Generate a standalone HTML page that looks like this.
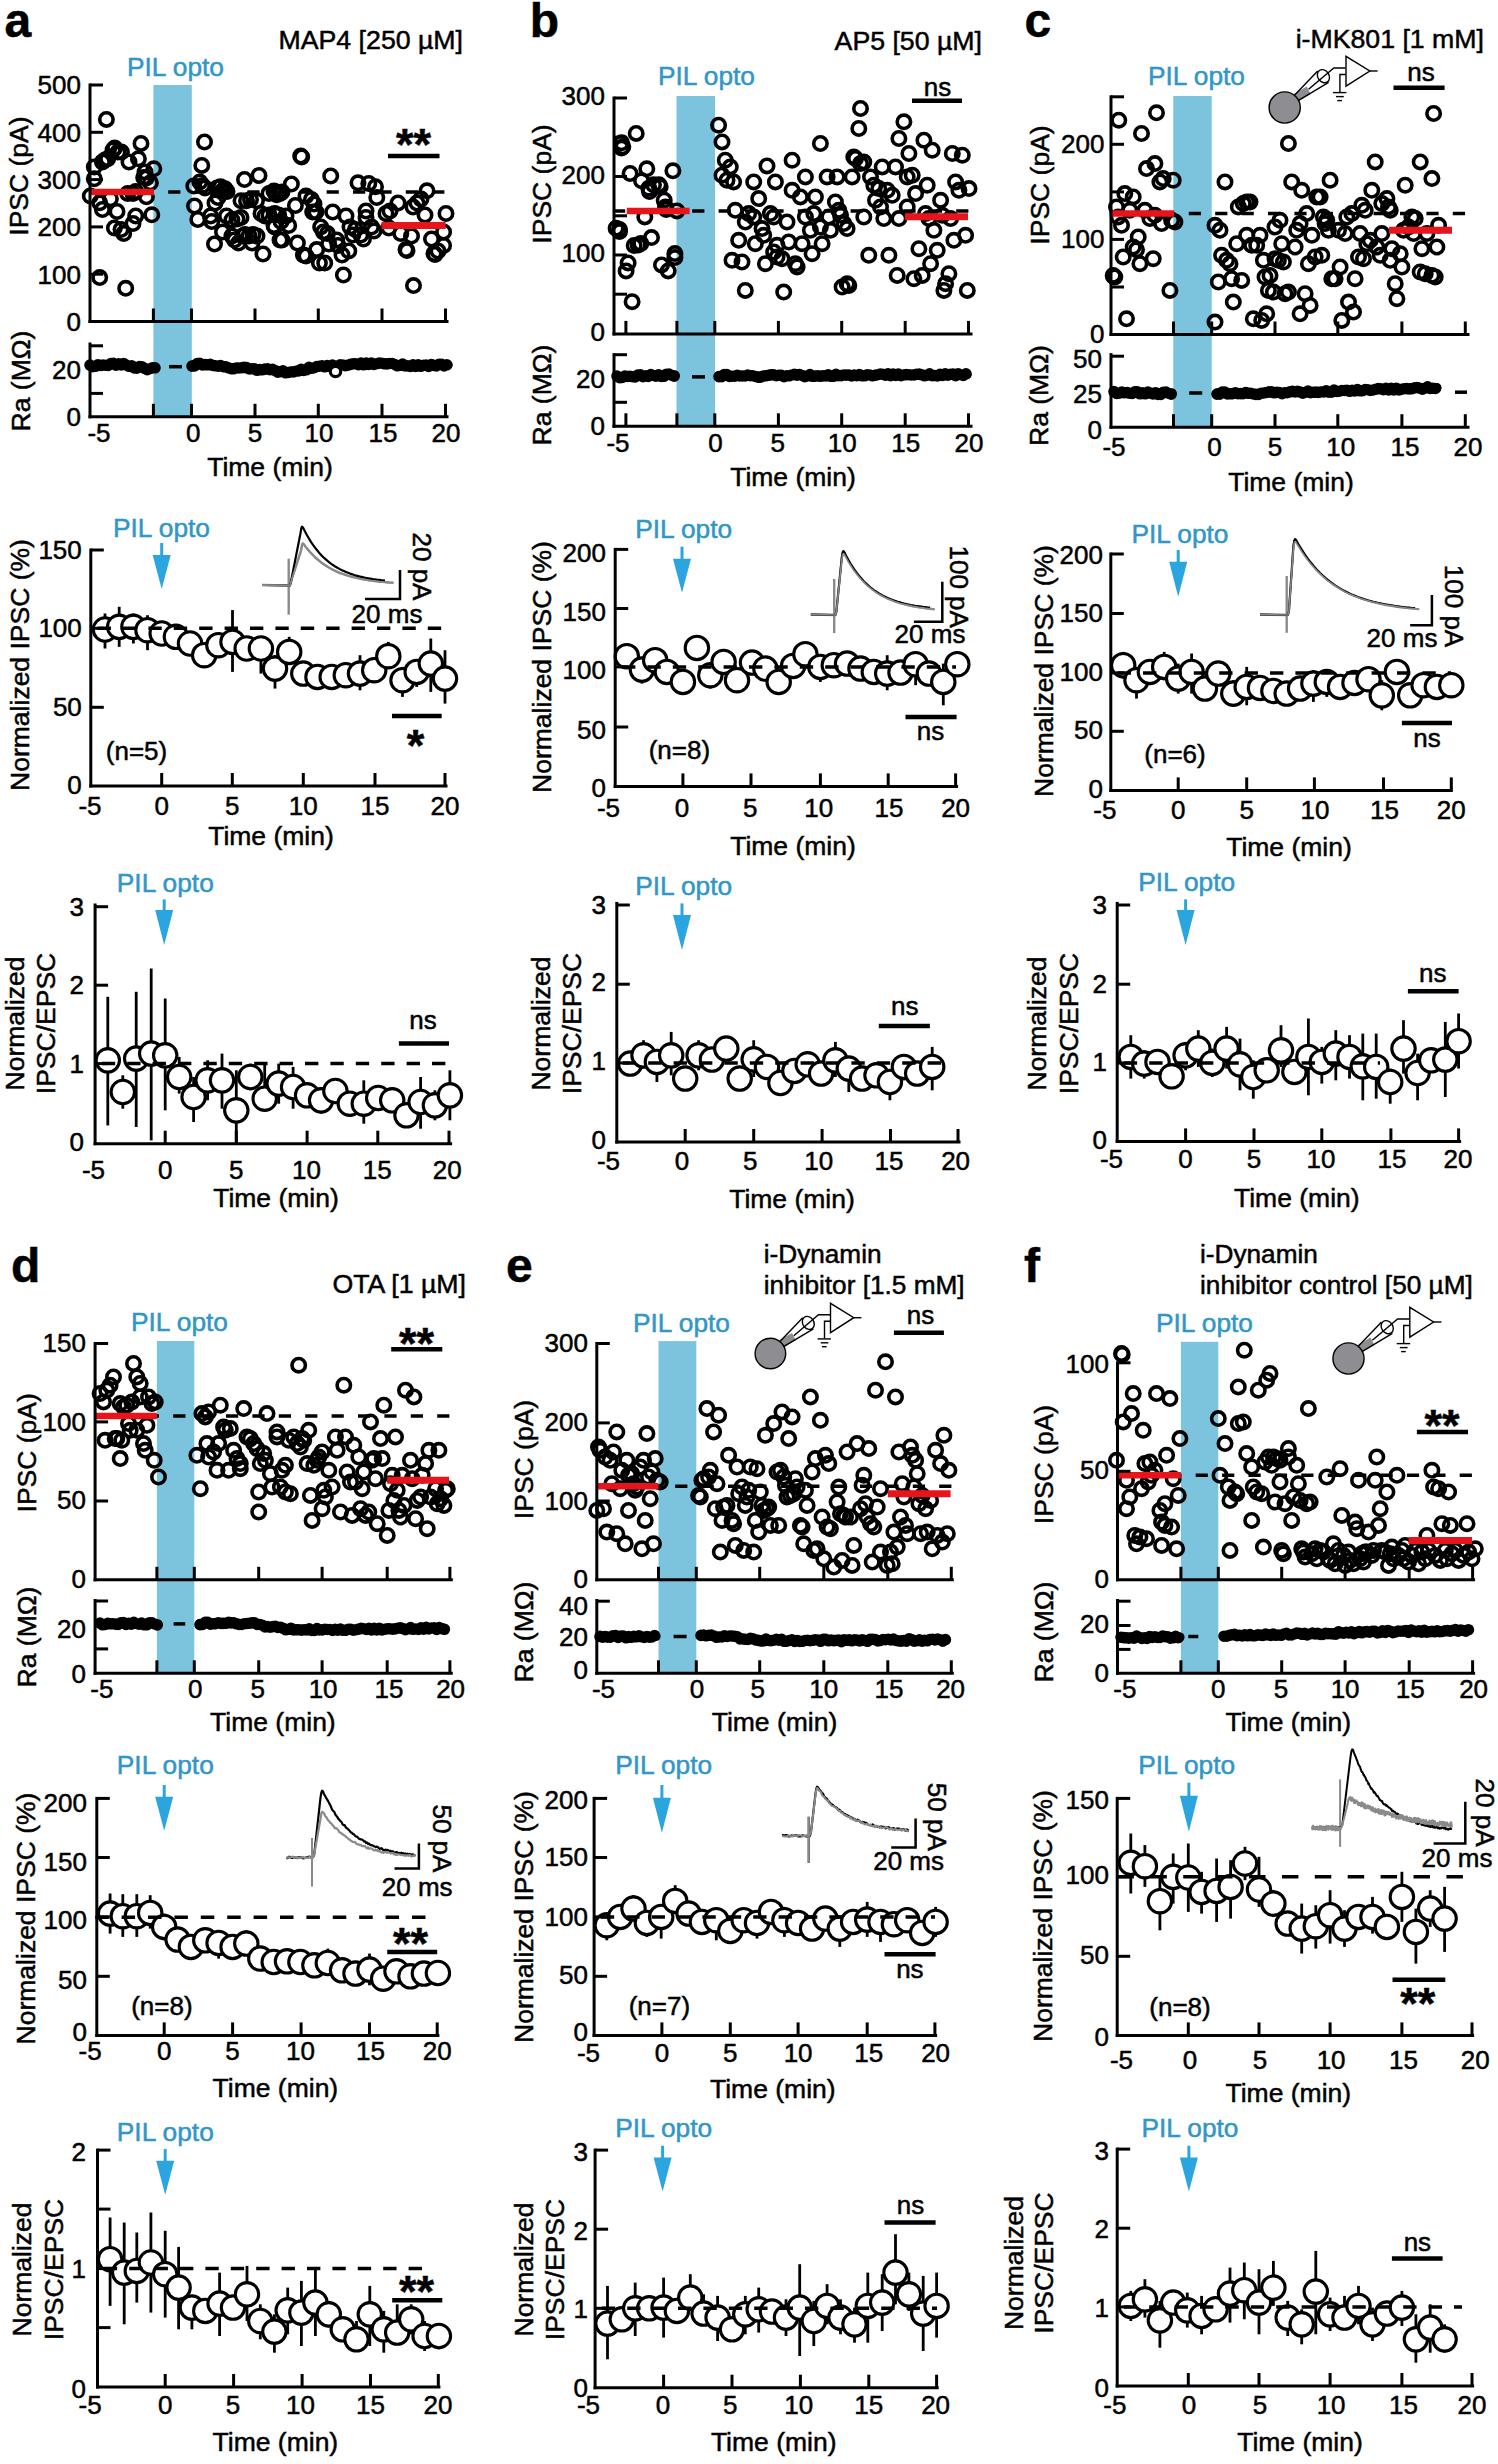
<!DOCTYPE html>
<html><head><meta charset="utf-8"><style>
html,body{margin:0;padding:0;background:#fff;}
svg{display:block;}
text{font-family:"Liberation Sans", sans-serif;stroke-width:0.5px;paint-order:stroke;}
</style></head><body>
<svg width="1498" height="2464" viewBox="0 0 1498 2464">
<rect x="0" y="0" width="1498" height="2464" fill="#fff"/>
<text x="4.5" y="36.6" font-size="48" text-anchor="start" stroke="#000" font-weight="bold">a</text>
<text x="463.0" y="49.3" font-size="26.7" text-anchor="end" stroke="#000">MAP4 [250 µM]</text>
<rect x="153.4" y="85.0" width="38.4" height="331.8" fill="#7cc3de"/>
<text x="127.0" y="75.5" font-size="26.3" text-anchor="start" fill="#3196c8" stroke="#3196c8">PIL opto</text>
<line x1="89.0" y1="192.0" x2="447.0" y2="192.0" stroke="#000" stroke-width="3.5" stroke-dasharray="12.2 14.2"/>
<circle cx="106.4" cy="119.4" r="6.7" fill="none" stroke="#000" stroke-width="3.6"/>
<circle cx="141.0" cy="143.4" r="6.7" fill="none" stroke="#000" stroke-width="3.6"/>
<circle cx="113.0" cy="150.0" r="6.7" fill="none" stroke="#000" stroke-width="3.6"/>
<circle cx="118.0" cy="152.0" r="6.7" fill="none" stroke="#000" stroke-width="3.6"/>
<circle cx="121.4" cy="152.0" r="6.7" fill="none" stroke="#000" stroke-width="3.6"/>
<circle cx="114.7" cy="148.0" r="6.7" fill="none" stroke="#000" stroke-width="3.6"/>
<circle cx="105.0" cy="160.0" r="6.7" fill="none" stroke="#000" stroke-width="3.6"/>
<circle cx="102.4" cy="162.0" r="6.7" fill="none" stroke="#000" stroke-width="3.6"/>
<circle cx="107.7" cy="158.8" r="6.7" fill="none" stroke="#000" stroke-width="3.6"/>
<circle cx="94.3" cy="167.0" r="6.7" fill="none" stroke="#000" stroke-width="3.6"/>
<circle cx="129.0" cy="162.0" r="6.7" fill="none" stroke="#000" stroke-width="3.6"/>
<circle cx="138.4" cy="158.8" r="6.7" fill="none" stroke="#000" stroke-width="3.6"/>
<circle cx="153.8" cy="168.8" r="6.7" fill="none" stroke="#000" stroke-width="3.6"/>
<circle cx="145.0" cy="172.0" r="6.7" fill="none" stroke="#000" stroke-width="3.6"/>
<circle cx="143.7" cy="177.5" r="6.7" fill="none" stroke="#000" stroke-width="3.6"/>
<circle cx="146.4" cy="178.0" r="6.7" fill="none" stroke="#000" stroke-width="3.6"/>
<circle cx="94.3" cy="178.8" r="6.7" fill="none" stroke="#000" stroke-width="3.6"/>
<circle cx="150.4" cy="182.8" r="6.7" fill="none" stroke="#000" stroke-width="3.6"/>
<circle cx="127.7" cy="193.5" r="6.7" fill="none" stroke="#000" stroke-width="3.6"/>
<circle cx="133.0" cy="193.5" r="6.7" fill="none" stroke="#000" stroke-width="3.6"/>
<circle cx="135.7" cy="191.5" r="6.7" fill="none" stroke="#000" stroke-width="3.6"/>
<circle cx="146.4" cy="196.8" r="6.7" fill="none" stroke="#000" stroke-width="3.6"/>
<circle cx="90.3" cy="196.0" r="6.7" fill="none" stroke="#000" stroke-width="3.6"/>
<circle cx="99.7" cy="202.8" r="6.7" fill="none" stroke="#000" stroke-width="3.6"/>
<circle cx="102.4" cy="209.5" r="6.7" fill="none" stroke="#000" stroke-width="3.6"/>
<circle cx="110.4" cy="198.8" r="6.7" fill="none" stroke="#000" stroke-width="3.6"/>
<circle cx="117.0" cy="211.5" r="6.7" fill="none" stroke="#000" stroke-width="3.6"/>
<circle cx="151.8" cy="214.8" r="6.7" fill="none" stroke="#000" stroke-width="3.6"/>
<circle cx="135.7" cy="216.0" r="6.7" fill="none" stroke="#000" stroke-width="3.6"/>
<circle cx="133.0" cy="223.5" r="6.7" fill="none" stroke="#000" stroke-width="3.6"/>
<circle cx="114.4" cy="228.0" r="6.7" fill="none" stroke="#000" stroke-width="3.6"/>
<circle cx="121.0" cy="229.5" r="6.7" fill="none" stroke="#000" stroke-width="3.6"/>
<circle cx="123.7" cy="233.5" r="6.7" fill="none" stroke="#000" stroke-width="3.6"/>
<circle cx="99.7" cy="277.6" r="6.7" fill="none" stroke="#000" stroke-width="3.6"/>
<circle cx="125.7" cy="288.3" r="6.7" fill="none" stroke="#000" stroke-width="3.6"/>
<circle cx="204.5" cy="142.0" r="6.7" fill="none" stroke="#000" stroke-width="3.6"/>
<circle cx="201.8" cy="165.4" r="6.7" fill="none" stroke="#000" stroke-width="3.6"/>
<circle cx="193.8" cy="186.0" r="6.7" fill="none" stroke="#000" stroke-width="3.6"/>
<circle cx="199.8" cy="182.0" r="6.7" fill="none" stroke="#000" stroke-width="3.6"/>
<circle cx="202.5" cy="185.5" r="6.7" fill="none" stroke="#000" stroke-width="3.6"/>
<circle cx="205.0" cy="188.0" r="6.7" fill="none" stroke="#000" stroke-width="3.6"/>
<circle cx="194.5" cy="206.0" r="6.7" fill="none" stroke="#000" stroke-width="3.6"/>
<circle cx="197.8" cy="219.5" r="6.7" fill="none" stroke="#000" stroke-width="3.6"/>
<circle cx="210.5" cy="216.0" r="6.7" fill="none" stroke="#000" stroke-width="3.6"/>
<circle cx="211.8" cy="221.5" r="6.7" fill="none" stroke="#000" stroke-width="3.6"/>
<circle cx="215.0" cy="203.0" r="6.7" fill="none" stroke="#000" stroke-width="3.6"/>
<circle cx="218.0" cy="197.5" r="6.7" fill="none" stroke="#000" stroke-width="3.6"/>
<circle cx="217.0" cy="188.0" r="6.7" fill="none" stroke="#000" stroke-width="3.6"/>
<circle cx="220.5" cy="186.8" r="6.7" fill="none" stroke="#000" stroke-width="3.6"/>
<circle cx="222.5" cy="190.8" r="6.7" fill="none" stroke="#000" stroke-width="3.6"/>
<circle cx="225.0" cy="188.8" r="6.7" fill="none" stroke="#000" stroke-width="3.6"/>
<circle cx="227.0" cy="191.5" r="6.7" fill="none" stroke="#000" stroke-width="3.6"/>
<circle cx="244.5" cy="179.5" r="6.7" fill="none" stroke="#000" stroke-width="3.6"/>
<circle cx="259.0" cy="175.5" r="6.7" fill="none" stroke="#000" stroke-width="3.6"/>
<circle cx="241.0" cy="200.8" r="6.7" fill="none" stroke="#000" stroke-width="3.6"/>
<circle cx="246.5" cy="200.8" r="6.7" fill="none" stroke="#000" stroke-width="3.6"/>
<circle cx="250.5" cy="199.5" r="6.7" fill="none" stroke="#000" stroke-width="3.6"/>
<circle cx="256.5" cy="200.8" r="6.7" fill="none" stroke="#000" stroke-width="3.6"/>
<circle cx="226.5" cy="216.0" r="6.7" fill="none" stroke="#000" stroke-width="3.6"/>
<circle cx="231.9" cy="220.0" r="6.7" fill="none" stroke="#000" stroke-width="3.6"/>
<circle cx="237.0" cy="218.9" r="6.7" fill="none" stroke="#000" stroke-width="3.6"/>
<circle cx="241.0" cy="217.5" r="6.7" fill="none" stroke="#000" stroke-width="3.6"/>
<circle cx="222.5" cy="232.0" r="6.7" fill="none" stroke="#000" stroke-width="3.6"/>
<circle cx="231.9" cy="236.0" r="6.7" fill="none" stroke="#000" stroke-width="3.6"/>
<circle cx="234.5" cy="240.0" r="6.7" fill="none" stroke="#000" stroke-width="3.6"/>
<circle cx="238.5" cy="243.0" r="6.7" fill="none" stroke="#000" stroke-width="3.6"/>
<circle cx="242.5" cy="236.0" r="6.7" fill="none" stroke="#000" stroke-width="3.6"/>
<circle cx="245.0" cy="234.5" r="6.7" fill="none" stroke="#000" stroke-width="3.6"/>
<circle cx="249.0" cy="236.0" r="6.7" fill="none" stroke="#000" stroke-width="3.6"/>
<circle cx="253.0" cy="234.5" r="6.7" fill="none" stroke="#000" stroke-width="3.6"/>
<circle cx="257.0" cy="236.0" r="6.7" fill="none" stroke="#000" stroke-width="3.6"/>
<circle cx="252.0" cy="243.0" r="6.7" fill="none" stroke="#000" stroke-width="3.6"/>
<circle cx="214.5" cy="244.0" r="6.7" fill="none" stroke="#000" stroke-width="3.6"/>
<circle cx="263.0" cy="254.0" r="6.7" fill="none" stroke="#000" stroke-width="3.6"/>
<circle cx="261.0" cy="213.5" r="6.7" fill="none" stroke="#000" stroke-width="3.6"/>
<circle cx="265.0" cy="216.0" r="6.7" fill="none" stroke="#000" stroke-width="3.6"/>
<circle cx="269.0" cy="215.0" r="6.7" fill="none" stroke="#000" stroke-width="3.6"/>
<circle cx="274.6" cy="213.5" r="6.7" fill="none" stroke="#000" stroke-width="3.6"/>
<circle cx="278.6" cy="215.0" r="6.7" fill="none" stroke="#000" stroke-width="3.6"/>
<circle cx="269.0" cy="193.5" r="6.7" fill="none" stroke="#000" stroke-width="3.6"/>
<circle cx="274.6" cy="192.0" r="6.7" fill="none" stroke="#000" stroke-width="3.6"/>
<circle cx="280.0" cy="193.5" r="6.7" fill="none" stroke="#000" stroke-width="3.6"/>
<circle cx="274.6" cy="227.0" r="6.7" fill="none" stroke="#000" stroke-width="3.6"/>
<circle cx="281.0" cy="221.5" r="6.7" fill="none" stroke="#000" stroke-width="3.6"/>
<circle cx="280.0" cy="240.0" r="6.7" fill="none" stroke="#000" stroke-width="3.6"/>
<circle cx="300.7" cy="156.0" r="6.7" fill="none" stroke="#000" stroke-width="3.6"/>
<circle cx="301.7" cy="157.0" r="6.7" fill="none" stroke="#000" stroke-width="3.6"/>
<circle cx="330.7" cy="176.0" r="6.7" fill="none" stroke="#000" stroke-width="3.6"/>
<circle cx="291.4" cy="184.0" r="6.7" fill="none" stroke="#000" stroke-width="3.6"/>
<circle cx="282.0" cy="192.0" r="6.7" fill="none" stroke="#000" stroke-width="3.6"/>
<circle cx="274.0" cy="191.0" r="6.7" fill="none" stroke="#000" stroke-width="3.6"/>
<circle cx="276.7" cy="194.8" r="6.7" fill="none" stroke="#000" stroke-width="3.6"/>
<circle cx="306.0" cy="196.0" r="6.7" fill="none" stroke="#000" stroke-width="3.6"/>
<circle cx="311.4" cy="199.5" r="6.7" fill="none" stroke="#000" stroke-width="3.6"/>
<circle cx="314.0" cy="204.0" r="6.7" fill="none" stroke="#000" stroke-width="3.6"/>
<circle cx="312.7" cy="212.0" r="6.7" fill="none" stroke="#000" stroke-width="3.6"/>
<circle cx="316.0" cy="212.0" r="6.7" fill="none" stroke="#000" stroke-width="3.6"/>
<circle cx="295.4" cy="205.5" r="6.7" fill="none" stroke="#000" stroke-width="3.6"/>
<circle cx="286.0" cy="216.0" r="6.7" fill="none" stroke="#000" stroke-width="3.6"/>
<circle cx="288.7" cy="225.5" r="6.7" fill="none" stroke="#000" stroke-width="3.6"/>
<circle cx="275.3" cy="214.8" r="6.7" fill="none" stroke="#000" stroke-width="3.6"/>
<circle cx="274.0" cy="225.5" r="6.7" fill="none" stroke="#000" stroke-width="3.6"/>
<circle cx="282.0" cy="240.0" r="6.7" fill="none" stroke="#000" stroke-width="3.6"/>
<circle cx="297.4" cy="243.0" r="6.7" fill="none" stroke="#000" stroke-width="3.6"/>
<circle cx="303.4" cy="255.0" r="6.7" fill="none" stroke="#000" stroke-width="3.6"/>
<circle cx="306.0" cy="256.0" r="6.7" fill="none" stroke="#000" stroke-width="3.6"/>
<circle cx="316.7" cy="249.6" r="6.7" fill="none" stroke="#000" stroke-width="3.6"/>
<circle cx="319.4" cy="263.0" r="6.7" fill="none" stroke="#000" stroke-width="3.6"/>
<circle cx="324.7" cy="263.0" r="6.7" fill="none" stroke="#000" stroke-width="3.6"/>
<circle cx="320.7" cy="227.0" r="6.7" fill="none" stroke="#000" stroke-width="3.6"/>
<circle cx="323.4" cy="232.0" r="6.7" fill="none" stroke="#000" stroke-width="3.6"/>
<circle cx="327.4" cy="233.5" r="6.7" fill="none" stroke="#000" stroke-width="3.6"/>
<circle cx="332.7" cy="212.0" r="6.7" fill="none" stroke="#000" stroke-width="3.6"/>
<circle cx="346.0" cy="216.0" r="6.7" fill="none" stroke="#000" stroke-width="3.6"/>
<circle cx="328.7" cy="244.0" r="6.7" fill="none" stroke="#000" stroke-width="3.6"/>
<circle cx="336.7" cy="240.0" r="6.7" fill="none" stroke="#000" stroke-width="3.6"/>
<circle cx="338.0" cy="245.5" r="6.7" fill="none" stroke="#000" stroke-width="3.6"/>
<circle cx="342.0" cy="255.0" r="6.7" fill="none" stroke="#000" stroke-width="3.6"/>
<circle cx="348.8" cy="251.0" r="6.7" fill="none" stroke="#000" stroke-width="3.6"/>
<circle cx="343.4" cy="275.0" r="6.7" fill="none" stroke="#000" stroke-width="3.6"/>
<circle cx="358.0" cy="182.8" r="6.7" fill="none" stroke="#000" stroke-width="3.6"/>
<circle cx="368.8" cy="183.5" r="6.7" fill="none" stroke="#000" stroke-width="3.6"/>
<circle cx="375.5" cy="186.8" r="6.7" fill="none" stroke="#000" stroke-width="3.6"/>
<circle cx="376.8" cy="197.5" r="6.7" fill="none" stroke="#000" stroke-width="3.6"/>
<circle cx="366.0" cy="211.0" r="6.7" fill="none" stroke="#000" stroke-width="3.6"/>
<circle cx="366.0" cy="217.5" r="6.7" fill="none" stroke="#000" stroke-width="3.6"/>
<circle cx="350.0" cy="227.0" r="6.7" fill="none" stroke="#000" stroke-width="3.6"/>
<circle cx="355.4" cy="229.5" r="6.7" fill="none" stroke="#000" stroke-width="3.6"/>
<circle cx="360.8" cy="235.0" r="6.7" fill="none" stroke="#000" stroke-width="3.6"/>
<circle cx="363.5" cy="239.0" r="6.7" fill="none" stroke="#000" stroke-width="3.6"/>
<circle cx="352.8" cy="235.0" r="6.7" fill="none" stroke="#000" stroke-width="3.6"/>
<circle cx="371.5" cy="227.0" r="6.7" fill="none" stroke="#000" stroke-width="3.6"/>
<circle cx="374.0" cy="231.0" r="6.7" fill="none" stroke="#000" stroke-width="3.6"/>
<circle cx="386.0" cy="213.5" r="6.7" fill="none" stroke="#000" stroke-width="3.6"/>
<circle cx="390.0" cy="211.0" r="6.7" fill="none" stroke="#000" stroke-width="3.6"/>
<circle cx="398.0" cy="203.0" r="6.7" fill="none" stroke="#000" stroke-width="3.6"/>
<circle cx="388.8" cy="228.0" r="6.7" fill="none" stroke="#000" stroke-width="3.6"/>
<circle cx="400.8" cy="233.5" r="6.7" fill="none" stroke="#000" stroke-width="3.6"/>
<circle cx="406.0" cy="249.6" r="6.7" fill="none" stroke="#000" stroke-width="3.6"/>
<circle cx="407.0" cy="250.6" r="6.7" fill="none" stroke="#000" stroke-width="3.6"/>
<circle cx="413.5" cy="285.6" r="6.7" fill="none" stroke="#000" stroke-width="3.6"/>
<circle cx="411.5" cy="236.0" r="6.7" fill="none" stroke="#000" stroke-width="3.6"/>
<circle cx="413.0" cy="207.0" r="6.7" fill="none" stroke="#000" stroke-width="3.6"/>
<circle cx="417.0" cy="203.0" r="6.7" fill="none" stroke="#000" stroke-width="3.6"/>
<circle cx="421.0" cy="199.0" r="6.7" fill="none" stroke="#000" stroke-width="3.6"/>
<circle cx="427.0" cy="190.8" r="6.7" fill="none" stroke="#000" stroke-width="3.6"/>
<circle cx="425.0" cy="215.0" r="6.7" fill="none" stroke="#000" stroke-width="3.6"/>
<circle cx="431.5" cy="239.0" r="6.7" fill="none" stroke="#000" stroke-width="3.6"/>
<circle cx="434.0" cy="253.5" r="6.7" fill="none" stroke="#000" stroke-width="3.6"/>
<circle cx="435.0" cy="254.5" r="6.7" fill="none" stroke="#000" stroke-width="3.6"/>
<circle cx="438.0" cy="251.0" r="6.7" fill="none" stroke="#000" stroke-width="3.6"/>
<circle cx="443.6" cy="245.5" r="6.7" fill="none" stroke="#000" stroke-width="3.6"/>
<circle cx="446.0" cy="213.5" r="6.7" fill="none" stroke="#000" stroke-width="3.6"/>
<circle cx="443.6" cy="232.0" r="6.7" fill="none" stroke="#000" stroke-width="3.6"/>
<line x1="90.0" y1="192.0" x2="154.0" y2="192.0" stroke="#e8141b" stroke-width="6.5"/>
<line x1="381.5" y1="225.5" x2="445.6" y2="225.5" stroke="#e8141b" stroke-width="7"/>
<text x="413.5" y="159.5" font-size="45" text-anchor="middle" stroke="#000" font-weight="bold">**</text>
<line x1="388.0" y1="156.0" x2="439.5" y2="156.0" stroke="#000" stroke-width="4.5"/>
<line x1="90.0" y1="83.5" x2="90.0" y2="323.0" stroke="#000" stroke-width="3"/>
<line x1="90.0" y1="85.0" x2="103.0" y2="85.0" stroke="#000" stroke-width="3"/>
<line x1="90.0" y1="132.3" x2="103.0" y2="132.3" stroke="#000" stroke-width="3"/>
<line x1="90.0" y1="179.6" x2="103.0" y2="179.6" stroke="#000" stroke-width="3"/>
<line x1="90.0" y1="226.9" x2="103.0" y2="226.9" stroke="#000" stroke-width="3"/>
<line x1="90.0" y1="274.2" x2="103.0" y2="274.2" stroke="#000" stroke-width="3"/>
<text x="81.0" y="94.3" font-size="26" text-anchor="end" stroke="#000">500</text>
<text x="81.0" y="141.6" font-size="26" text-anchor="end" stroke="#000">400</text>
<text x="81.0" y="188.9" font-size="26" text-anchor="end" stroke="#000">300</text>
<text x="81.0" y="236.2" font-size="26" text-anchor="end" stroke="#000">200</text>
<text x="81.0" y="283.5" font-size="26" text-anchor="end" stroke="#000">100</text>
<text x="81.0" y="330.8" font-size="26" text-anchor="end" stroke="#000">0</text>
<line x1="88.5" y1="321.5" x2="448.5" y2="321.5" stroke="#000" stroke-width="3"/>
<line x1="153.4" y1="321.5" x2="153.4" y2="308.5" stroke="#000" stroke-width="3"/>
<line x1="191.5" y1="321.5" x2="191.5" y2="308.5" stroke="#000" stroke-width="3"/>
<line x1="255.0" y1="321.5" x2="255.0" y2="308.5" stroke="#000" stroke-width="3"/>
<line x1="318.3" y1="321.5" x2="318.3" y2="308.5" stroke="#000" stroke-width="3"/>
<line x1="382.0" y1="321.5" x2="382.0" y2="308.5" stroke="#000" stroke-width="3"/>
<line x1="445.5" y1="321.5" x2="445.5" y2="308.5" stroke="#000" stroke-width="3"/>
<text x="27.8" y="176.1" font-size="26.5" text-anchor="middle" stroke="#000" transform="rotate(-90 27.8 176.1)">IPSC (pA)</text>
<line x1="169.0" y1="366.7" x2="182.0" y2="366.7" stroke="#000" stroke-width="3.5" stroke-dasharray="13 14"/>
<polyline points="90.0,366.0 105.0,365.0 120.0,364.0 135.0,367.0 150.0,369.0 155.0,368.0" fill="none" stroke="#000" stroke-width="9.2" stroke-linecap="round" stroke-linejoin="round"/>
<path d="M84.2,365.1a5.8,5.8 0 1,0 11.6,0a5.8,5.8 0 1,0 -11.6,0M86.8,366.7a5.8,5.8 0 1,0 11.6,0a5.8,5.8 0 1,0 -11.6,0M89.4,366.3a5.8,5.8 0 1,0 11.6,0a5.8,5.8 0 1,0 -11.6,0M92.0,364.9a5.8,5.8 0 1,0 11.6,0a5.8,5.8 0 1,0 -11.6,0M94.6,365.3a5.8,5.8 0 1,0 11.6,0a5.8,5.8 0 1,0 -11.6,0M97.2,365.0a5.8,5.8 0 1,0 11.6,0a5.8,5.8 0 1,0 -11.6,0M99.8,365.3a5.8,5.8 0 1,0 11.6,0a5.8,5.8 0 1,0 -11.6,0M102.4,365.5a5.8,5.8 0 1,0 11.6,0a5.8,5.8 0 1,0 -11.6,0M105.0,363.6a5.8,5.8 0 1,0 11.6,0a5.8,5.8 0 1,0 -11.6,0M107.6,363.3a5.8,5.8 0 1,0 11.6,0a5.8,5.8 0 1,0 -11.6,0M110.2,365.1a5.8,5.8 0 1,0 11.6,0a5.8,5.8 0 1,0 -11.6,0M112.8,363.9a5.8,5.8 0 1,0 11.6,0a5.8,5.8 0 1,0 -11.6,0M115.4,364.9a5.8,5.8 0 1,0 11.6,0a5.8,5.8 0 1,0 -11.6,0M118.0,363.6a5.8,5.8 0 1,0 11.6,0a5.8,5.8 0 1,0 -11.6,0M120.6,365.1a5.8,5.8 0 1,0 11.6,0a5.8,5.8 0 1,0 -11.6,0M123.2,366.3a5.8,5.8 0 1,0 11.6,0a5.8,5.8 0 1,0 -11.6,0M125.8,365.7a5.8,5.8 0 1,0 11.6,0a5.8,5.8 0 1,0 -11.6,0M128.4,367.9a5.8,5.8 0 1,0 11.6,0a5.8,5.8 0 1,0 -11.6,0M131.0,368.2a5.8,5.8 0 1,0 11.6,0a5.8,5.8 0 1,0 -11.6,0M133.6,366.5a5.8,5.8 0 1,0 11.6,0a5.8,5.8 0 1,0 -11.6,0M136.2,366.8a5.8,5.8 0 1,0 11.6,0a5.8,5.8 0 1,0 -11.6,0M138.8,368.4a5.8,5.8 0 1,0 11.6,0a5.8,5.8 0 1,0 -11.6,0M141.4,369.7a5.8,5.8 0 1,0 11.6,0a5.8,5.8 0 1,0 -11.6,0M144.0,368.7a5.8,5.8 0 1,0 11.6,0a5.8,5.8 0 1,0 -11.6,0M146.6,367.8a5.8,5.8 0 1,0 11.6,0a5.8,5.8 0 1,0 -11.6,0M149.2,367.8a5.8,5.8 0 1,0 11.6,0a5.8,5.8 0 1,0 -11.6,0" fill="#000"/>
<polyline points="192.0,365.0 205.0,364.0 225.0,367.0 250.0,369.0 270.0,370.0 287.0,372.0 300.0,370.0 320.0,366.0 340.0,365.0 360.0,364.0 380.0,363.0 400.0,365.0 420.0,366.0 440.0,365.0 448.0,365.0" fill="none" stroke="#000" stroke-width="9.2" stroke-linecap="round" stroke-linejoin="round"/>
<path d="M186.2,366.1a5.8,5.8 0 1,0 11.6,0a5.8,5.8 0 1,0 -11.6,0M188.8,365.9a5.8,5.8 0 1,0 11.6,0a5.8,5.8 0 1,0 -11.6,0M191.4,363.5a5.8,5.8 0 1,0 11.6,0a5.8,5.8 0 1,0 -11.6,0M194.0,363.4a5.8,5.8 0 1,0 11.6,0a5.8,5.8 0 1,0 -11.6,0M196.6,365.0a5.8,5.8 0 1,0 11.6,0a5.8,5.8 0 1,0 -11.6,0M199.2,364.6a5.8,5.8 0 1,0 11.6,0a5.8,5.8 0 1,0 -11.6,0M201.8,364.8a5.8,5.8 0 1,0 11.6,0a5.8,5.8 0 1,0 -11.6,0M204.4,364.3a5.8,5.8 0 1,0 11.6,0a5.8,5.8 0 1,0 -11.6,0M207.0,365.4a5.8,5.8 0 1,0 11.6,0a5.8,5.8 0 1,0 -11.6,0M209.6,365.8a5.8,5.8 0 1,0 11.6,0a5.8,5.8 0 1,0 -11.6,0M212.2,366.1a5.8,5.8 0 1,0 11.6,0a5.8,5.8 0 1,0 -11.6,0M214.8,365.5a5.8,5.8 0 1,0 11.6,0a5.8,5.8 0 1,0 -11.6,0M217.4,366.6a5.8,5.8 0 1,0 11.6,0a5.8,5.8 0 1,0 -11.6,0M220.0,366.8a5.8,5.8 0 1,0 11.6,0a5.8,5.8 0 1,0 -11.6,0M222.6,367.8a5.8,5.8 0 1,0 11.6,0a5.8,5.8 0 1,0 -11.6,0M225.2,368.7a5.8,5.8 0 1,0 11.6,0a5.8,5.8 0 1,0 -11.6,0M227.8,368.8a5.8,5.8 0 1,0 11.6,0a5.8,5.8 0 1,0 -11.6,0M230.4,368.0a5.8,5.8 0 1,0 11.6,0a5.8,5.8 0 1,0 -11.6,0M233.0,368.0a5.8,5.8 0 1,0 11.6,0a5.8,5.8 0 1,0 -11.6,0M235.6,367.8a5.8,5.8 0 1,0 11.6,0a5.8,5.8 0 1,0 -11.6,0M238.2,367.4a5.8,5.8 0 1,0 11.6,0a5.8,5.8 0 1,0 -11.6,0M240.8,367.6a5.8,5.8 0 1,0 11.6,0a5.8,5.8 0 1,0 -11.6,0M243.4,368.9a5.8,5.8 0 1,0 11.6,0a5.8,5.8 0 1,0 -11.6,0M246.0,368.7a5.8,5.8 0 1,0 11.6,0a5.8,5.8 0 1,0 -11.6,0M248.6,368.9a5.8,5.8 0 1,0 11.6,0a5.8,5.8 0 1,0 -11.6,0M251.2,370.3a5.8,5.8 0 1,0 11.6,0a5.8,5.8 0 1,0 -11.6,0M253.8,369.5a5.8,5.8 0 1,0 11.6,0a5.8,5.8 0 1,0 -11.6,0M256.4,369.8a5.8,5.8 0 1,0 11.6,0a5.8,5.8 0 1,0 -11.6,0M259.0,369.1a5.8,5.8 0 1,0 11.6,0a5.8,5.8 0 1,0 -11.6,0M261.6,368.7a5.8,5.8 0 1,0 11.6,0a5.8,5.8 0 1,0 -11.6,0M264.2,369.6a5.8,5.8 0 1,0 11.6,0a5.8,5.8 0 1,0 -11.6,0M266.8,369.4a5.8,5.8 0 1,0 11.6,0a5.8,5.8 0 1,0 -11.6,0M269.4,370.6a5.8,5.8 0 1,0 11.6,0a5.8,5.8 0 1,0 -11.6,0M272.0,372.1a5.8,5.8 0 1,0 11.6,0a5.8,5.8 0 1,0 -11.6,0M274.6,371.6a5.8,5.8 0 1,0 11.6,0a5.8,5.8 0 1,0 -11.6,0M277.2,370.8a5.8,5.8 0 1,0 11.6,0a5.8,5.8 0 1,0 -11.6,0M279.8,372.8a5.8,5.8 0 1,0 11.6,0a5.8,5.8 0 1,0 -11.6,0M282.4,372.5a5.8,5.8 0 1,0 11.6,0a5.8,5.8 0 1,0 -11.6,0M285.0,372.0a5.8,5.8 0 1,0 11.6,0a5.8,5.8 0 1,0 -11.6,0M287.6,372.0a5.8,5.8 0 1,0 11.6,0a5.8,5.8 0 1,0 -11.6,0M290.2,371.2a5.8,5.8 0 1,0 11.6,0a5.8,5.8 0 1,0 -11.6,0M292.8,370.9a5.8,5.8 0 1,0 11.6,0a5.8,5.8 0 1,0 -11.6,0M295.4,369.4a5.8,5.8 0 1,0 11.6,0a5.8,5.8 0 1,0 -11.6,0M298.0,370.4a5.8,5.8 0 1,0 11.6,0a5.8,5.8 0 1,0 -11.6,0M300.6,369.8a5.8,5.8 0 1,0 11.6,0a5.8,5.8 0 1,0 -11.6,0M303.2,367.4a5.8,5.8 0 1,0 11.6,0a5.8,5.8 0 1,0 -11.6,0M305.8,368.3a5.8,5.8 0 1,0 11.6,0a5.8,5.8 0 1,0 -11.6,0M308.4,367.7a5.8,5.8 0 1,0 11.6,0a5.8,5.8 0 1,0 -11.6,0M311.0,366.5a5.8,5.8 0 1,0 11.6,0a5.8,5.8 0 1,0 -11.6,0M313.6,366.2a5.8,5.8 0 1,0 11.6,0a5.8,5.8 0 1,0 -11.6,0M316.2,365.9a5.8,5.8 0 1,0 11.6,0a5.8,5.8 0 1,0 -11.6,0M318.8,366.8a5.8,5.8 0 1,0 11.6,0a5.8,5.8 0 1,0 -11.6,0M321.4,365.6a5.8,5.8 0 1,0 11.6,0a5.8,5.8 0 1,0 -11.6,0M324.0,366.3a5.8,5.8 0 1,0 11.6,0a5.8,5.8 0 1,0 -11.6,0M326.6,365.0a5.8,5.8 0 1,0 11.6,0a5.8,5.8 0 1,0 -11.6,0M329.2,366.2a5.8,5.8 0 1,0 11.6,0a5.8,5.8 0 1,0 -11.6,0M331.8,366.1a5.8,5.8 0 1,0 11.6,0a5.8,5.8 0 1,0 -11.6,0M334.4,364.9a5.8,5.8 0 1,0 11.6,0a5.8,5.8 0 1,0 -11.6,0M337.0,365.0a5.8,5.8 0 1,0 11.6,0a5.8,5.8 0 1,0 -11.6,0M339.6,365.7a5.8,5.8 0 1,0 11.6,0a5.8,5.8 0 1,0 -11.6,0M342.2,365.1a5.8,5.8 0 1,0 11.6,0a5.8,5.8 0 1,0 -11.6,0M344.8,364.4a5.8,5.8 0 1,0 11.6,0a5.8,5.8 0 1,0 -11.6,0M347.4,363.7a5.8,5.8 0 1,0 11.6,0a5.8,5.8 0 1,0 -11.6,0M350.0,363.8a5.8,5.8 0 1,0 11.6,0a5.8,5.8 0 1,0 -11.6,0M352.6,364.6a5.8,5.8 0 1,0 11.6,0a5.8,5.8 0 1,0 -11.6,0M355.2,363.1a5.8,5.8 0 1,0 11.6,0a5.8,5.8 0 1,0 -11.6,0M357.8,364.8a5.8,5.8 0 1,0 11.6,0a5.8,5.8 0 1,0 -11.6,0M360.4,363.1a5.8,5.8 0 1,0 11.6,0a5.8,5.8 0 1,0 -11.6,0M363.0,364.5a5.8,5.8 0 1,0 11.6,0a5.8,5.8 0 1,0 -11.6,0M365.6,363.0a5.8,5.8 0 1,0 11.6,0a5.8,5.8 0 1,0 -11.6,0M368.2,364.4a5.8,5.8 0 1,0 11.6,0a5.8,5.8 0 1,0 -11.6,0M370.8,363.7a5.8,5.8 0 1,0 11.6,0a5.8,5.8 0 1,0 -11.6,0M373.4,363.1a5.8,5.8 0 1,0 11.6,0a5.8,5.8 0 1,0 -11.6,0M376.0,363.2a5.8,5.8 0 1,0 11.6,0a5.8,5.8 0 1,0 -11.6,0M378.6,363.8a5.8,5.8 0 1,0 11.6,0a5.8,5.8 0 1,0 -11.6,0M381.2,363.9a5.8,5.8 0 1,0 11.6,0a5.8,5.8 0 1,0 -11.6,0M383.8,363.5a5.8,5.8 0 1,0 11.6,0a5.8,5.8 0 1,0 -11.6,0M386.4,363.5a5.8,5.8 0 1,0 11.6,0a5.8,5.8 0 1,0 -11.6,0M389.0,364.5a5.8,5.8 0 1,0 11.6,0a5.8,5.8 0 1,0 -11.6,0M391.6,365.8a5.8,5.8 0 1,0 11.6,0a5.8,5.8 0 1,0 -11.6,0M394.2,365.3a5.8,5.8 0 1,0 11.6,0a5.8,5.8 0 1,0 -11.6,0M396.8,364.1a5.8,5.8 0 1,0 11.6,0a5.8,5.8 0 1,0 -11.6,0M399.4,366.0a5.8,5.8 0 1,0 11.6,0a5.8,5.8 0 1,0 -11.6,0M402.0,365.9a5.8,5.8 0 1,0 11.6,0a5.8,5.8 0 1,0 -11.6,0M404.6,366.5a5.8,5.8 0 1,0 11.6,0a5.8,5.8 0 1,0 -11.6,0M407.2,364.9a5.8,5.8 0 1,0 11.6,0a5.8,5.8 0 1,0 -11.6,0M409.8,366.4a5.8,5.8 0 1,0 11.6,0a5.8,5.8 0 1,0 -11.6,0M412.4,364.9a5.8,5.8 0 1,0 11.6,0a5.8,5.8 0 1,0 -11.6,0M415.0,366.3a5.8,5.8 0 1,0 11.6,0a5.8,5.8 0 1,0 -11.6,0M417.6,365.3a5.8,5.8 0 1,0 11.6,0a5.8,5.8 0 1,0 -11.6,0M420.2,365.0a5.8,5.8 0 1,0 11.6,0a5.8,5.8 0 1,0 -11.6,0M422.8,366.5a5.8,5.8 0 1,0 11.6,0a5.8,5.8 0 1,0 -11.6,0M425.4,364.5a5.8,5.8 0 1,0 11.6,0a5.8,5.8 0 1,0 -11.6,0M428.0,365.4a5.8,5.8 0 1,0 11.6,0a5.8,5.8 0 1,0 -11.6,0M430.6,366.0a5.8,5.8 0 1,0 11.6,0a5.8,5.8 0 1,0 -11.6,0M433.2,364.4a5.8,5.8 0 1,0 11.6,0a5.8,5.8 0 1,0 -11.6,0M435.8,364.3a5.8,5.8 0 1,0 11.6,0a5.8,5.8 0 1,0 -11.6,0M438.4,365.9a5.8,5.8 0 1,0 11.6,0a5.8,5.8 0 1,0 -11.6,0M441.0,364.8a5.8,5.8 0 1,0 11.6,0a5.8,5.8 0 1,0 -11.6,0" fill="#000"/>
<circle cx="335.5" cy="371.5" r="5.2" fill="#fff" stroke="#000" stroke-width="3.2"/>
<line x1="90.0" y1="342.5" x2="90.0" y2="418.3" stroke="#000" stroke-width="3"/>
<line x1="90.0" y1="345.8" x2="103.0" y2="345.8" stroke="#000" stroke-width="3"/>
<line x1="90.0" y1="369.6" x2="103.0" y2="369.6" stroke="#000" stroke-width="3"/>
<line x1="90.0" y1="393.4" x2="103.0" y2="393.4" stroke="#000" stroke-width="3"/>
<text x="81.0" y="378.9" font-size="26" text-anchor="end" stroke="#000">20</text>
<text x="81.0" y="426.1" font-size="26" text-anchor="end" stroke="#000">0</text>
<line x1="88.5" y1="416.8" x2="448.5" y2="416.8" stroke="#000" stroke-width="3"/>
<line x1="153.4" y1="416.8" x2="153.4" y2="403.8" stroke="#000" stroke-width="3"/>
<line x1="191.5" y1="416.8" x2="191.5" y2="403.8" stroke="#000" stroke-width="3"/>
<line x1="255.0" y1="416.8" x2="255.0" y2="403.8" stroke="#000" stroke-width="3"/>
<line x1="318.3" y1="416.8" x2="318.3" y2="403.8" stroke="#000" stroke-width="3"/>
<line x1="382.0" y1="416.8" x2="382.0" y2="403.8" stroke="#000" stroke-width="3"/>
<line x1="445.5" y1="416.8" x2="445.5" y2="403.8" stroke="#000" stroke-width="3"/>
<text x="99.0" y="441.9" font-size="26" text-anchor="middle" stroke="#000">-5</text>
<text x="193.3" y="441.9" font-size="26" text-anchor="middle" stroke="#000">0</text>
<text x="255.0" y="441.9" font-size="26" text-anchor="middle" stroke="#000">5</text>
<text x="319.0" y="441.9" font-size="26" text-anchor="middle" stroke="#000">10</text>
<text x="383.0" y="441.9" font-size="26" text-anchor="middle" stroke="#000">15</text>
<text x="446.0" y="441.9" font-size="26" text-anchor="middle" stroke="#000">20</text>
<text x="29.5" y="381.0" font-size="26.5" text-anchor="middle" stroke="#000" transform="rotate(-90 29.5 381.0)">Ra (MΩ)</text>
<text x="270.0" y="475.8" font-size="26.5" text-anchor="middle" stroke="#000">Time (min)</text>
<text x="529.8" y="36.6" font-size="48" text-anchor="start" stroke="#000" font-weight="bold">b</text>
<text x="982.0" y="50.0" font-size="26.7" text-anchor="end" stroke="#000">AP5 [50 µM]</text>
<rect x="676.5" y="96.0" width="38.5" height="330.3" fill="#7cc3de"/>
<text x="658.0" y="85.4" font-size="26.3" text-anchor="start" fill="#3196c8" stroke="#3196c8">PIL opto</text>
<line x1="613.0" y1="210.9" x2="970.0" y2="210.9" stroke="#000" stroke-width="3.5" stroke-dasharray="12.2 14.2"/>
<circle cx="636.2" cy="133.4" r="6.7" fill="none" stroke="#000" stroke-width="3.6"/>
<circle cx="621.5" cy="142.8" r="6.7" fill="none" stroke="#000" stroke-width="3.6"/>
<circle cx="622.8" cy="146.8" r="6.7" fill="none" stroke="#000" stroke-width="3.6"/>
<circle cx="621.5" cy="148.1" r="6.7" fill="none" stroke="#000" stroke-width="3.6"/>
<circle cx="630.1" cy="173.5" r="6.7" fill="none" stroke="#000" stroke-width="3.6"/>
<circle cx="646.8" cy="168.8" r="6.7" fill="none" stroke="#000" stroke-width="3.6"/>
<circle cx="641.5" cy="180.8" r="6.7" fill="none" stroke="#000" stroke-width="3.6"/>
<circle cx="648.8" cy="188.2" r="6.7" fill="none" stroke="#000" stroke-width="3.6"/>
<circle cx="653.5" cy="184.8" r="6.7" fill="none" stroke="#000" stroke-width="3.6"/>
<circle cx="658.9" cy="184.8" r="6.7" fill="none" stroke="#000" stroke-width="3.6"/>
<circle cx="660.2" cy="186.8" r="6.7" fill="none" stroke="#000" stroke-width="3.6"/>
<circle cx="649.5" cy="191.5" r="6.7" fill="none" stroke="#000" stroke-width="3.6"/>
<circle cx="664.2" cy="200.2" r="6.7" fill="none" stroke="#000" stroke-width="3.6"/>
<circle cx="672.9" cy="170.8" r="6.7" fill="none" stroke="#000" stroke-width="3.6"/>
<circle cx="665.5" cy="206.9" r="6.7" fill="none" stroke="#000" stroke-width="3.6"/>
<circle cx="666.2" cy="209.5" r="6.7" fill="none" stroke="#000" stroke-width="3.6"/>
<circle cx="676.9" cy="210.9" r="6.7" fill="none" stroke="#000" stroke-width="3.6"/>
<circle cx="644.8" cy="216.9" r="6.7" fill="none" stroke="#000" stroke-width="3.6"/>
<circle cx="616.1" cy="228.2" r="6.7" fill="none" stroke="#000" stroke-width="3.6"/>
<circle cx="619.5" cy="231.6" r="6.7" fill="none" stroke="#000" stroke-width="3.6"/>
<circle cx="619.5" cy="229.6" r="6.7" fill="none" stroke="#000" stroke-width="3.6"/>
<circle cx="651.5" cy="237.6" r="6.7" fill="none" stroke="#000" stroke-width="3.6"/>
<circle cx="634.2" cy="245.6" r="6.7" fill="none" stroke="#000" stroke-width="3.6"/>
<circle cx="638.2" cy="244.9" r="6.7" fill="none" stroke="#000" stroke-width="3.6"/>
<circle cx="640.8" cy="243.6" r="6.7" fill="none" stroke="#000" stroke-width="3.6"/>
<circle cx="628.1" cy="262.9" r="6.7" fill="none" stroke="#000" stroke-width="3.6"/>
<circle cx="626.1" cy="270.9" r="6.7" fill="none" stroke="#000" stroke-width="3.6"/>
<circle cx="661.5" cy="264.9" r="6.7" fill="none" stroke="#000" stroke-width="3.6"/>
<circle cx="668.2" cy="270.9" r="6.7" fill="none" stroke="#000" stroke-width="3.6"/>
<circle cx="674.9" cy="257.6" r="6.7" fill="none" stroke="#000" stroke-width="3.6"/>
<circle cx="674.9" cy="253.6" r="6.7" fill="none" stroke="#000" stroke-width="3.6"/>
<circle cx="632.1" cy="301.7" r="6.7" fill="none" stroke="#000" stroke-width="3.6"/>
<circle cx="718.6" cy="125.2" r="6.7" fill="none" stroke="#000" stroke-width="3.6"/>
<circle cx="722.0" cy="141.9" r="6.7" fill="none" stroke="#000" stroke-width="3.6"/>
<circle cx="725.3" cy="160.2" r="6.7" fill="none" stroke="#000" stroke-width="3.6"/>
<circle cx="730.3" cy="166.9" r="6.7" fill="none" stroke="#000" stroke-width="3.6"/>
<circle cx="722.0" cy="175.2" r="6.7" fill="none" stroke="#000" stroke-width="3.6"/>
<circle cx="727.0" cy="180.2" r="6.7" fill="none" stroke="#000" stroke-width="3.6"/>
<circle cx="733.6" cy="181.9" r="6.7" fill="none" stroke="#000" stroke-width="3.6"/>
<circle cx="735.3" cy="210.3" r="6.7" fill="none" stroke="#000" stroke-width="3.6"/>
<circle cx="738.7" cy="240.3" r="6.7" fill="none" stroke="#000" stroke-width="3.6"/>
<circle cx="732.0" cy="260.3" r="6.7" fill="none" stroke="#000" stroke-width="3.6"/>
<circle cx="742.0" cy="262.0" r="6.7" fill="none" stroke="#000" stroke-width="3.6"/>
<circle cx="745.3" cy="290.4" r="6.7" fill="none" stroke="#000" stroke-width="3.6"/>
<circle cx="753.7" cy="181.9" r="6.7" fill="none" stroke="#000" stroke-width="3.6"/>
<circle cx="748.7" cy="213.6" r="6.7" fill="none" stroke="#000" stroke-width="3.6"/>
<circle cx="753.7" cy="217.0" r="6.7" fill="none" stroke="#000" stroke-width="3.6"/>
<circle cx="745.3" cy="222.0" r="6.7" fill="none" stroke="#000" stroke-width="3.6"/>
<circle cx="758.7" cy="198.6" r="6.7" fill="none" stroke="#000" stroke-width="3.6"/>
<circle cx="762.0" cy="228.6" r="6.7" fill="none" stroke="#000" stroke-width="3.6"/>
<circle cx="763.7" cy="235.3" r="6.7" fill="none" stroke="#000" stroke-width="3.6"/>
<circle cx="755.3" cy="243.7" r="6.7" fill="none" stroke="#000" stroke-width="3.6"/>
<circle cx="765.4" cy="263.7" r="6.7" fill="none" stroke="#000" stroke-width="3.6"/>
<circle cx="767.0" cy="165.9" r="6.7" fill="none" stroke="#000" stroke-width="3.6"/>
<circle cx="770.4" cy="213.6" r="6.7" fill="none" stroke="#000" stroke-width="3.6"/>
<circle cx="773.7" cy="217.0" r="6.7" fill="none" stroke="#000" stroke-width="3.6"/>
<circle cx="775.4" cy="181.9" r="6.7" fill="none" stroke="#000" stroke-width="3.6"/>
<circle cx="777.0" cy="245.3" r="6.7" fill="none" stroke="#000" stroke-width="3.6"/>
<circle cx="773.7" cy="252.0" r="6.7" fill="none" stroke="#000" stroke-width="3.6"/>
<circle cx="777.0" cy="257.0" r="6.7" fill="none" stroke="#000" stroke-width="3.6"/>
<circle cx="782.0" cy="258.7" r="6.7" fill="none" stroke="#000" stroke-width="3.6"/>
<circle cx="783.7" cy="292.1" r="6.7" fill="none" stroke="#000" stroke-width="3.6"/>
<circle cx="787.0" cy="222.0" r="6.7" fill="none" stroke="#000" stroke-width="3.6"/>
<circle cx="792.1" cy="190.3" r="6.7" fill="none" stroke="#000" stroke-width="3.6"/>
<circle cx="792.1" cy="160.2" r="6.7" fill="none" stroke="#000" stroke-width="3.6"/>
<circle cx="788.7" cy="242.0" r="6.7" fill="none" stroke="#000" stroke-width="3.6"/>
<circle cx="795.4" cy="263.7" r="6.7" fill="none" stroke="#000" stroke-width="3.6"/>
<circle cx="797.1" cy="267.0" r="6.7" fill="none" stroke="#000" stroke-width="3.6"/>
<circle cx="800.4" cy="196.9" r="6.7" fill="none" stroke="#000" stroke-width="3.6"/>
<circle cx="802.1" cy="243.7" r="6.7" fill="none" stroke="#000" stroke-width="3.6"/>
<circle cx="805.4" cy="176.9" r="6.7" fill="none" stroke="#000" stroke-width="3.6"/>
<circle cx="805.4" cy="217.0" r="6.7" fill="none" stroke="#000" stroke-width="3.6"/>
<circle cx="810.4" cy="230.3" r="6.7" fill="none" stroke="#000" stroke-width="3.6"/>
<circle cx="812.1" cy="253.7" r="6.7" fill="none" stroke="#000" stroke-width="3.6"/>
<circle cx="815.4" cy="196.9" r="6.7" fill="none" stroke="#000" stroke-width="3.6"/>
<circle cx="813.8" cy="213.6" r="6.7" fill="none" stroke="#000" stroke-width="3.6"/>
<circle cx="820.4" cy="143.5" r="6.7" fill="none" stroke="#000" stroke-width="3.6"/>
<circle cx="820.4" cy="227.0" r="6.7" fill="none" stroke="#000" stroke-width="3.6"/>
<circle cx="822.1" cy="243.7" r="6.7" fill="none" stroke="#000" stroke-width="3.6"/>
<circle cx="827.1" cy="176.9" r="6.7" fill="none" stroke="#000" stroke-width="3.6"/>
<circle cx="828.8" cy="217.0" r="6.7" fill="none" stroke="#000" stroke-width="3.6"/>
<circle cx="830.4" cy="230.3" r="6.7" fill="none" stroke="#000" stroke-width="3.6"/>
<circle cx="835.4" cy="201.9" r="6.7" fill="none" stroke="#000" stroke-width="3.6"/>
<circle cx="837.1" cy="176.9" r="6.7" fill="none" stroke="#000" stroke-width="3.6"/>
<circle cx="838.8" cy="210.3" r="6.7" fill="none" stroke="#000" stroke-width="3.6"/>
<circle cx="840.5" cy="215.3" r="6.7" fill="none" stroke="#000" stroke-width="3.6"/>
<circle cx="843.8" cy="223.6" r="6.7" fill="none" stroke="#000" stroke-width="3.6"/>
<circle cx="847.1" cy="228.6" r="6.7" fill="none" stroke="#000" stroke-width="3.6"/>
<circle cx="842.1" cy="287.0" r="6.7" fill="none" stroke="#000" stroke-width="3.6"/>
<circle cx="847.1" cy="283.7" r="6.7" fill="none" stroke="#000" stroke-width="3.6"/>
<circle cx="848.8" cy="285.4" r="6.7" fill="none" stroke="#000" stroke-width="3.6"/>
<circle cx="852.1" cy="176.9" r="6.7" fill="none" stroke="#000" stroke-width="3.6"/>
<circle cx="853.8" cy="156.9" r="6.7" fill="none" stroke="#000" stroke-width="3.6"/>
<circle cx="855.5" cy="158.5" r="6.7" fill="none" stroke="#000" stroke-width="3.6"/>
<circle cx="860.5" cy="163.6" r="6.7" fill="none" stroke="#000" stroke-width="3.6"/>
<circle cx="863.8" cy="161.9" r="6.7" fill="none" stroke="#000" stroke-width="3.6"/>
<circle cx="858.8" cy="128.5" r="6.7" fill="none" stroke="#000" stroke-width="3.6"/>
<circle cx="860.5" cy="108.5" r="6.7" fill="none" stroke="#000" stroke-width="3.6"/>
<circle cx="863.8" cy="217.0" r="6.7" fill="none" stroke="#000" stroke-width="3.6"/>
<circle cx="868.8" cy="255.3" r="6.7" fill="none" stroke="#000" stroke-width="3.6"/>
<circle cx="870.5" cy="176.9" r="6.7" fill="none" stroke="#000" stroke-width="3.6"/>
<circle cx="873.8" cy="185.2" r="6.7" fill="none" stroke="#000" stroke-width="3.6"/>
<circle cx="875.5" cy="200.3" r="6.7" fill="none" stroke="#000" stroke-width="3.6"/>
<circle cx="878.8" cy="188.6" r="6.7" fill="none" stroke="#000" stroke-width="3.6"/>
<circle cx="880.5" cy="206.9" r="6.7" fill="none" stroke="#000" stroke-width="3.6"/>
<circle cx="882.2" cy="166.9" r="6.7" fill="none" stroke="#000" stroke-width="3.6"/>
<circle cx="883.8" cy="218.6" r="6.7" fill="none" stroke="#000" stroke-width="3.6"/>
<circle cx="887.2" cy="190.3" r="6.7" fill="none" stroke="#000" stroke-width="3.6"/>
<circle cx="892.2" cy="195.3" r="6.7" fill="none" stroke="#000" stroke-width="3.6"/>
<circle cx="888.9" cy="255.3" r="6.7" fill="none" stroke="#000" stroke-width="3.6"/>
<circle cx="895.5" cy="166.9" r="6.7" fill="none" stroke="#000" stroke-width="3.6"/>
<circle cx="897.2" cy="275.4" r="6.7" fill="none" stroke="#000" stroke-width="3.6"/>
<circle cx="898.9" cy="138.5" r="6.7" fill="none" stroke="#000" stroke-width="3.6"/>
<circle cx="903.9" cy="121.8" r="6.7" fill="none" stroke="#000" stroke-width="3.6"/>
<circle cx="898.9" cy="218.6" r="6.7" fill="none" stroke="#000" stroke-width="3.6"/>
<circle cx="907.2" cy="176.9" r="6.7" fill="none" stroke="#000" stroke-width="3.6"/>
<circle cx="912.2" cy="175.2" r="6.7" fill="none" stroke="#000" stroke-width="3.6"/>
<circle cx="908.9" cy="153.5" r="6.7" fill="none" stroke="#000" stroke-width="3.6"/>
<circle cx="907.2" cy="206.9" r="6.7" fill="none" stroke="#000" stroke-width="3.6"/>
<circle cx="913.9" cy="278.7" r="6.7" fill="none" stroke="#000" stroke-width="3.6"/>
<circle cx="915.6" cy="193.6" r="6.7" fill="none" stroke="#000" stroke-width="3.6"/>
<circle cx="918.9" cy="248.7" r="6.7" fill="none" stroke="#000" stroke-width="3.6"/>
<circle cx="923.9" cy="140.2" r="6.7" fill="none" stroke="#000" stroke-width="3.6"/>
<circle cx="922.2" cy="275.4" r="6.7" fill="none" stroke="#000" stroke-width="3.6"/>
<circle cx="925.6" cy="213.6" r="6.7" fill="none" stroke="#000" stroke-width="3.6"/>
<circle cx="927.2" cy="185.2" r="6.7" fill="none" stroke="#000" stroke-width="3.6"/>
<circle cx="928.9" cy="218.6" r="6.7" fill="none" stroke="#000" stroke-width="3.6"/>
<circle cx="932.2" cy="150.2" r="6.7" fill="none" stroke="#000" stroke-width="3.6"/>
<circle cx="933.9" cy="230.3" r="6.7" fill="none" stroke="#000" stroke-width="3.6"/>
<circle cx="930.6" cy="263.7" r="6.7" fill="none" stroke="#000" stroke-width="3.6"/>
<circle cx="937.2" cy="250.3" r="6.7" fill="none" stroke="#000" stroke-width="3.6"/>
<circle cx="940.6" cy="200.3" r="6.7" fill="none" stroke="#000" stroke-width="3.6"/>
<circle cx="942.3" cy="215.3" r="6.7" fill="none" stroke="#000" stroke-width="3.6"/>
<circle cx="945.6" cy="283.7" r="6.7" fill="none" stroke="#000" stroke-width="3.6"/>
<circle cx="943.9" cy="290.4" r="6.7" fill="none" stroke="#000" stroke-width="3.6"/>
<circle cx="948.9" cy="273.7" r="6.7" fill="none" stroke="#000" stroke-width="3.6"/>
<circle cx="950.6" cy="218.6" r="6.7" fill="none" stroke="#000" stroke-width="3.6"/>
<circle cx="952.3" cy="153.5" r="6.7" fill="none" stroke="#000" stroke-width="3.6"/>
<circle cx="953.9" cy="240.3" r="6.7" fill="none" stroke="#000" stroke-width="3.6"/>
<circle cx="955.6" cy="181.9" r="6.7" fill="none" stroke="#000" stroke-width="3.6"/>
<circle cx="958.9" cy="190.3" r="6.7" fill="none" stroke="#000" stroke-width="3.6"/>
<circle cx="962.3" cy="155.2" r="6.7" fill="none" stroke="#000" stroke-width="3.6"/>
<circle cx="965.6" cy="235.3" r="6.7" fill="none" stroke="#000" stroke-width="3.6"/>
<circle cx="969.0" cy="188.6" r="6.7" fill="none" stroke="#000" stroke-width="3.6"/>
<circle cx="967.3" cy="290.4" r="6.7" fill="none" stroke="#000" stroke-width="3.6"/>
<line x1="626.8" y1="210.9" x2="689.6" y2="210.9" stroke="#e8141b" stroke-width="6.5"/>
<line x1="905.0" y1="216.7" x2="968.0" y2="216.7" stroke="#e8141b" stroke-width="7"/>
<text x="937.5" y="95.8" font-size="26" text-anchor="middle" stroke="#000">ns</text>
<line x1="912.0" y1="100.7" x2="962.0" y2="100.7" stroke="#000" stroke-width="4.5"/>
<line x1="614.0" y1="96.5" x2="614.0" y2="335.4" stroke="#000" stroke-width="3"/>
<line x1="614.0" y1="98.0" x2="627.0" y2="98.0" stroke="#000" stroke-width="3"/>
<line x1="614.0" y1="137.2" x2="627.0" y2="137.2" stroke="#000" stroke-width="3"/>
<line x1="614.0" y1="176.5" x2="627.0" y2="176.5" stroke="#000" stroke-width="3"/>
<line x1="614.0" y1="215.8" x2="627.0" y2="215.8" stroke="#000" stroke-width="3"/>
<line x1="614.0" y1="255.0" x2="627.0" y2="255.0" stroke="#000" stroke-width="3"/>
<line x1="614.0" y1="294.2" x2="627.0" y2="294.2" stroke="#000" stroke-width="3"/>
<text x="605.0" y="105.3" font-size="26" text-anchor="end" stroke="#000">300</text>
<text x="605.0" y="183.8" font-size="26" text-anchor="end" stroke="#000">200</text>
<text x="605.0" y="262.3" font-size="26" text-anchor="end" stroke="#000">100</text>
<text x="605.0" y="341.2" font-size="26" text-anchor="end" stroke="#000">0</text>
<line x1="612.5" y1="333.9" x2="972.5" y2="333.9" stroke="#000" stroke-width="3"/>
<line x1="625.9" y1="333.9" x2="625.9" y2="320.9" stroke="#000" stroke-width="3"/>
<line x1="676.9" y1="333.9" x2="676.9" y2="320.9" stroke="#000" stroke-width="3"/>
<line x1="714.8" y1="333.9" x2="714.8" y2="320.9" stroke="#000" stroke-width="3"/>
<line x1="778.4" y1="333.9" x2="778.4" y2="320.9" stroke="#000" stroke-width="3"/>
<line x1="841.7" y1="333.9" x2="841.7" y2="320.9" stroke="#000" stroke-width="3"/>
<line x1="905.2" y1="333.9" x2="905.2" y2="320.9" stroke="#000" stroke-width="3"/>
<line x1="968.5" y1="333.9" x2="968.5" y2="320.9" stroke="#000" stroke-width="3"/>
<text x="551.0" y="184.0" font-size="26.5" text-anchor="middle" stroke="#000" transform="rotate(-90 551.0 184.0)">IPSC (pA)</text>
<line x1="692.0" y1="376.9" x2="705.5" y2="376.9" stroke="#000" stroke-width="3.5" stroke-dasharray="13 14"/>
<polyline points="617.0,377.0 640.0,376.0 660.0,375.5 675.0,375.0" fill="none" stroke="#000" stroke-width="9.2" stroke-linecap="round" stroke-linejoin="round"/>
<path d="M611.2,376.1a5.8,5.8 0 1,0 11.6,0a5.8,5.8 0 1,0 -11.6,0M613.8,377.7a5.8,5.8 0 1,0 11.6,0a5.8,5.8 0 1,0 -11.6,0M616.4,377.4a5.8,5.8 0 1,0 11.6,0a5.8,5.8 0 1,0 -11.6,0M619.0,376.1a5.8,5.8 0 1,0 11.6,0a5.8,5.8 0 1,0 -11.6,0M621.6,376.5a5.8,5.8 0 1,0 11.6,0a5.8,5.8 0 1,0 -11.6,0M624.2,376.3a5.8,5.8 0 1,0 11.6,0a5.8,5.8 0 1,0 -11.6,0M626.8,376.7a5.8,5.8 0 1,0 11.6,0a5.8,5.8 0 1,0 -11.6,0M629.4,376.9a5.8,5.8 0 1,0 11.6,0a5.8,5.8 0 1,0 -11.6,0M632.0,375.1a5.8,5.8 0 1,0 11.6,0a5.8,5.8 0 1,0 -11.6,0M634.6,374.9a5.8,5.8 0 1,0 11.6,0a5.8,5.8 0 1,0 -11.6,0M637.2,376.7a5.8,5.8 0 1,0 11.6,0a5.8,5.8 0 1,0 -11.6,0M639.8,375.7a5.8,5.8 0 1,0 11.6,0a5.8,5.8 0 1,0 -11.6,0M642.4,376.4a5.8,5.8 0 1,0 11.6,0a5.8,5.8 0 1,0 -11.6,0M645.0,374.5a5.8,5.8 0 1,0 11.6,0a5.8,5.8 0 1,0 -11.6,0M647.6,375.5a5.8,5.8 0 1,0 11.6,0a5.8,5.8 0 1,0 -11.6,0M650.2,376.1a5.8,5.8 0 1,0 11.6,0a5.8,5.8 0 1,0 -11.6,0M652.8,374.9a5.8,5.8 0 1,0 11.6,0a5.8,5.8 0 1,0 -11.6,0M655.4,376.5a5.8,5.8 0 1,0 11.6,0a5.8,5.8 0 1,0 -11.6,0M658.0,376.3a5.8,5.8 0 1,0 11.6,0a5.8,5.8 0 1,0 -11.6,0M660.6,374.2a5.8,5.8 0 1,0 11.6,0a5.8,5.8 0 1,0 -11.6,0M663.2,374.1a5.8,5.8 0 1,0 11.6,0a5.8,5.8 0 1,0 -11.6,0M665.8,375.2a5.8,5.8 0 1,0 11.6,0a5.8,5.8 0 1,0 -11.6,0M668.4,376.1a5.8,5.8 0 1,0 11.6,0a5.8,5.8 0 1,0 -11.6,0" fill="#000"/>
<polyline points="719.0,375.5 760.0,376.0 800.0,375.5 850.0,375.0 900.0,374.5 940.0,375.0 967.0,374.5" fill="none" stroke="#000" stroke-width="9.2" stroke-linecap="round" stroke-linejoin="round"/>
<path d="M713.2,376.6a5.8,5.8 0 1,0 11.6,0a5.8,5.8 0 1,0 -11.6,0M715.8,376.6a5.8,5.8 0 1,0 11.6,0a5.8,5.8 0 1,0 -11.6,0M718.4,374.5a5.8,5.8 0 1,0 11.6,0a5.8,5.8 0 1,0 -11.6,0M721.0,374.6a5.8,5.8 0 1,0 11.6,0a5.8,5.8 0 1,0 -11.6,0M723.6,376.4a5.8,5.8 0 1,0 11.6,0a5.8,5.8 0 1,0 -11.6,0M726.2,376.2a5.8,5.8 0 1,0 11.6,0a5.8,5.8 0 1,0 -11.6,0M728.8,376.1a5.8,5.8 0 1,0 11.6,0a5.8,5.8 0 1,0 -11.6,0M731.4,375.3a5.8,5.8 0 1,0 11.6,0a5.8,5.8 0 1,0 -11.6,0M734.0,376.0a5.8,5.8 0 1,0 11.6,0a5.8,5.8 0 1,0 -11.6,0M736.6,376.0a5.8,5.8 0 1,0 11.6,0a5.8,5.8 0 1,0 -11.6,0M739.2,376.0a5.8,5.8 0 1,0 11.6,0a5.8,5.8 0 1,0 -11.6,0M741.8,375.0a5.8,5.8 0 1,0 11.6,0a5.8,5.8 0 1,0 -11.6,0M744.4,375.7a5.8,5.8 0 1,0 11.6,0a5.8,5.8 0 1,0 -11.6,0M747.0,375.7a5.8,5.8 0 1,0 11.6,0a5.8,5.8 0 1,0 -11.6,0M749.6,376.5a5.8,5.8 0 1,0 11.6,0a5.8,5.8 0 1,0 -11.6,0M752.2,377.2a5.8,5.8 0 1,0 11.6,0a5.8,5.8 0 1,0 -11.6,0M754.8,377.1a5.8,5.8 0 1,0 11.6,0a5.8,5.8 0 1,0 -11.6,0M757.4,376.1a5.8,5.8 0 1,0 11.6,0a5.8,5.8 0 1,0 -11.6,0M760.0,375.8a5.8,5.8 0 1,0 11.6,0a5.8,5.8 0 1,0 -11.6,0M762.6,375.3a5.8,5.8 0 1,0 11.6,0a5.8,5.8 0 1,0 -11.6,0M765.2,374.7a5.8,5.8 0 1,0 11.6,0a5.8,5.8 0 1,0 -11.6,0M767.8,374.7a5.8,5.8 0 1,0 11.6,0a5.8,5.8 0 1,0 -11.6,0M770.4,375.7a5.8,5.8 0 1,0 11.6,0a5.8,5.8 0 1,0 -11.6,0M773.0,375.3a5.8,5.8 0 1,0 11.6,0a5.8,5.8 0 1,0 -11.6,0M775.6,375.4a5.8,5.8 0 1,0 11.6,0a5.8,5.8 0 1,0 -11.6,0M778.2,376.6a5.8,5.8 0 1,0 11.6,0a5.8,5.8 0 1,0 -11.6,0M780.8,375.7a5.8,5.8 0 1,0 11.6,0a5.8,5.8 0 1,0 -11.6,0M783.4,375.8a5.8,5.8 0 1,0 11.6,0a5.8,5.8 0 1,0 -11.6,0M786.0,375.0a5.8,5.8 0 1,0 11.6,0a5.8,5.8 0 1,0 -11.6,0M788.6,374.4a5.8,5.8 0 1,0 11.6,0a5.8,5.8 0 1,0 -11.6,0M791.2,375.1a5.8,5.8 0 1,0 11.6,0a5.8,5.8 0 1,0 -11.6,0M793.8,374.6a5.8,5.8 0 1,0 11.6,0a5.8,5.8 0 1,0 -11.6,0M796.4,375.5a5.8,5.8 0 1,0 11.6,0a5.8,5.8 0 1,0 -11.6,0M799.0,376.6a5.8,5.8 0 1,0 11.6,0a5.8,5.8 0 1,0 -11.6,0M801.6,375.8a5.8,5.8 0 1,0 11.6,0a5.8,5.8 0 1,0 -11.6,0M804.2,374.6a5.8,5.8 0 1,0 11.6,0a5.8,5.8 0 1,0 -11.6,0M806.8,376.3a5.8,5.8 0 1,0 11.6,0a5.8,5.8 0 1,0 -11.6,0M809.4,376.1a5.8,5.8 0 1,0 11.6,0a5.8,5.8 0 1,0 -11.6,0M812.0,375.9a5.8,5.8 0 1,0 11.6,0a5.8,5.8 0 1,0 -11.6,0M814.6,376.3a5.8,5.8 0 1,0 11.6,0a5.8,5.8 0 1,0 -11.6,0M817.2,375.9a5.8,5.8 0 1,0 11.6,0a5.8,5.8 0 1,0 -11.6,0M819.8,375.9a5.8,5.8 0 1,0 11.6,0a5.8,5.8 0 1,0 -11.6,0M822.4,374.9a5.8,5.8 0 1,0 11.6,0a5.8,5.8 0 1,0 -11.6,0M825.0,376.3a5.8,5.8 0 1,0 11.6,0a5.8,5.8 0 1,0 -11.6,0M827.6,376.3a5.8,5.8 0 1,0 11.6,0a5.8,5.8 0 1,0 -11.6,0M830.2,374.3a5.8,5.8 0 1,0 11.6,0a5.8,5.8 0 1,0 -11.6,0M832.8,375.7a5.8,5.8 0 1,0 11.6,0a5.8,5.8 0 1,0 -11.6,0M835.4,375.6a5.8,5.8 0 1,0 11.6,0a5.8,5.8 0 1,0 -11.6,0M838.0,375.0a5.8,5.8 0 1,0 11.6,0a5.8,5.8 0 1,0 -11.6,0M840.6,375.1a5.8,5.8 0 1,0 11.6,0a5.8,5.8 0 1,0 -11.6,0M843.2,375.0a5.8,5.8 0 1,0 11.6,0a5.8,5.8 0 1,0 -11.6,0M845.8,376.0a5.8,5.8 0 1,0 11.6,0a5.8,5.8 0 1,0 -11.6,0M848.4,375.0a5.8,5.8 0 1,0 11.6,0a5.8,5.8 0 1,0 -11.6,0M851.0,375.7a5.8,5.8 0 1,0 11.6,0a5.8,5.8 0 1,0 -11.6,0M853.6,374.6a5.8,5.8 0 1,0 11.6,0a5.8,5.8 0 1,0 -11.6,0M856.2,375.8a5.8,5.8 0 1,0 11.6,0a5.8,5.8 0 1,0 -11.6,0M858.8,375.8a5.8,5.8 0 1,0 11.6,0a5.8,5.8 0 1,0 -11.6,0M861.4,374.7a5.8,5.8 0 1,0 11.6,0a5.8,5.8 0 1,0 -11.6,0M864.0,375.0a5.8,5.8 0 1,0 11.6,0a5.8,5.8 0 1,0 -11.6,0M866.6,375.8a5.8,5.8 0 1,0 11.6,0a5.8,5.8 0 1,0 -11.6,0M869.2,375.3a5.8,5.8 0 1,0 11.6,0a5.8,5.8 0 1,0 -11.6,0M871.8,374.7a5.8,5.8 0 1,0 11.6,0a5.8,5.8 0 1,0 -11.6,0M874.4,374.0a5.8,5.8 0 1,0 11.6,0a5.8,5.8 0 1,0 -11.6,0M877.0,374.3a5.8,5.8 0 1,0 11.6,0a5.8,5.8 0 1,0 -11.6,0M879.6,375.1a5.8,5.8 0 1,0 11.6,0a5.8,5.8 0 1,0 -11.6,0M882.2,373.8a5.8,5.8 0 1,0 11.6,0a5.8,5.8 0 1,0 -11.6,0M884.8,375.6a5.8,5.8 0 1,0 11.6,0a5.8,5.8 0 1,0 -11.6,0M887.4,374.0a5.8,5.8 0 1,0 11.6,0a5.8,5.8 0 1,0 -11.6,0M890.0,375.5a5.8,5.8 0 1,0 11.6,0a5.8,5.8 0 1,0 -11.6,0M892.6,374.1a5.8,5.8 0 1,0 11.6,0a5.8,5.8 0 1,0 -11.6,0M895.2,375.6a5.8,5.8 0 1,0 11.6,0a5.8,5.8 0 1,0 -11.6,0M897.8,375.0a5.8,5.8 0 1,0 11.6,0a5.8,5.8 0 1,0 -11.6,0M900.4,374.6a5.8,5.8 0 1,0 11.6,0a5.8,5.8 0 1,0 -11.6,0M903.0,374.7a5.8,5.8 0 1,0 11.6,0a5.8,5.8 0 1,0 -11.6,0M905.6,375.0a5.8,5.8 0 1,0 11.6,0a5.8,5.8 0 1,0 -11.6,0M908.2,374.9a5.8,5.8 0 1,0 11.6,0a5.8,5.8 0 1,0 -11.6,0M910.8,374.3a5.8,5.8 0 1,0 11.6,0a5.8,5.8 0 1,0 -11.6,0M913.4,374.0a5.8,5.8 0 1,0 11.6,0a5.8,5.8 0 1,0 -11.6,0M916.0,374.8a5.8,5.8 0 1,0 11.6,0a5.8,5.8 0 1,0 -11.6,0M918.6,375.8a5.8,5.8 0 1,0 11.6,0a5.8,5.8 0 1,0 -11.6,0M921.2,375.1a5.8,5.8 0 1,0 11.6,0a5.8,5.8 0 1,0 -11.6,0M923.8,373.9a5.8,5.8 0 1,0 11.6,0a5.8,5.8 0 1,0 -11.6,0M926.4,375.7a5.8,5.8 0 1,0 11.6,0a5.8,5.8 0 1,0 -11.6,0M929.0,375.5a5.8,5.8 0 1,0 11.6,0a5.8,5.8 0 1,0 -11.6,0M931.6,375.9a5.8,5.8 0 1,0 11.6,0a5.8,5.8 0 1,0 -11.6,0M934.2,374.3a5.8,5.8 0 1,0 11.6,0a5.8,5.8 0 1,0 -11.6,0M936.8,375.5a5.8,5.8 0 1,0 11.6,0a5.8,5.8 0 1,0 -11.6,0M939.4,373.8a5.8,5.8 0 1,0 11.6,0a5.8,5.8 0 1,0 -11.6,0M942.0,375.2a5.8,5.8 0 1,0 11.6,0a5.8,5.8 0 1,0 -11.6,0M944.6,374.3a5.8,5.8 0 1,0 11.6,0a5.8,5.8 0 1,0 -11.6,0M947.2,374.1a5.8,5.8 0 1,0 11.6,0a5.8,5.8 0 1,0 -11.6,0M949.8,375.6a5.8,5.8 0 1,0 11.6,0a5.8,5.8 0 1,0 -11.6,0M952.4,373.7a5.8,5.8 0 1,0 11.6,0a5.8,5.8 0 1,0 -11.6,0M955.0,374.7a5.8,5.8 0 1,0 11.6,0a5.8,5.8 0 1,0 -11.6,0M957.6,375.4a5.8,5.8 0 1,0 11.6,0a5.8,5.8 0 1,0 -11.6,0M960.2,373.9a5.8,5.8 0 1,0 11.6,0a5.8,5.8 0 1,0 -11.6,0" fill="#000"/>
<line x1="614.0" y1="353.2" x2="614.0" y2="427.8" stroke="#000" stroke-width="3"/>
<line x1="614.0" y1="354.7" x2="627.0" y2="354.7" stroke="#000" stroke-width="3"/>
<line x1="614.0" y1="378.3" x2="627.0" y2="378.3" stroke="#000" stroke-width="3"/>
<line x1="614.0" y1="402.3" x2="627.0" y2="402.3" stroke="#000" stroke-width="3"/>
<text x="605.0" y="388.3" font-size="26" text-anchor="end" stroke="#000">20</text>
<text x="605.0" y="435.3" font-size="26" text-anchor="end" stroke="#000">0</text>
<line x1="612.5" y1="426.3" x2="972.5" y2="426.3" stroke="#000" stroke-width="3"/>
<line x1="625.9" y1="426.3" x2="625.9" y2="413.3" stroke="#000" stroke-width="3"/>
<line x1="676.9" y1="426.3" x2="676.9" y2="413.3" stroke="#000" stroke-width="3"/>
<line x1="714.8" y1="426.3" x2="714.8" y2="413.3" stroke="#000" stroke-width="3"/>
<line x1="778.4" y1="426.3" x2="778.4" y2="413.3" stroke="#000" stroke-width="3"/>
<line x1="841.7" y1="426.3" x2="841.7" y2="413.3" stroke="#000" stroke-width="3"/>
<line x1="905.2" y1="426.3" x2="905.2" y2="413.3" stroke="#000" stroke-width="3"/>
<line x1="968.5" y1="426.3" x2="968.5" y2="413.3" stroke="#000" stroke-width="3"/>
<text x="618.0" y="451.6" font-size="26" text-anchor="middle" stroke="#000">-5</text>
<text x="715.5" y="451.6" font-size="26" text-anchor="middle" stroke="#000">0</text>
<text x="777.8" y="451.6" font-size="26" text-anchor="middle" stroke="#000">5</text>
<text x="842.3" y="451.6" font-size="26" text-anchor="middle" stroke="#000">10</text>
<text x="905.7" y="451.6" font-size="26" text-anchor="middle" stroke="#000">15</text>
<text x="969.0" y="451.6" font-size="26" text-anchor="middle" stroke="#000">20</text>
<text x="551.0" y="395.0" font-size="26.5" text-anchor="middle" stroke="#000" transform="rotate(-90 551.0 395.0)">Ra (MΩ)</text>
<text x="793.0" y="485.5" font-size="26.5" text-anchor="middle" stroke="#000">Time (min)</text>
<text x="1024.5" y="36.6" font-size="48" text-anchor="start" stroke="#000" font-weight="bold">c</text>
<text x="1484.0" y="48.4" font-size="26.7" text-anchor="end" stroke="#000">i-MK801 [1 mM]</text>
<rect x="1173.3" y="96.0" width="38.4" height="331.0" fill="#7cc3de"/>
<text x="1148.0" y="85.1" font-size="26.3" text-anchor="start" fill="#3196c8" stroke="#3196c8">PIL opto</text>
<line x1="1109.6" y1="213.6" x2="1468.0" y2="213.6" stroke="#000" stroke-width="3.5" stroke-dasharray="12.2 14.2"/>
<circle cx="1118.8" cy="120.2" r="6.7" fill="none" stroke="#000" stroke-width="3.6"/>
<circle cx="1156.5" cy="112.8" r="6.7" fill="none" stroke="#000" stroke-width="3.6"/>
<circle cx="1141.5" cy="133.5" r="6.7" fill="none" stroke="#000" stroke-width="3.6"/>
<circle cx="1146.5" cy="168.6" r="6.7" fill="none" stroke="#000" stroke-width="3.6"/>
<circle cx="1154.9" cy="163.6" r="6.7" fill="none" stroke="#000" stroke-width="3.6"/>
<circle cx="1159.9" cy="181.9" r="6.7" fill="none" stroke="#000" stroke-width="3.6"/>
<circle cx="1163.2" cy="178.6" r="6.7" fill="none" stroke="#000" stroke-width="3.6"/>
<circle cx="1173.2" cy="180.2" r="6.7" fill="none" stroke="#000" stroke-width="3.6"/>
<circle cx="1124.8" cy="193.6" r="6.7" fill="none" stroke="#000" stroke-width="3.6"/>
<circle cx="1133.2" cy="196.9" r="6.7" fill="none" stroke="#000" stroke-width="3.6"/>
<circle cx="1116.5" cy="206.9" r="6.7" fill="none" stroke="#000" stroke-width="3.6"/>
<circle cx="1118.2" cy="217.0" r="6.7" fill="none" stroke="#000" stroke-width="3.6"/>
<circle cx="1129.8" cy="210.3" r="6.7" fill="none" stroke="#000" stroke-width="3.6"/>
<circle cx="1144.9" cy="210.3" r="6.7" fill="none" stroke="#000" stroke-width="3.6"/>
<circle cx="1149.9" cy="218.6" r="6.7" fill="none" stroke="#000" stroke-width="3.6"/>
<circle cx="1154.9" cy="215.3" r="6.7" fill="none" stroke="#000" stroke-width="3.6"/>
<circle cx="1161.6" cy="223.6" r="6.7" fill="none" stroke="#000" stroke-width="3.6"/>
<circle cx="1171.6" cy="220.3" r="6.7" fill="none" stroke="#000" stroke-width="3.6"/>
<circle cx="1174.9" cy="222.0" r="6.7" fill="none" stroke="#000" stroke-width="3.6"/>
<circle cx="1121.5" cy="225.3" r="6.7" fill="none" stroke="#000" stroke-width="3.6"/>
<circle cx="1138.2" cy="237.0" r="6.7" fill="none" stroke="#000" stroke-width="3.6"/>
<circle cx="1133.2" cy="247.0" r="6.7" fill="none" stroke="#000" stroke-width="3.6"/>
<circle cx="1136.5" cy="249.7" r="6.7" fill="none" stroke="#000" stroke-width="3.6"/>
<circle cx="1123.2" cy="257.0" r="6.7" fill="none" stroke="#000" stroke-width="3.6"/>
<circle cx="1139.9" cy="263.7" r="6.7" fill="none" stroke="#000" stroke-width="3.6"/>
<circle cx="1153.2" cy="258.7" r="6.7" fill="none" stroke="#000" stroke-width="3.6"/>
<circle cx="1113.2" cy="275.4" r="6.7" fill="none" stroke="#000" stroke-width="3.6"/>
<circle cx="1113.8" cy="276.4" r="6.7" fill="none" stroke="#000" stroke-width="3.6"/>
<circle cx="1114.8" cy="277.0" r="6.7" fill="none" stroke="#000" stroke-width="3.6"/>
<circle cx="1169.9" cy="290.4" r="6.7" fill="none" stroke="#000" stroke-width="3.6"/>
<circle cx="1126.5" cy="318.8" r="6.7" fill="none" stroke="#000" stroke-width="3.6"/>
<circle cx="1225.0" cy="181.9" r="6.7" fill="none" stroke="#000" stroke-width="3.6"/>
<circle cx="1215.0" cy="225.3" r="6.7" fill="none" stroke="#000" stroke-width="3.6"/>
<circle cx="1220.0" cy="230.3" r="6.7" fill="none" stroke="#000" stroke-width="3.6"/>
<circle cx="1215.0" cy="322.1" r="6.7" fill="none" stroke="#000" stroke-width="3.6"/>
<circle cx="1221.6" cy="255.3" r="6.7" fill="none" stroke="#000" stroke-width="3.6"/>
<circle cx="1226.6" cy="260.3" r="6.7" fill="none" stroke="#000" stroke-width="3.6"/>
<circle cx="1230.0" cy="263.7" r="6.7" fill="none" stroke="#000" stroke-width="3.6"/>
<circle cx="1218.3" cy="282.0" r="6.7" fill="none" stroke="#000" stroke-width="3.6"/>
<circle cx="1231.6" cy="278.7" r="6.7" fill="none" stroke="#000" stroke-width="3.6"/>
<circle cx="1241.7" cy="280.4" r="6.7" fill="none" stroke="#000" stroke-width="3.6"/>
<circle cx="1233.3" cy="302.1" r="6.7" fill="none" stroke="#000" stroke-width="3.6"/>
<circle cx="1236.7" cy="243.7" r="6.7" fill="none" stroke="#000" stroke-width="3.6"/>
<circle cx="1238.3" cy="206.9" r="6.7" fill="none" stroke="#000" stroke-width="3.6"/>
<circle cx="1243.3" cy="203.6" r="6.7" fill="none" stroke="#000" stroke-width="3.6"/>
<circle cx="1246.7" cy="201.9" r="6.7" fill="none" stroke="#000" stroke-width="3.6"/>
<circle cx="1250.0" cy="201.9" r="6.7" fill="none" stroke="#000" stroke-width="3.6"/>
<circle cx="1246.7" cy="235.3" r="6.7" fill="none" stroke="#000" stroke-width="3.6"/>
<circle cx="1251.7" cy="245.3" r="6.7" fill="none" stroke="#000" stroke-width="3.6"/>
<circle cx="1256.7" cy="245.3" r="6.7" fill="none" stroke="#000" stroke-width="3.6"/>
<circle cx="1260.0" cy="235.3" r="6.7" fill="none" stroke="#000" stroke-width="3.6"/>
<circle cx="1263.4" cy="260.3" r="6.7" fill="none" stroke="#000" stroke-width="3.6"/>
<circle cx="1265.0" cy="277.0" r="6.7" fill="none" stroke="#000" stroke-width="3.6"/>
<circle cx="1270.0" cy="275.4" r="6.7" fill="none" stroke="#000" stroke-width="3.6"/>
<circle cx="1253.3" cy="318.8" r="6.7" fill="none" stroke="#000" stroke-width="3.6"/>
<circle cx="1261.7" cy="320.4" r="6.7" fill="none" stroke="#000" stroke-width="3.6"/>
<circle cx="1266.7" cy="313.8" r="6.7" fill="none" stroke="#000" stroke-width="3.6"/>
<circle cx="1268.4" cy="290.4" r="6.7" fill="none" stroke="#000" stroke-width="3.6"/>
<circle cx="1273.4" cy="292.1" r="6.7" fill="none" stroke="#000" stroke-width="3.6"/>
<circle cx="1275.0" cy="258.7" r="6.7" fill="none" stroke="#000" stroke-width="3.6"/>
<circle cx="1278.4" cy="260.3" r="6.7" fill="none" stroke="#000" stroke-width="3.6"/>
<circle cx="1281.7" cy="243.7" r="6.7" fill="none" stroke="#000" stroke-width="3.6"/>
<circle cx="1283.4" cy="262.0" r="6.7" fill="none" stroke="#000" stroke-width="3.6"/>
<circle cx="1275.0" cy="227.0" r="6.7" fill="none" stroke="#000" stroke-width="3.6"/>
<circle cx="1280.0" cy="220.3" r="6.7" fill="none" stroke="#000" stroke-width="3.6"/>
<circle cx="1288.4" cy="143.5" r="6.7" fill="none" stroke="#000" stroke-width="3.6"/>
<circle cx="1291.7" cy="181.9" r="6.7" fill="none" stroke="#000" stroke-width="3.6"/>
<circle cx="1285.0" cy="293.7" r="6.7" fill="none" stroke="#000" stroke-width="3.6"/>
<circle cx="1288.4" cy="292.1" r="6.7" fill="none" stroke="#000" stroke-width="3.6"/>
<circle cx="1296.7" cy="230.3" r="6.7" fill="none" stroke="#000" stroke-width="3.6"/>
<circle cx="1300.1" cy="223.6" r="6.7" fill="none" stroke="#000" stroke-width="3.6"/>
<circle cx="1295.1" cy="247.0" r="6.7" fill="none" stroke="#000" stroke-width="3.6"/>
<circle cx="1301.7" cy="190.3" r="6.7" fill="none" stroke="#000" stroke-width="3.6"/>
<circle cx="1306.7" cy="213.6" r="6.7" fill="none" stroke="#000" stroke-width="3.6"/>
<circle cx="1305.1" cy="293.7" r="6.7" fill="none" stroke="#000" stroke-width="3.6"/>
<circle cx="1300.1" cy="313.8" r="6.7" fill="none" stroke="#000" stroke-width="3.6"/>
<circle cx="1310.1" cy="305.4" r="6.7" fill="none" stroke="#000" stroke-width="3.6"/>
<circle cx="1311.8" cy="235.3" r="6.7" fill="none" stroke="#000" stroke-width="3.6"/>
<circle cx="1308.4" cy="263.7" r="6.7" fill="none" stroke="#000" stroke-width="3.6"/>
<circle cx="1315.1" cy="257.0" r="6.7" fill="none" stroke="#000" stroke-width="3.6"/>
<circle cx="1316.8" cy="196.9" r="6.7" fill="none" stroke="#000" stroke-width="3.6"/>
<circle cx="1320.1" cy="196.9" r="6.7" fill="none" stroke="#000" stroke-width="3.6"/>
<circle cx="1321.8" cy="255.3" r="6.7" fill="none" stroke="#000" stroke-width="3.6"/>
<circle cx="1323.4" cy="217.0" r="6.7" fill="none" stroke="#000" stroke-width="3.6"/>
<circle cx="1326.8" cy="220.3" r="6.7" fill="none" stroke="#000" stroke-width="3.6"/>
<circle cx="1325.1" cy="223.6" r="6.7" fill="none" stroke="#000" stroke-width="3.6"/>
<circle cx="1328.4" cy="230.3" r="6.7" fill="none" stroke="#000" stroke-width="3.6"/>
<circle cx="1330.1" cy="180.2" r="6.7" fill="none" stroke="#000" stroke-width="3.6"/>
<circle cx="1331.8" cy="278.7" r="6.7" fill="none" stroke="#000" stroke-width="3.6"/>
<circle cx="1335.1" cy="278.7" r="6.7" fill="none" stroke="#000" stroke-width="3.6"/>
<circle cx="1338.5" cy="230.3" r="6.7" fill="none" stroke="#000" stroke-width="3.6"/>
<circle cx="1340.1" cy="267.0" r="6.7" fill="none" stroke="#000" stroke-width="3.6"/>
<circle cx="1341.8" cy="320.4" r="6.7" fill="none" stroke="#000" stroke-width="3.6"/>
<circle cx="1345.1" cy="233.6" r="6.7" fill="none" stroke="#000" stroke-width="3.6"/>
<circle cx="1346.8" cy="217.0" r="6.7" fill="none" stroke="#000" stroke-width="3.6"/>
<circle cx="1348.5" cy="302.1" r="6.7" fill="none" stroke="#000" stroke-width="3.6"/>
<circle cx="1353.5" cy="312.1" r="6.7" fill="none" stroke="#000" stroke-width="3.6"/>
<circle cx="1351.8" cy="213.6" r="6.7" fill="none" stroke="#000" stroke-width="3.6"/>
<circle cx="1355.1" cy="278.7" r="6.7" fill="none" stroke="#000" stroke-width="3.6"/>
<circle cx="1358.5" cy="257.0" r="6.7" fill="none" stroke="#000" stroke-width="3.6"/>
<circle cx="1360.1" cy="233.6" r="6.7" fill="none" stroke="#000" stroke-width="3.6"/>
<circle cx="1363.5" cy="258.7" r="6.7" fill="none" stroke="#000" stroke-width="3.6"/>
<circle cx="1361.8" cy="205.3" r="6.7" fill="none" stroke="#000" stroke-width="3.6"/>
<circle cx="1365.2" cy="210.3" r="6.7" fill="none" stroke="#000" stroke-width="3.6"/>
<circle cx="1366.8" cy="243.7" r="6.7" fill="none" stroke="#000" stroke-width="3.6"/>
<circle cx="1370.2" cy="240.3" r="6.7" fill="none" stroke="#000" stroke-width="3.6"/>
<circle cx="1371.8" cy="190.3" r="6.7" fill="none" stroke="#000" stroke-width="3.6"/>
<circle cx="1375.2" cy="161.9" r="6.7" fill="none" stroke="#000" stroke-width="3.6"/>
<circle cx="1376.8" cy="247.0" r="6.7" fill="none" stroke="#000" stroke-width="3.6"/>
<circle cx="1380.2" cy="255.3" r="6.7" fill="none" stroke="#000" stroke-width="3.6"/>
<circle cx="1381.8" cy="233.6" r="6.7" fill="none" stroke="#000" stroke-width="3.6"/>
<circle cx="1381.8" cy="203.6" r="6.7" fill="none" stroke="#000" stroke-width="3.6"/>
<circle cx="1386.9" cy="198.6" r="6.7" fill="none" stroke="#000" stroke-width="3.6"/>
<circle cx="1388.5" cy="206.9" r="6.7" fill="none" stroke="#000" stroke-width="3.6"/>
<circle cx="1390.2" cy="210.3" r="6.7" fill="none" stroke="#000" stroke-width="3.6"/>
<circle cx="1390.2" cy="260.3" r="6.7" fill="none" stroke="#000" stroke-width="3.6"/>
<circle cx="1391.9" cy="248.7" r="6.7" fill="none" stroke="#000" stroke-width="3.6"/>
<circle cx="1395.2" cy="283.7" r="6.7" fill="none" stroke="#000" stroke-width="3.6"/>
<circle cx="1396.9" cy="298.7" r="6.7" fill="none" stroke="#000" stroke-width="3.6"/>
<circle cx="1400.2" cy="253.7" r="6.7" fill="none" stroke="#000" stroke-width="3.6"/>
<circle cx="1401.9" cy="267.0" r="6.7" fill="none" stroke="#000" stroke-width="3.6"/>
<circle cx="1403.5" cy="230.3" r="6.7" fill="none" stroke="#000" stroke-width="3.6"/>
<circle cx="1405.2" cy="185.2" r="6.7" fill="none" stroke="#000" stroke-width="3.6"/>
<circle cx="1408.5" cy="227.0" r="6.7" fill="none" stroke="#000" stroke-width="3.6"/>
<circle cx="1411.9" cy="217.0" r="6.7" fill="none" stroke="#000" stroke-width="3.6"/>
<circle cx="1413.6" cy="233.6" r="6.7" fill="none" stroke="#000" stroke-width="3.6"/>
<circle cx="1415.2" cy="218.6" r="6.7" fill="none" stroke="#000" stroke-width="3.6"/>
<circle cx="1420.2" cy="161.9" r="6.7" fill="none" stroke="#000" stroke-width="3.6"/>
<circle cx="1421.9" cy="248.7" r="6.7" fill="none" stroke="#000" stroke-width="3.6"/>
<circle cx="1420.2" cy="272.0" r="6.7" fill="none" stroke="#000" stroke-width="3.6"/>
<circle cx="1425.2" cy="273.7" r="6.7" fill="none" stroke="#000" stroke-width="3.6"/>
<circle cx="1426.9" cy="233.6" r="6.7" fill="none" stroke="#000" stroke-width="3.6"/>
<circle cx="1431.9" cy="178.6" r="6.7" fill="none" stroke="#000" stroke-width="3.6"/>
<circle cx="1433.6" cy="113.5" r="6.7" fill="none" stroke="#000" stroke-width="3.6"/>
<circle cx="1431.9" cy="275.4" r="6.7" fill="none" stroke="#000" stroke-width="3.6"/>
<circle cx="1435.2" cy="277.0" r="6.7" fill="none" stroke="#000" stroke-width="3.6"/>
<circle cx="1436.9" cy="247.0" r="6.7" fill="none" stroke="#000" stroke-width="3.6"/>
<circle cx="1438.6" cy="225.3" r="6.7" fill="none" stroke="#000" stroke-width="3.6"/>
<line x1="1111.5" y1="213.6" x2="1174.0" y2="213.6" stroke="#e8141b" stroke-width="6.5"/>
<line x1="1389.0" y1="230.3" x2="1452.0" y2="230.3" stroke="#e8141b" stroke-width="7"/>
<text x="1421.0" y="81.3" font-size="26" text-anchor="middle" stroke="#000">ns</text>
<line x1="1393.5" y1="87.8" x2="1444.6" y2="87.8" stroke="#000" stroke-width="4.5"/>
<polygon points="1293.7,94.0 1298.7,101.0 1310.7,94.0 1306.7,86.5" fill="#8e8e92"/>
<circle cx="1284.7" cy="107.5" r="15.6" fill="#8e8e92" stroke="#000" stroke-width="1.4"/>
<polyline points="1294.7,94.9 1317.7,71.0" fill="none" stroke="#000" stroke-width="1.4" stroke-linecap="butt" stroke-linejoin="round"/>
<polyline points="1298.2,100.6 1328.6,82.3" fill="none" stroke="#000" stroke-width="1.4" stroke-linecap="butt" stroke-linejoin="round"/>
<ellipse cx="1323.4" cy="76.2" rx="5.6" ry="7.0" transform="rotate(-35 1323.4 76.2)" fill="none" stroke="#000" stroke-width="1.4"/>
<polyline points="1308.6,89.3 1333.8,68.0 1345.5,68.0" fill="none" stroke="#000" stroke-width="1.4" stroke-linecap="butt" stroke-linejoin="miter"/>
<polygon points="1346.0,56.3 1346.0,86.2 1369.8,71.0" fill="#fff" stroke="#000" stroke-width="1.4"/>
<polyline points="1369.8,71.0 1377.6,71.0" fill="none" stroke="#000" stroke-width="1.4" stroke-linecap="butt" stroke-linejoin="round"/>
<polyline points="1345.5,74.5 1339.9,74.5 1339.9,92.3" fill="none" stroke="#000" stroke-width="1.4" stroke-linecap="butt" stroke-linejoin="miter"/>
<polyline points="1332.9,92.6 1346.4,92.6" fill="none" stroke="#000" stroke-width="1.4" stroke-linecap="butt" stroke-linejoin="round"/>
<polyline points="1336.0,96.6 1343.8,96.6" fill="none" stroke="#000" stroke-width="1.4" stroke-linecap="butt" stroke-linejoin="round"/>
<polyline points="1337.3,100.6 1342.0,100.6" fill="none" stroke="#000" stroke-width="1.4" stroke-linecap="butt" stroke-linejoin="round"/>
<line x1="1111.0" y1="95.3" x2="1111.0" y2="336.0" stroke="#000" stroke-width="3"/>
<line x1="1111.0" y1="96.8" x2="1124.0" y2="96.8" stroke="#000" stroke-width="3"/>
<line x1="1111.0" y1="144.3" x2="1124.0" y2="144.3" stroke="#000" stroke-width="3"/>
<line x1="1111.0" y1="191.9" x2="1124.0" y2="191.9" stroke="#000" stroke-width="3"/>
<line x1="1111.0" y1="239.4" x2="1124.0" y2="239.4" stroke="#000" stroke-width="3"/>
<line x1="1111.0" y1="287.0" x2="1124.0" y2="287.0" stroke="#000" stroke-width="3"/>
<text x="1104.5" y="152.9" font-size="26" text-anchor="end" stroke="#000">200</text>
<text x="1104.5" y="247.7" font-size="26" text-anchor="end" stroke="#000">100</text>
<text x="1104.5" y="342.8" font-size="26" text-anchor="end" stroke="#000">0</text>
<line x1="1109.5" y1="334.5" x2="1469.5" y2="334.5" stroke="#000" stroke-width="3"/>
<line x1="1173.5" y1="334.5" x2="1173.5" y2="321.5" stroke="#000" stroke-width="3"/>
<line x1="1211.7" y1="334.5" x2="1211.7" y2="321.5" stroke="#000" stroke-width="3"/>
<line x1="1275.0" y1="334.5" x2="1275.0" y2="321.5" stroke="#000" stroke-width="3"/>
<line x1="1337.8" y1="334.5" x2="1337.8" y2="321.5" stroke="#000" stroke-width="3"/>
<line x1="1401.9" y1="334.5" x2="1401.9" y2="321.5" stroke="#000" stroke-width="3"/>
<line x1="1465.3" y1="334.5" x2="1465.3" y2="321.5" stroke="#000" stroke-width="3"/>
<text x="1048.5" y="185.0" font-size="26.5" text-anchor="middle" stroke="#000" transform="rotate(-90 1048.5 185.0)">IPSC (pA)</text>
<line x1="1189.2" y1="393.0" x2="1202.6" y2="393.0" stroke="#000" stroke-width="3.5" stroke-dasharray="13 14"/>
<line x1="1455.0" y1="392.2" x2="1467.0" y2="392.2" stroke="#000" stroke-width="3.5" stroke-dasharray="13 14"/>
<polyline points="1114.0,392.5 1140.0,393.0 1160.0,393.5 1172.0,393.0" fill="none" stroke="#000" stroke-width="9.2" stroke-linecap="round" stroke-linejoin="round"/>
<path d="M1108.2,391.6a5.8,5.8 0 1,0 11.6,0a5.8,5.8 0 1,0 -11.6,0M1110.8,393.4a5.8,5.8 0 1,0 11.6,0a5.8,5.8 0 1,0 -11.6,0M1113.4,393.2a5.8,5.8 0 1,0 11.6,0a5.8,5.8 0 1,0 -11.6,0M1116.0,392.1a5.8,5.8 0 1,0 11.6,0a5.8,5.8 0 1,0 -11.6,0M1118.6,392.7a5.8,5.8 0 1,0 11.6,0a5.8,5.8 0 1,0 -11.6,0M1121.2,392.6a5.8,5.8 0 1,0 11.6,0a5.8,5.8 0 1,0 -11.6,0M1123.8,393.2a5.8,5.8 0 1,0 11.6,0a5.8,5.8 0 1,0 -11.6,0M1126.4,393.5a5.8,5.8 0 1,0 11.6,0a5.8,5.8 0 1,0 -11.6,0M1129.0,391.9a5.8,5.8 0 1,0 11.6,0a5.8,5.8 0 1,0 -11.6,0M1131.6,391.8a5.8,5.8 0 1,0 11.6,0a5.8,5.8 0 1,0 -11.6,0M1134.2,393.8a5.8,5.8 0 1,0 11.6,0a5.8,5.8 0 1,0 -11.6,0M1136.8,392.9a5.8,5.8 0 1,0 11.6,0a5.8,5.8 0 1,0 -11.6,0M1139.4,393.8a5.8,5.8 0 1,0 11.6,0a5.8,5.8 0 1,0 -11.6,0M1142.0,392.0a5.8,5.8 0 1,0 11.6,0a5.8,5.8 0 1,0 -11.6,0M1144.6,393.1a5.8,5.8 0 1,0 11.6,0a5.8,5.8 0 1,0 -11.6,0M1147.2,393.9a5.8,5.8 0 1,0 11.6,0a5.8,5.8 0 1,0 -11.6,0M1149.8,392.7a5.8,5.8 0 1,0 11.6,0a5.8,5.8 0 1,0 -11.6,0M1152.4,394.5a5.8,5.8 0 1,0 11.6,0a5.8,5.8 0 1,0 -11.6,0M1155.0,394.4a5.8,5.8 0 1,0 11.6,0a5.8,5.8 0 1,0 -11.6,0M1157.6,392.2a5.8,5.8 0 1,0 11.6,0a5.8,5.8 0 1,0 -11.6,0M1160.2,392.1a5.8,5.8 0 1,0 11.6,0a5.8,5.8 0 1,0 -11.6,0M1162.8,393.2a5.8,5.8 0 1,0 11.6,0a5.8,5.8 0 1,0 -11.6,0M1165.4,394.1a5.8,5.8 0 1,0 11.6,0a5.8,5.8 0 1,0 -11.6,0" fill="#000"/>
<polyline points="1217.0,393.0 1250.0,393.5 1290.0,392.5 1330.0,391.0 1370.0,389.5 1410.0,388.5 1437.0,387.5" fill="none" stroke="#000" stroke-width="9.2" stroke-linecap="round" stroke-linejoin="round"/>
<path d="M1211.2,394.1a5.8,5.8 0 1,0 11.6,0a5.8,5.8 0 1,0 -11.6,0M1213.8,394.1a5.8,5.8 0 1,0 11.6,0a5.8,5.8 0 1,0 -11.6,0M1216.4,392.0a5.8,5.8 0 1,0 11.6,0a5.8,5.8 0 1,0 -11.6,0M1219.0,392.1a5.8,5.8 0 1,0 11.6,0a5.8,5.8 0 1,0 -11.6,0M1221.6,394.0a5.8,5.8 0 1,0 11.6,0a5.8,5.8 0 1,0 -11.6,0M1224.2,393.8a5.8,5.8 0 1,0 11.6,0a5.8,5.8 0 1,0 -11.6,0M1226.8,393.6a5.8,5.8 0 1,0 11.6,0a5.8,5.8 0 1,0 -11.6,0M1229.4,392.8a5.8,5.8 0 1,0 11.6,0a5.8,5.8 0 1,0 -11.6,0M1232.0,393.6a5.8,5.8 0 1,0 11.6,0a5.8,5.8 0 1,0 -11.6,0M1234.6,393.6a5.8,5.8 0 1,0 11.6,0a5.8,5.8 0 1,0 -11.6,0M1237.2,393.6a5.8,5.8 0 1,0 11.6,0a5.8,5.8 0 1,0 -11.6,0M1239.8,392.6a5.8,5.8 0 1,0 11.6,0a5.8,5.8 0 1,0 -11.6,0M1242.4,393.3a5.8,5.8 0 1,0 11.6,0a5.8,5.8 0 1,0 -11.6,0M1245.0,393.2a5.8,5.8 0 1,0 11.6,0a5.8,5.8 0 1,0 -11.6,0M1247.6,394.0a5.8,5.8 0 1,0 11.6,0a5.8,5.8 0 1,0 -11.6,0M1250.2,394.5a5.8,5.8 0 1,0 11.6,0a5.8,5.8 0 1,0 -11.6,0M1252.8,394.4a5.8,5.8 0 1,0 11.6,0a5.8,5.8 0 1,0 -11.6,0M1255.4,393.3a5.8,5.8 0 1,0 11.6,0a5.8,5.8 0 1,0 -11.6,0M1258.0,393.0a5.8,5.8 0 1,0 11.6,0a5.8,5.8 0 1,0 -11.6,0M1260.6,392.5a5.8,5.8 0 1,0 11.6,0a5.8,5.8 0 1,0 -11.6,0M1263.2,391.9a5.8,5.8 0 1,0 11.6,0a5.8,5.8 0 1,0 -11.6,0M1265.8,391.8a5.8,5.8 0 1,0 11.6,0a5.8,5.8 0 1,0 -11.6,0M1268.4,392.8a5.8,5.8 0 1,0 11.6,0a5.8,5.8 0 1,0 -11.6,0M1271.0,392.4a5.8,5.8 0 1,0 11.6,0a5.8,5.8 0 1,0 -11.6,0M1273.6,392.5a5.8,5.8 0 1,0 11.6,0a5.8,5.8 0 1,0 -11.6,0M1276.2,393.6a5.8,5.8 0 1,0 11.6,0a5.8,5.8 0 1,0 -11.6,0M1278.8,392.7a5.8,5.8 0 1,0 11.6,0a5.8,5.8 0 1,0 -11.6,0M1281.4,392.7a5.8,5.8 0 1,0 11.6,0a5.8,5.8 0 1,0 -11.6,0M1284.0,391.9a5.8,5.8 0 1,0 11.6,0a5.8,5.8 0 1,0 -11.6,0M1286.6,391.3a5.8,5.8 0 1,0 11.6,0a5.8,5.8 0 1,0 -11.6,0M1289.2,391.9a5.8,5.8 0 1,0 11.6,0a5.8,5.8 0 1,0 -11.6,0M1291.8,391.3a5.8,5.8 0 1,0 11.6,0a5.8,5.8 0 1,0 -11.6,0M1294.4,392.1a5.8,5.8 0 1,0 11.6,0a5.8,5.8 0 1,0 -11.6,0M1297.0,393.2a5.8,5.8 0 1,0 11.6,0a5.8,5.8 0 1,0 -11.6,0M1299.6,392.3a5.8,5.8 0 1,0 11.6,0a5.8,5.8 0 1,0 -11.6,0M1302.2,391.1a5.8,5.8 0 1,0 11.6,0a5.8,5.8 0 1,0 -11.6,0M1304.8,392.7a5.8,5.8 0 1,0 11.6,0a5.8,5.8 0 1,0 -11.6,0M1307.4,392.3a5.8,5.8 0 1,0 11.6,0a5.8,5.8 0 1,0 -11.6,0M1310.0,392.1a5.8,5.8 0 1,0 11.6,0a5.8,5.8 0 1,0 -11.6,0M1312.6,392.4a5.8,5.8 0 1,0 11.6,0a5.8,5.8 0 1,0 -11.6,0M1315.2,392.0a5.8,5.8 0 1,0 11.6,0a5.8,5.8 0 1,0 -11.6,0M1317.8,391.9a5.8,5.8 0 1,0 11.6,0a5.8,5.8 0 1,0 -11.6,0M1320.4,390.8a5.8,5.8 0 1,0 11.6,0a5.8,5.8 0 1,0 -11.6,0M1323.0,392.2a5.8,5.8 0 1,0 11.6,0a5.8,5.8 0 1,0 -11.6,0M1325.6,392.1a5.8,5.8 0 1,0 11.6,0a5.8,5.8 0 1,0 -11.6,0M1328.2,390.0a5.8,5.8 0 1,0 11.6,0a5.8,5.8 0 1,0 -11.6,0M1330.8,391.4a5.8,5.8 0 1,0 11.6,0a5.8,5.8 0 1,0 -11.6,0M1333.4,391.2a5.8,5.8 0 1,0 11.6,0a5.8,5.8 0 1,0 -11.6,0M1336.0,390.5a5.8,5.8 0 1,0 11.6,0a5.8,5.8 0 1,0 -11.6,0M1338.6,390.5a5.8,5.8 0 1,0 11.6,0a5.8,5.8 0 1,0 -11.6,0M1341.2,390.3a5.8,5.8 0 1,0 11.6,0a5.8,5.8 0 1,0 -11.6,0M1343.8,391.3a5.8,5.8 0 1,0 11.6,0a5.8,5.8 0 1,0 -11.6,0M1346.4,390.2a5.8,5.8 0 1,0 11.6,0a5.8,5.8 0 1,0 -11.6,0M1349.0,390.9a5.8,5.8 0 1,0 11.6,0a5.8,5.8 0 1,0 -11.6,0M1351.6,389.6a5.8,5.8 0 1,0 11.6,0a5.8,5.8 0 1,0 -11.6,0M1354.2,390.8a5.8,5.8 0 1,0 11.6,0a5.8,5.8 0 1,0 -11.6,0M1356.8,390.7a5.8,5.8 0 1,0 11.6,0a5.8,5.8 0 1,0 -11.6,0M1359.4,389.6a5.8,5.8 0 1,0 11.6,0a5.8,5.8 0 1,0 -11.6,0M1362.0,389.7a5.8,5.8 0 1,0 11.6,0a5.8,5.8 0 1,0 -11.6,0M1364.6,390.5a5.8,5.8 0 1,0 11.6,0a5.8,5.8 0 1,0 -11.6,0M1367.2,390.0a5.8,5.8 0 1,0 11.6,0a5.8,5.8 0 1,0 -11.6,0M1369.8,389.3a5.8,5.8 0 1,0 11.6,0a5.8,5.8 0 1,0 -11.6,0M1372.4,388.6a5.8,5.8 0 1,0 11.6,0a5.8,5.8 0 1,0 -11.6,0M1375.0,388.8a5.8,5.8 0 1,0 11.6,0a5.8,5.8 0 1,0 -11.6,0M1377.6,389.6a5.8,5.8 0 1,0 11.6,0a5.8,5.8 0 1,0 -11.6,0M1380.2,388.3a5.8,5.8 0 1,0 11.6,0a5.8,5.8 0 1,0 -11.6,0M1382.8,390.0a5.8,5.8 0 1,0 11.6,0a5.8,5.8 0 1,0 -11.6,0M1385.4,388.4a5.8,5.8 0 1,0 11.6,0a5.8,5.8 0 1,0 -11.6,0M1388.0,389.9a5.8,5.8 0 1,0 11.6,0a5.8,5.8 0 1,0 -11.6,0M1390.6,388.4a5.8,5.8 0 1,0 11.6,0a5.8,5.8 0 1,0 -11.6,0M1393.2,389.9a5.8,5.8 0 1,0 11.6,0a5.8,5.8 0 1,0 -11.6,0M1395.8,389.2a5.8,5.8 0 1,0 11.6,0a5.8,5.8 0 1,0 -11.6,0M1398.4,388.7a5.8,5.8 0 1,0 11.6,0a5.8,5.8 0 1,0 -11.6,0M1401.0,388.6a5.8,5.8 0 1,0 11.6,0a5.8,5.8 0 1,0 -11.6,0M1403.6,388.9a5.8,5.8 0 1,0 11.6,0a5.8,5.8 0 1,0 -11.6,0M1406.2,388.6a5.8,5.8 0 1,0 11.6,0a5.8,5.8 0 1,0 -11.6,0M1408.8,387.9a5.8,5.8 0 1,0 11.6,0a5.8,5.8 0 1,0 -11.6,0M1411.4,387.5a5.8,5.8 0 1,0 11.6,0a5.8,5.8 0 1,0 -11.6,0M1414.0,388.2a5.8,5.8 0 1,0 11.6,0a5.8,5.8 0 1,0 -11.6,0M1416.6,389.1a5.8,5.8 0 1,0 11.6,0a5.8,5.8 0 1,0 -11.6,0M1419.2,388.2a5.8,5.8 0 1,0 11.6,0a5.8,5.8 0 1,0 -11.6,0M1421.8,386.8a5.8,5.8 0 1,0 11.6,0a5.8,5.8 0 1,0 -11.6,0M1424.4,388.5a5.8,5.8 0 1,0 11.6,0a5.8,5.8 0 1,0 -11.6,0M1427.0,388.2a5.8,5.8 0 1,0 11.6,0a5.8,5.8 0 1,0 -11.6,0M1429.6,388.5a5.8,5.8 0 1,0 11.6,0a5.8,5.8 0 1,0 -11.6,0" fill="#000"/>
<line x1="1111.0" y1="353.1" x2="1111.0" y2="428.7" stroke="#000" stroke-width="3"/>
<line x1="1111.0" y1="356.2" x2="1124.0" y2="356.2" stroke="#000" stroke-width="3"/>
<line x1="1111.0" y1="391.7" x2="1124.0" y2="391.7" stroke="#000" stroke-width="3"/>
<text x="1102.0" y="367.8" font-size="26" text-anchor="end" stroke="#000">50</text>
<text x="1102.0" y="403.0" font-size="26" text-anchor="end" stroke="#000">25</text>
<text x="1102.0" y="438.5" font-size="26" text-anchor="end" stroke="#000">0</text>
<line x1="1109.5" y1="427.2" x2="1469.5" y2="427.2" stroke="#000" stroke-width="3"/>
<line x1="1173.5" y1="427.2" x2="1173.5" y2="414.2" stroke="#000" stroke-width="3"/>
<line x1="1211.7" y1="427.2" x2="1211.7" y2="414.2" stroke="#000" stroke-width="3"/>
<line x1="1275.0" y1="427.2" x2="1275.0" y2="414.2" stroke="#000" stroke-width="3"/>
<line x1="1337.8" y1="427.2" x2="1337.8" y2="414.2" stroke="#000" stroke-width="3"/>
<line x1="1401.9" y1="427.2" x2="1401.9" y2="414.2" stroke="#000" stroke-width="3"/>
<line x1="1465.3" y1="427.2" x2="1465.3" y2="414.2" stroke="#000" stroke-width="3"/>
<text x="1114.0" y="455.9" font-size="26" text-anchor="middle" stroke="#000">-5</text>
<text x="1214.5" y="455.9" font-size="26" text-anchor="middle" stroke="#000">0</text>
<text x="1275.0" y="455.9" font-size="26" text-anchor="middle" stroke="#000">5</text>
<text x="1340.7" y="455.9" font-size="26" text-anchor="middle" stroke="#000">10</text>
<text x="1405.0" y="455.9" font-size="26" text-anchor="middle" stroke="#000">15</text>
<text x="1468.0" y="455.9" font-size="26" text-anchor="middle" stroke="#000">20</text>
<text x="1048.5" y="395.6" font-size="26.5" text-anchor="middle" stroke="#000" transform="rotate(-90 1048.5 395.6)">Ra (MΩ)</text>
<text x="1291.0" y="490.6" font-size="26.5" text-anchor="middle" stroke="#000">Time (min)</text>
<text x="113.0" y="537.0" font-size="26.3" text-anchor="start" fill="#3196c8" stroke="#3196c8">PIL opto</text>
<line x1="161.7" y1="543.0" x2="161.7" y2="556.0" stroke="#2aa5df" stroke-width="3"/>
<polygon points="152.7,555.0 170.7,555.0 161.7,589.0" fill="#2aa5df"/>
<line x1="288.7" y1="558.7" x2="288.7" y2="614.7" stroke="#8a8a8a" stroke-width="2.4"/>
<polyline points="262.0,585.0 289.9,585.5 290.9,582.0 301.1,550.4 302.0,544.9 302.7,543.4 303.6,544.0 305.8,547.0 308.1,549.8 310.3,552.4 312.6,554.7 314.8,557.0 317.1,559.0 319.3,560.9 321.6,562.7 323.8,564.3 326.1,565.8 328.3,567.2 330.6,568.5 332.8,569.7 335.1,570.8 337.3,571.8 339.6,572.8 341.8,573.6 344.1,574.4 346.3,575.2 348.5,575.9 350.8,576.5 353.0,577.1 355.3,577.7 357.5,578.2 359.8,578.7 362.0,579.1 364.3,579.5 366.5,579.9 368.8,580.3 371.0,580.6 373.3,580.9 375.5,581.2 377.8,581.4 380.0,581.7 382.3,581.9 384.5,582.1 386.8,582.3 389.0,582.5 391.3,582.6 393.5,582.8" fill="none" stroke="#8a8a8a" stroke-width="2.4" stroke-linecap="butt" stroke-linejoin="round"/>
<polyline points="262.0,585.0 289.9,585.5 290.9,582.0 300.4,533.7 301.3,528.2 302.0,526.7 302.9,527.3 305.0,531.4 307.0,535.2 309.1,538.8 311.1,542.1 313.2,545.1 315.2,547.9 317.3,550.5 319.3,552.9 321.4,555.2 323.4,557.2 325.5,559.1 327.5,560.9 329.6,562.6 331.6,564.1 333.7,565.5 335.7,566.8 337.8,568.0 339.8,569.1 341.9,570.2 343.9,571.1 346.0,572.0 348.1,572.8 350.1,573.6 352.2,574.3 354.2,575.0 356.3,575.6 358.3,576.1 360.4,576.7 362.4,577.1 364.5,577.6 366.5,578.0 368.6,578.4 370.6,578.7 372.7,579.1 374.7,579.4 376.8,579.7 378.8,579.9 380.9,580.2 382.9,580.4 385.0,580.6" fill="none" stroke="#000" stroke-width="2.2" stroke-linecap="butt" stroke-linejoin="round"/>
<polyline points="262.0,585.0 289.9,585.5 290.9,582.0 301.1,550.4 302.0,544.9 302.7,543.4 303.6,544.0 305.8,547.0 308.1,549.8 310.3,552.4 312.6,554.7 314.8,557.0 317.1,559.0 319.3,560.9 321.6,562.7 323.8,564.3 326.1,565.8 328.3,567.2 330.6,568.5 332.8,569.7 335.1,570.8 337.3,571.8 339.6,572.8 341.8,573.6 344.1,574.4 346.3,575.2 348.5,575.9 350.8,576.5 353.0,577.1 355.3,577.7 357.5,578.2 359.8,578.7 362.0,579.1 364.3,579.5 366.5,579.9 368.8,580.3 371.0,580.6 373.3,580.9 375.5,581.2 377.8,581.4 380.0,581.7 382.3,581.9 384.5,582.1 386.8,582.3 389.0,582.5 391.3,582.6 393.5,582.8" fill="none" stroke="#8a8a8a" stroke-width="1.8" stroke-linecap="butt" stroke-linejoin="round"/>
<polyline points="365.0,599.0 400.0,599.0 400.0,570.0" fill="none" stroke="#000" stroke-width="2.5" stroke-linecap="butt" stroke-linejoin="miter"/>
<text x="412.7" y="566.5" font-size="26" text-anchor="middle" stroke="#000" transform="rotate(90 412.7 566.5)">20 pA</text>
<text x="387.0" y="623.0" font-size="26" text-anchor="middle" stroke="#000">20 ms</text>
<line x1="105.0" y1="613.5" x2="105.0" y2="648.5" stroke="#000" stroke-width="2.8"/>
<line x1="119.2" y1="606.8" x2="119.2" y2="646.9" stroke="#000" stroke-width="2.8"/>
<line x1="133.4" y1="613.5" x2="133.4" y2="643.5" stroke="#000" stroke-width="2.8"/>
<line x1="147.5" y1="615.2" x2="147.5" y2="650.2" stroke="#000" stroke-width="2.8"/>
<line x1="161.7" y1="626.8" x2="161.7" y2="640.2" stroke="#000" stroke-width="2.8"/>
<line x1="175.9" y1="628.5" x2="175.9" y2="645.2" stroke="#000" stroke-width="2.8"/>
<line x1="190.0" y1="636.8" x2="190.0" y2="650.2" stroke="#000" stroke-width="2.8"/>
<line x1="204.2" y1="646.9" x2="204.2" y2="663.6" stroke="#000" stroke-width="2.8"/>
<line x1="218.4" y1="633.5" x2="218.4" y2="656.9" stroke="#000" stroke-width="2.8"/>
<line x1="232.5" y1="610.1" x2="232.5" y2="671.9" stroke="#000" stroke-width="2.8"/>
<line x1="246.7" y1="640.2" x2="246.7" y2="656.9" stroke="#000" stroke-width="2.8"/>
<line x1="260.9" y1="640.2" x2="260.9" y2="673.6" stroke="#000" stroke-width="2.8"/>
<line x1="275.0" y1="655.2" x2="275.0" y2="688.6" stroke="#000" stroke-width="2.8"/>
<line x1="289.2" y1="636.8" x2="289.2" y2="663.6" stroke="#000" stroke-width="2.8"/>
<line x1="303.3" y1="663.6" x2="303.3" y2="683.6" stroke="#000" stroke-width="2.8"/>
<line x1="317.5" y1="668.6" x2="317.5" y2="686.9" stroke="#000" stroke-width="2.8"/>
<line x1="331.7" y1="668.6" x2="331.7" y2="685.2" stroke="#000" stroke-width="2.8"/>
<line x1="345.8" y1="666.9" x2="345.8" y2="685.2" stroke="#000" stroke-width="2.8"/>
<line x1="360.0" y1="655.2" x2="360.0" y2="690.3" stroke="#000" stroke-width="2.8"/>
<line x1="374.2" y1="660.2" x2="374.2" y2="680.2" stroke="#000" stroke-width="2.8"/>
<line x1="388.3" y1="641.9" x2="388.3" y2="666.9" stroke="#000" stroke-width="2.8"/>
<line x1="402.5" y1="666.9" x2="402.5" y2="696.9" stroke="#000" stroke-width="2.8"/>
<line x1="416.7" y1="663.6" x2="416.7" y2="686.9" stroke="#000" stroke-width="2.8"/>
<line x1="430.8" y1="638.5" x2="430.8" y2="691.9" stroke="#000" stroke-width="2.8"/>
<line x1="445.0" y1="650.2" x2="445.0" y2="703.6" stroke="#000" stroke-width="2.8"/>
<circle cx="105.0" cy="629.5" r="11.7" fill="#fff" stroke="#000" stroke-width="3.1"/>
<circle cx="119.2" cy="626.8" r="11.7" fill="#fff" stroke="#000" stroke-width="3.1"/>
<circle cx="133.4" cy="626.8" r="11.7" fill="#fff" stroke="#000" stroke-width="3.1"/>
<circle cx="147.5" cy="630.2" r="11.7" fill="#fff" stroke="#000" stroke-width="3.1"/>
<circle cx="161.7" cy="633.5" r="11.7" fill="#fff" stroke="#000" stroke-width="3.1"/>
<circle cx="175.9" cy="636.8" r="11.7" fill="#fff" stroke="#000" stroke-width="3.1"/>
<circle cx="190.0" cy="643.5" r="11.7" fill="#fff" stroke="#000" stroke-width="3.1"/>
<circle cx="204.2" cy="655.2" r="11.7" fill="#fff" stroke="#000" stroke-width="3.1"/>
<circle cx="218.4" cy="645.2" r="11.7" fill="#fff" stroke="#000" stroke-width="3.1"/>
<circle cx="232.5" cy="641.9" r="11.7" fill="#fff" stroke="#000" stroke-width="3.1"/>
<circle cx="246.7" cy="648.5" r="11.7" fill="#fff" stroke="#000" stroke-width="3.1"/>
<circle cx="260.9" cy="648.5" r="11.7" fill="#fff" stroke="#000" stroke-width="3.1"/>
<circle cx="275.0" cy="668.6" r="11.7" fill="#fff" stroke="#000" stroke-width="3.1"/>
<circle cx="289.2" cy="651.9" r="11.7" fill="#fff" stroke="#000" stroke-width="3.1"/>
<circle cx="303.3" cy="673.6" r="11.7" fill="#fff" stroke="#000" stroke-width="3.1"/>
<circle cx="317.5" cy="676.9" r="11.7" fill="#fff" stroke="#000" stroke-width="3.1"/>
<circle cx="331.7" cy="676.9" r="11.7" fill="#fff" stroke="#000" stroke-width="3.1"/>
<circle cx="345.8" cy="675.2" r="11.7" fill="#fff" stroke="#000" stroke-width="3.1"/>
<circle cx="360.0" cy="673.6" r="11.7" fill="#fff" stroke="#000" stroke-width="3.1"/>
<circle cx="374.2" cy="670.2" r="11.7" fill="#fff" stroke="#000" stroke-width="3.1"/>
<circle cx="388.3" cy="656.2" r="11.7" fill="#fff" stroke="#000" stroke-width="3.1"/>
<circle cx="402.5" cy="680.2" r="11.7" fill="#fff" stroke="#000" stroke-width="3.1"/>
<circle cx="416.7" cy="671.9" r="11.7" fill="#fff" stroke="#000" stroke-width="3.1"/>
<circle cx="430.8" cy="663.6" r="11.7" fill="#fff" stroke="#000" stroke-width="3.1"/>
<circle cx="445.0" cy="678.6" r="11.7" fill="#fff" stroke="#000" stroke-width="3.1"/>
<line x1="97.6" y1="628.3" x2="446.0" y2="628.3" stroke="#000" stroke-width="3.5" stroke-dasharray="13.35 12.05"/>
<line x1="392.0" y1="716.0" x2="441.7" y2="716.0" stroke="#000" stroke-width="4.5"/>
<text x="415.5" y="760.5" font-size="45" text-anchor="middle" stroke="#000" font-weight="bold">*</text>
<text x="136.5" y="760.3" font-size="26" text-anchor="middle" stroke="#000">(n=5)</text>
<line x1="90.8" y1="548.5" x2="90.8" y2="787.5" stroke="#000" stroke-width="3"/>
<line x1="90.8" y1="550.0" x2="103.8" y2="550.0" stroke="#000" stroke-width="3"/>
<line x1="90.8" y1="628.3" x2="103.8" y2="628.3" stroke="#000" stroke-width="3"/>
<line x1="90.8" y1="707.3" x2="103.8" y2="707.3" stroke="#000" stroke-width="3"/>
<text x="81.8" y="559.1" font-size="26" text-anchor="end" stroke="#000">150</text>
<text x="81.8" y="637.3" font-size="26" text-anchor="end" stroke="#000">100</text>
<text x="81.8" y="715.9" font-size="26" text-anchor="end" stroke="#000">50</text>
<text x="81.8" y="794.3" font-size="26" text-anchor="end" stroke="#000">0</text>
<line x1="89.3" y1="786.0" x2="447.5" y2="786.0" stroke="#000" stroke-width="3"/>
<line x1="161.7" y1="786.0" x2="161.7" y2="773.0" stroke="#000" stroke-width="3"/>
<line x1="232.3" y1="786.0" x2="232.3" y2="773.0" stroke="#000" stroke-width="3"/>
<line x1="303.3" y1="786.0" x2="303.3" y2="773.0" stroke="#000" stroke-width="3"/>
<line x1="375.0" y1="786.0" x2="375.0" y2="773.0" stroke="#000" stroke-width="3"/>
<line x1="445.0" y1="786.0" x2="445.0" y2="773.0" stroke="#000" stroke-width="3"/>
<text x="90.0" y="814.8" font-size="26" text-anchor="middle" stroke="#000">-5</text>
<text x="161.7" y="814.8" font-size="26" text-anchor="middle" stroke="#000">0</text>
<text x="232.3" y="814.8" font-size="26" text-anchor="middle" stroke="#000">5</text>
<text x="303.3" y="814.8" font-size="26" text-anchor="middle" stroke="#000">10</text>
<text x="375.0" y="814.8" font-size="26" text-anchor="middle" stroke="#000">15</text>
<text x="445.0" y="814.8" font-size="26" text-anchor="middle" stroke="#000">20</text>
<text x="28.5" y="665.0" font-size="26.5" text-anchor="middle" stroke="#000" transform="rotate(-90 28.5 665.0)">Normalized IPSC (%)</text>
<text x="271.0" y="845.0" font-size="26.5" text-anchor="middle" stroke="#000">Time (min)</text>
<text x="635.2" y="538.4" font-size="26.3" text-anchor="start" fill="#3196c8" stroke="#3196c8">PIL opto</text>
<line x1="682.0" y1="546.7" x2="682.0" y2="559.8" stroke="#2aa5df" stroke-width="3"/>
<polygon points="673.0,558.8 691.0,558.8 682.0,592.8" fill="#2aa5df"/>
<line x1="834.2" y1="579.0" x2="834.2" y2="633.1" stroke="#8a8a8a" stroke-width="2.4"/>
<polyline points="810.8,614.5 835.4,615.0 836.4,611.5 841.7,559.0 842.6,553.5 843.3,552.0 844.2,552.6 846.5,557.0 848.7,561.0 851.0,564.8 853.2,568.3 855.5,571.5 857.8,574.5 860.0,577.3 862.3,579.8 864.5,582.2 866.8,584.4 869.1,586.4 871.3,588.3 873.6,590.1 875.8,591.7 878.1,593.2 880.4,594.6 882.6,595.9 884.9,597.0 887.1,598.1 889.4,599.2 891.7,600.1 893.9,601.0 896.2,601.8 898.4,602.5 900.7,603.2 903.0,603.9 905.2,604.5 907.5,605.0 909.7,605.5 912.0,606.0 914.3,606.5 916.5,606.9 918.8,607.2 921.0,607.6 923.3,607.9 925.6,608.2 927.8,608.5 930.1,608.7 932.3,609.0 934.6,609.2" fill="none" stroke="#8a8a8a" stroke-width="2.4" stroke-linecap="butt" stroke-linejoin="round"/>
<polyline points="810.8,614.5 835.4,615.0 836.4,611.5 841.7,558.0 842.6,552.5 843.3,551.0 844.2,551.6 846.3,555.9 848.5,560.0 850.6,563.7 852.8,567.1 854.9,570.3 857.1,573.3 859.2,576.0 861.4,578.5 863.5,580.9 865.6,583.1 867.8,585.1 869.9,586.9 872.1,588.7 874.2,590.3 876.4,591.7 878.5,593.1 880.7,594.4 882.8,595.6 885.0,596.6 887.1,597.7 889.2,598.6 891.4,599.5 893.5,600.3 895.7,601.0 897.8,601.7 900.0,602.3 902.1,602.9 904.3,603.5 906.4,604.0 908.5,604.4 910.7,604.9 912.8,605.3 915.0,605.7 917.1,606.0 919.3,606.3 921.4,606.6 923.6,606.9 925.7,607.1 927.9,607.4 930.0,607.6" fill="none" stroke="#000" stroke-width="2.0" stroke-linecap="butt" stroke-linejoin="round"/>
<polyline points="810.8,614.5 835.4,615.0 836.4,611.5 841.7,560.5 842.6,555.0 843.3,553.5 844.2,554.1 846.5,558.4 848.7,562.3 851.0,566.0 853.2,569.4 855.5,572.5 857.8,575.4 860.0,578.1 862.3,580.6 864.5,582.9 866.8,585.1 869.1,587.0 871.3,588.9 873.6,590.6 875.8,592.1 878.1,593.6 880.4,595.0 882.6,596.2 884.9,597.4 887.1,598.4 889.4,599.4 891.7,600.3 893.9,601.2 896.2,602.0 898.4,602.7 900.7,603.4 903.0,604.0 905.2,604.6 907.5,605.1 909.7,605.6 912.0,606.1 914.3,606.5 916.5,606.9 918.8,607.3 921.0,607.6 923.3,607.9 925.6,608.2 927.8,608.5 930.1,608.8 932.3,609.0 934.6,609.2" fill="none" stroke="#8a8a8a" stroke-width="1.6" stroke-linecap="butt" stroke-linejoin="round"/>
<polyline points="913.9,621.8 942.3,621.8 942.3,581.8" fill="none" stroke="#000" stroke-width="2.5" stroke-linecap="butt" stroke-linejoin="miter"/>
<text x="949.7" y="586.7" font-size="26" text-anchor="middle" stroke="#000" transform="rotate(90 949.7 586.7)">100 pA</text>
<text x="930.0" y="643.0" font-size="26" text-anchor="middle" stroke="#000">20 ms</text>
<line x1="641.9" y1="656.9" x2="641.9" y2="683.6" stroke="#000" stroke-width="2.8"/>
<line x1="666.9" y1="660.2" x2="666.9" y2="681.9" stroke="#000" stroke-width="2.8"/>
<line x1="710.3" y1="663.6" x2="710.3" y2="688.6" stroke="#000" stroke-width="2.8"/>
<line x1="765.4" y1="658.5" x2="765.4" y2="678.6" stroke="#000" stroke-width="2.8"/>
<line x1="820.4" y1="656.9" x2="820.4" y2="681.9" stroke="#000" stroke-width="2.8"/>
<line x1="887.2" y1="655.2" x2="887.2" y2="690.3" stroke="#000" stroke-width="2.8"/>
<line x1="915.6" y1="653.5" x2="915.6" y2="685.2" stroke="#000" stroke-width="2.8"/>
<line x1="928.9" y1="663.6" x2="928.9" y2="683.6" stroke="#000" stroke-width="2.8"/>
<line x1="943.3" y1="663.6" x2="943.3" y2="705.3" stroke="#000" stroke-width="2.8"/>
<circle cx="626.8" cy="656.2" r="11.7" fill="#fff" stroke="#000" stroke-width="3.1"/>
<circle cx="641.9" cy="669.6" r="11.7" fill="#fff" stroke="#000" stroke-width="3.1"/>
<circle cx="655.2" cy="660.2" r="11.7" fill="#fff" stroke="#000" stroke-width="3.1"/>
<circle cx="666.9" cy="671.9" r="11.7" fill="#fff" stroke="#000" stroke-width="3.1"/>
<circle cx="682.9" cy="681.9" r="11.7" fill="#fff" stroke="#000" stroke-width="3.1"/>
<circle cx="696.9" cy="647.9" r="11.7" fill="#fff" stroke="#000" stroke-width="3.1"/>
<circle cx="710.3" cy="675.2" r="11.7" fill="#fff" stroke="#000" stroke-width="3.1"/>
<circle cx="723.6" cy="661.9" r="11.7" fill="#fff" stroke="#000" stroke-width="3.1"/>
<circle cx="737.0" cy="680.2" r="11.7" fill="#fff" stroke="#000" stroke-width="3.1"/>
<circle cx="752.0" cy="662.6" r="11.7" fill="#fff" stroke="#000" stroke-width="3.1"/>
<circle cx="765.4" cy="668.6" r="11.7" fill="#fff" stroke="#000" stroke-width="3.1"/>
<circle cx="778.7" cy="681.9" r="11.7" fill="#fff" stroke="#000" stroke-width="3.1"/>
<circle cx="793.1" cy="665.9" r="11.7" fill="#fff" stroke="#000" stroke-width="3.1"/>
<circle cx="805.4" cy="654.2" r="11.7" fill="#fff" stroke="#000" stroke-width="3.1"/>
<circle cx="820.4" cy="666.9" r="11.7" fill="#fff" stroke="#000" stroke-width="3.1"/>
<circle cx="833.8" cy="665.2" r="11.7" fill="#fff" stroke="#000" stroke-width="3.1"/>
<circle cx="847.1" cy="663.6" r="11.7" fill="#fff" stroke="#000" stroke-width="3.1"/>
<circle cx="860.5" cy="668.6" r="11.7" fill="#fff" stroke="#000" stroke-width="3.1"/>
<circle cx="873.8" cy="671.9" r="11.7" fill="#fff" stroke="#000" stroke-width="3.1"/>
<circle cx="887.2" cy="673.6" r="11.7" fill="#fff" stroke="#000" stroke-width="3.1"/>
<circle cx="900.5" cy="672.6" r="11.7" fill="#fff" stroke="#000" stroke-width="3.1"/>
<circle cx="915.6" cy="664.2" r="11.7" fill="#fff" stroke="#000" stroke-width="3.1"/>
<circle cx="928.9" cy="673.6" r="11.7" fill="#fff" stroke="#000" stroke-width="3.1"/>
<circle cx="943.3" cy="681.9" r="11.7" fill="#fff" stroke="#000" stroke-width="3.1"/>
<circle cx="957.3" cy="664.2" r="11.7" fill="#fff" stroke="#000" stroke-width="3.1"/>
<line x1="622.0" y1="666.9" x2="956.0" y2="666.9" stroke="#000" stroke-width="3.5" stroke-dasharray="13.35 12.05"/>
<line x1="905.5" y1="717.0" x2="956.6" y2="717.0" stroke="#000" stroke-width="4.5"/>
<text x="930.5" y="740.0" font-size="26" text-anchor="middle" stroke="#000">ns</text>
<text x="679.4" y="759.3" font-size="26" text-anchor="middle" stroke="#000">(n=8)</text>
<line x1="615.2" y1="547.9" x2="615.2" y2="787.9" stroke="#000" stroke-width="3"/>
<line x1="615.2" y1="549.4" x2="628.2" y2="549.4" stroke="#000" stroke-width="3"/>
<line x1="615.2" y1="608.5" x2="628.2" y2="608.5" stroke="#000" stroke-width="3"/>
<line x1="615.2" y1="666.9" x2="628.2" y2="666.9" stroke="#000" stroke-width="3"/>
<line x1="615.2" y1="727.0" x2="628.2" y2="727.0" stroke="#000" stroke-width="3"/>
<text x="606.0" y="562.3" font-size="26" text-anchor="end" stroke="#000">200</text>
<text x="606.0" y="620.7" font-size="26" text-anchor="end" stroke="#000">150</text>
<text x="606.0" y="679.1" font-size="26" text-anchor="end" stroke="#000">100</text>
<text x="606.0" y="739.3" font-size="26" text-anchor="end" stroke="#000">50</text>
<text x="606.0" y="797.3" font-size="26" text-anchor="end" stroke="#000">0</text>
<line x1="613.7" y1="786.4" x2="958.1" y2="786.4" stroke="#000" stroke-width="3"/>
<line x1="682.9" y1="786.4" x2="682.9" y2="773.4" stroke="#000" stroke-width="3"/>
<line x1="751.0" y1="786.4" x2="751.0" y2="773.4" stroke="#000" stroke-width="3"/>
<line x1="820.4" y1="786.4" x2="820.4" y2="773.4" stroke="#000" stroke-width="3"/>
<line x1="888.2" y1="786.4" x2="888.2" y2="773.4" stroke="#000" stroke-width="3"/>
<line x1="955.6" y1="786.4" x2="955.6" y2="773.4" stroke="#000" stroke-width="3"/>
<text x="608.5" y="816.8" font-size="26" text-anchor="middle" stroke="#000">-5</text>
<text x="682.0" y="816.8" font-size="26" text-anchor="middle" stroke="#000">0</text>
<text x="750.3" y="816.8" font-size="26" text-anchor="middle" stroke="#000">5</text>
<text x="818.8" y="816.8" font-size="26" text-anchor="middle" stroke="#000">10</text>
<text x="888.9" y="816.8" font-size="26" text-anchor="middle" stroke="#000">15</text>
<text x="955.6" y="816.8" font-size="26" text-anchor="middle" stroke="#000">20</text>
<text x="550.5" y="667.0" font-size="26.5" text-anchor="middle" stroke="#000" transform="rotate(-90 550.5 667.0)">Normalized IPSC (%)</text>
<text x="793.0" y="855.0" font-size="26.5" text-anchor="middle" stroke="#000">Time (min)</text>
<text x="1131.5" y="543.4" font-size="26.3" text-anchor="start" fill="#3196c8" stroke="#3196c8">PIL opto</text>
<line x1="1178.2" y1="550.0" x2="1178.2" y2="562.8" stroke="#2aa5df" stroke-width="3"/>
<polygon points="1169.2,561.8 1187.2,561.8 1178.2,596.8" fill="#2aa5df"/>
<line x1="1286.7" y1="576.0" x2="1286.7" y2="632.8" stroke="#8a8a8a" stroke-width="2.4"/>
<polyline points="1260.0,614.5 1287.9,615.0 1288.9,611.5 1293.4,547.0 1294.3,541.5 1295.0,540.0 1295.9,540.6 1299.0,545.9 1302.1,550.8 1305.1,555.4 1308.2,559.6 1311.3,563.5 1314.4,567.2 1317.5,570.5 1320.6,573.6 1323.6,576.5 1326.7,579.2 1329.8,581.6 1332.9,583.9 1336.0,586.0 1339.1,588.0 1342.1,589.8 1345.2,591.5 1348.3,593.0 1351.4,594.5 1354.5,595.8 1357.6,597.0 1360.6,598.2 1363.7,599.2 1366.8,600.2 1369.9,601.1 1373.0,602.0 1376.0,602.7 1379.1,603.4 1382.2,604.1 1385.3,604.7 1388.4,605.3 1391.5,605.8 1394.5,606.3 1397.6,606.8 1400.7,607.2 1403.8,607.6 1406.9,607.9 1410.0,608.3 1413.0,608.6 1416.1,608.9 1419.2,609.1" fill="none" stroke="#8a8a8a" stroke-width="2.4" stroke-linecap="butt" stroke-linejoin="round"/>
<polyline points="1260.0,614.5 1287.9,615.0 1288.9,611.5 1293.4,546.0 1294.3,540.5 1295.0,539.0 1295.9,539.6 1298.9,544.9 1301.9,549.8 1304.8,554.4 1307.8,558.6 1310.8,562.5 1313.8,566.2 1316.7,569.5 1319.7,572.6 1322.7,575.5 1325.7,578.2 1328.7,580.6 1331.6,582.9 1334.6,585.0 1337.6,587.0 1340.6,588.8 1343.5,590.5 1346.5,592.0 1349.5,593.5 1352.5,594.8 1355.5,596.0 1358.4,597.2 1361.4,598.2 1364.4,599.2 1367.4,600.1 1370.3,600.9 1373.3,601.7 1376.3,602.4 1379.3,603.1 1382.2,603.7 1385.2,604.3 1388.2,604.8 1391.2,605.3 1394.2,605.8 1397.1,606.2 1400.1,606.6 1403.1,606.9 1406.1,607.3 1409.0,607.6 1412.0,607.9 1415.0,608.1" fill="none" stroke="#000" stroke-width="2.0" stroke-linecap="butt" stroke-linejoin="round"/>
<polyline points="1260.0,614.5 1287.9,615.0 1288.9,611.5 1293.4,548.5 1294.3,543.0 1295.0,541.5 1295.9,542.1 1299.0,547.3 1302.1,552.1 1305.1,556.6 1308.2,560.7 1311.3,564.5 1314.4,568.1 1317.5,571.4 1320.6,574.4 1323.6,577.2 1326.7,579.8 1329.8,582.2 1332.9,584.5 1336.0,586.5 1339.1,588.4 1342.1,590.2 1345.2,591.9 1348.3,593.4 1351.4,594.8 1354.5,596.1 1357.6,597.3 1360.6,598.4 1363.7,599.4 1366.8,600.4 1369.9,601.3 1373.0,602.1 1376.0,602.9 1379.1,603.6 1382.2,604.2 1385.3,604.8 1388.4,605.4 1391.5,605.9 1394.5,606.4 1397.6,606.8 1400.7,607.2 1403.8,607.6 1406.9,608.0 1410.0,608.3 1413.0,608.6 1416.1,608.9 1419.2,609.1" fill="none" stroke="#8a8a8a" stroke-width="1.6" stroke-linecap="butt" stroke-linejoin="round"/>
<polyline points="1410.2,625.2 1431.9,625.2 1431.9,595.0" fill="none" stroke="#000" stroke-width="2.5" stroke-linecap="butt" stroke-linejoin="miter"/>
<text x="1444.7" y="606.0" font-size="26" text-anchor="middle" stroke="#000" transform="rotate(90 1444.7 606.0)">100 pA</text>
<text x="1402.0" y="647.0" font-size="26" text-anchor="middle" stroke="#000">20 ms</text>
<line x1="1123.2" y1="651.9" x2="1123.2" y2="678.6" stroke="#000" stroke-width="2.8"/>
<line x1="1136.5" y1="666.9" x2="1136.5" y2="698.6" stroke="#000" stroke-width="2.8"/>
<line x1="1164.2" y1="651.9" x2="1164.2" y2="680.2" stroke="#000" stroke-width="2.8"/>
<line x1="1178.2" y1="663.6" x2="1178.2" y2="693.6" stroke="#000" stroke-width="2.8"/>
<line x1="1191.6" y1="653.5" x2="1191.6" y2="693.6" stroke="#000" stroke-width="2.8"/>
<line x1="1233.3" y1="680.2" x2="1233.3" y2="706.9" stroke="#000" stroke-width="2.8"/>
<line x1="1246.7" y1="666.9" x2="1246.7" y2="705.3" stroke="#000" stroke-width="2.8"/>
<line x1="1313.4" y1="670.2" x2="1313.4" y2="701.9" stroke="#000" stroke-width="2.8"/>
<line x1="1326.8" y1="673.6" x2="1326.8" y2="696.9" stroke="#000" stroke-width="2.8"/>
<line x1="1354.5" y1="673.6" x2="1354.5" y2="693.6" stroke="#000" stroke-width="2.8"/>
<line x1="1381.8" y1="680.2" x2="1381.8" y2="710.3" stroke="#000" stroke-width="2.8"/>
<line x1="1410.2" y1="685.2" x2="1410.2" y2="705.3" stroke="#000" stroke-width="2.8"/>
<circle cx="1123.2" cy="665.2" r="11.7" fill="#fff" stroke="#000" stroke-width="3.1"/>
<circle cx="1136.5" cy="680.2" r="11.7" fill="#fff" stroke="#000" stroke-width="3.1"/>
<circle cx="1149.9" cy="671.9" r="11.7" fill="#fff" stroke="#000" stroke-width="3.1"/>
<circle cx="1164.2" cy="666.9" r="11.7" fill="#fff" stroke="#000" stroke-width="3.1"/>
<circle cx="1178.2" cy="678.6" r="11.7" fill="#fff" stroke="#000" stroke-width="3.1"/>
<circle cx="1191.6" cy="671.9" r="11.7" fill="#fff" stroke="#000" stroke-width="3.1"/>
<circle cx="1204.9" cy="688.6" r="11.7" fill="#fff" stroke="#000" stroke-width="3.1"/>
<circle cx="1218.3" cy="673.6" r="11.7" fill="#fff" stroke="#000" stroke-width="3.1"/>
<circle cx="1233.3" cy="693.6" r="11.7" fill="#fff" stroke="#000" stroke-width="3.1"/>
<circle cx="1246.7" cy="686.9" r="11.7" fill="#fff" stroke="#000" stroke-width="3.1"/>
<circle cx="1260.0" cy="687.9" r="11.7" fill="#fff" stroke="#000" stroke-width="3.1"/>
<circle cx="1273.4" cy="690.9" r="11.7" fill="#fff" stroke="#000" stroke-width="3.1"/>
<circle cx="1286.7" cy="693.6" r="11.7" fill="#fff" stroke="#000" stroke-width="3.1"/>
<circle cx="1300.1" cy="688.6" r="11.7" fill="#fff" stroke="#000" stroke-width="3.1"/>
<circle cx="1313.4" cy="683.6" r="11.7" fill="#fff" stroke="#000" stroke-width="3.1"/>
<circle cx="1326.8" cy="681.9" r="11.7" fill="#fff" stroke="#000" stroke-width="3.1"/>
<circle cx="1340.1" cy="686.9" r="11.7" fill="#fff" stroke="#000" stroke-width="3.1"/>
<circle cx="1354.5" cy="682.9" r="11.7" fill="#fff" stroke="#000" stroke-width="3.1"/>
<circle cx="1368.5" cy="679.2" r="11.7" fill="#fff" stroke="#000" stroke-width="3.1"/>
<circle cx="1381.8" cy="695.3" r="11.7" fill="#fff" stroke="#000" stroke-width="3.1"/>
<circle cx="1396.9" cy="671.9" r="11.7" fill="#fff" stroke="#000" stroke-width="3.1"/>
<circle cx="1410.2" cy="695.3" r="11.7" fill="#fff" stroke="#000" stroke-width="3.1"/>
<circle cx="1423.6" cy="685.2" r="11.7" fill="#fff" stroke="#000" stroke-width="3.1"/>
<circle cx="1436.9" cy="686.9" r="11.7" fill="#fff" stroke="#000" stroke-width="3.1"/>
<circle cx="1451.3" cy="685.2" r="11.7" fill="#fff" stroke="#000" stroke-width="3.1"/>
<line x1="1117.6" y1="672.9" x2="1451.0" y2="672.9" stroke="#000" stroke-width="3.5" stroke-dasharray="13.35 12.05"/>
<line x1="1401.9" y1="723.0" x2="1452.0" y2="723.0" stroke="#000" stroke-width="4.5"/>
<text x="1427.0" y="747.0" font-size="26" text-anchor="middle" stroke="#000">ns</text>
<text x="1175.0" y="763.0" font-size="26" text-anchor="middle" stroke="#000">(n=6)</text>
<line x1="1110.8" y1="552.5" x2="1110.8" y2="791.9" stroke="#000" stroke-width="3"/>
<line x1="1110.8" y1="554.0" x2="1123.8" y2="554.0" stroke="#000" stroke-width="3"/>
<line x1="1110.8" y1="613.5" x2="1123.8" y2="613.5" stroke="#000" stroke-width="3"/>
<line x1="1110.8" y1="672.9" x2="1123.8" y2="672.9" stroke="#000" stroke-width="3"/>
<line x1="1110.8" y1="731.3" x2="1123.8" y2="731.3" stroke="#000" stroke-width="3"/>
<text x="1103.0" y="564.0" font-size="26" text-anchor="end" stroke="#000">200</text>
<text x="1103.0" y="622.3" font-size="26" text-anchor="end" stroke="#000">150</text>
<text x="1103.0" y="680.8" font-size="26" text-anchor="end" stroke="#000">100</text>
<text x="1103.0" y="739.3" font-size="26" text-anchor="end" stroke="#000">50</text>
<text x="1103.0" y="798.3" font-size="26" text-anchor="end" stroke="#000">0</text>
<line x1="1109.3" y1="790.4" x2="1452.8" y2="790.4" stroke="#000" stroke-width="3"/>
<line x1="1178.2" y1="790.4" x2="1178.2" y2="777.4" stroke="#000" stroke-width="3"/>
<line x1="1246.7" y1="790.4" x2="1246.7" y2="777.4" stroke="#000" stroke-width="3"/>
<line x1="1314.4" y1="790.4" x2="1314.4" y2="777.4" stroke="#000" stroke-width="3"/>
<line x1="1383.5" y1="790.4" x2="1383.5" y2="777.4" stroke="#000" stroke-width="3"/>
<line x1="1451.3" y1="790.4" x2="1451.3" y2="777.4" stroke="#000" stroke-width="3"/>
<text x="1104.8" y="818.5" font-size="26" text-anchor="middle" stroke="#000">-5</text>
<text x="1178.2" y="818.5" font-size="26" text-anchor="middle" stroke="#000">0</text>
<text x="1246.7" y="818.5" font-size="26" text-anchor="middle" stroke="#000">5</text>
<text x="1315.0" y="818.5" font-size="26" text-anchor="middle" stroke="#000">10</text>
<text x="1384.5" y="818.5" font-size="26" text-anchor="middle" stroke="#000">15</text>
<text x="1451.3" y="818.5" font-size="26" text-anchor="middle" stroke="#000">20</text>
<text x="1052.5" y="671.0" font-size="26.5" text-anchor="middle" stroke="#000" transform="rotate(-90 1052.5 671.0)">Normalized IPSC (%)</text>
<text x="1289.0" y="856.0" font-size="26.5" text-anchor="middle" stroke="#000">Time (min)</text>
<text x="116.8" y="891.7" font-size="26.3" text-anchor="start" fill="#3196c8" stroke="#3196c8">PIL opto</text>
<line x1="164.2" y1="899.4" x2="164.2" y2="911.0" stroke="#2aa5df" stroke-width="3"/>
<polygon points="155.2,910.0 173.2,910.0 164.2,945.0" fill="#2aa5df"/>
<line x1="107.8" y1="996.8" x2="107.8" y2="1125.4" stroke="#000" stroke-width="2.8"/>
<line x1="122.8" y1="1075.3" x2="122.8" y2="1108.7" stroke="#000" stroke-width="2.8"/>
<line x1="136.2" y1="991.8" x2="136.2" y2="1127.0" stroke="#000" stroke-width="2.8"/>
<line x1="151.2" y1="968.5" x2="151.2" y2="1140.4" stroke="#000" stroke-width="2.8"/>
<line x1="165.2" y1="998.5" x2="165.2" y2="1110.3" stroke="#000" stroke-width="2.8"/>
<line x1="179.2" y1="1056.9" x2="179.2" y2="1093.6" stroke="#000" stroke-width="2.8"/>
<line x1="193.6" y1="1077.0" x2="193.6" y2="1122.0" stroke="#000" stroke-width="2.8"/>
<line x1="207.6" y1="1060.3" x2="207.6" y2="1100.3" stroke="#000" stroke-width="2.8"/>
<line x1="222.0" y1="1053.6" x2="222.0" y2="1108.7" stroke="#000" stroke-width="2.8"/>
<line x1="236.3" y1="1070.3" x2="236.3" y2="1142.0" stroke="#000" stroke-width="2.8"/>
<line x1="250.3" y1="1063.6" x2="250.3" y2="1090.3" stroke="#000" stroke-width="2.8"/>
<line x1="264.7" y1="1063.6" x2="264.7" y2="1108.7" stroke="#000" stroke-width="2.8"/>
<line x1="278.7" y1="1063.6" x2="278.7" y2="1103.7" stroke="#000" stroke-width="2.8"/>
<line x1="293.1" y1="1066.9" x2="293.1" y2="1108.7" stroke="#000" stroke-width="2.8"/>
<line x1="307.1" y1="1087.0" x2="307.1" y2="1103.7" stroke="#000" stroke-width="2.8"/>
<line x1="321.1" y1="1087.0" x2="321.1" y2="1113.7" stroke="#000" stroke-width="2.8"/>
<line x1="349.8" y1="1092.0" x2="349.8" y2="1115.3" stroke="#000" stroke-width="2.8"/>
<line x1="363.8" y1="1080.3" x2="363.8" y2="1123.7" stroke="#000" stroke-width="2.8"/>
<line x1="378.2" y1="1088.6" x2="378.2" y2="1108.7" stroke="#000" stroke-width="2.8"/>
<line x1="392.2" y1="1087.0" x2="392.2" y2="1108.7" stroke="#000" stroke-width="2.8"/>
<line x1="406.5" y1="1103.7" x2="406.5" y2="1127.0" stroke="#000" stroke-width="2.8"/>
<line x1="420.6" y1="1077.0" x2="420.6" y2="1128.7" stroke="#000" stroke-width="2.8"/>
<line x1="434.9" y1="1090.3" x2="434.9" y2="1120.3" stroke="#000" stroke-width="2.8"/>
<line x1="449.9" y1="1070.3" x2="449.9" y2="1120.3" stroke="#000" stroke-width="2.8"/>
<circle cx="107.8" cy="1060.3" r="11.7" fill="#fff" stroke="#000" stroke-width="3.1"/>
<circle cx="122.8" cy="1092.0" r="11.7" fill="#fff" stroke="#000" stroke-width="3.1"/>
<circle cx="136.2" cy="1058.6" r="11.7" fill="#fff" stroke="#000" stroke-width="3.1"/>
<circle cx="151.2" cy="1053.6" r="11.7" fill="#fff" stroke="#000" stroke-width="3.1"/>
<circle cx="165.2" cy="1055.3" r="11.7" fill="#fff" stroke="#000" stroke-width="3.1"/>
<circle cx="179.2" cy="1077.0" r="11.7" fill="#fff" stroke="#000" stroke-width="3.1"/>
<circle cx="193.6" cy="1097.0" r="11.7" fill="#fff" stroke="#000" stroke-width="3.1"/>
<circle cx="207.6" cy="1080.3" r="11.7" fill="#fff" stroke="#000" stroke-width="3.1"/>
<circle cx="222.0" cy="1080.3" r="11.7" fill="#fff" stroke="#000" stroke-width="3.1"/>
<circle cx="236.3" cy="1110.3" r="11.7" fill="#fff" stroke="#000" stroke-width="3.1"/>
<circle cx="250.3" cy="1077.0" r="11.7" fill="#fff" stroke="#000" stroke-width="3.1"/>
<circle cx="264.7" cy="1098.7" r="11.7" fill="#fff" stroke="#000" stroke-width="3.1"/>
<circle cx="278.7" cy="1083.6" r="11.7" fill="#fff" stroke="#000" stroke-width="3.1"/>
<circle cx="293.1" cy="1087.0" r="11.7" fill="#fff" stroke="#000" stroke-width="3.1"/>
<circle cx="307.1" cy="1095.3" r="11.7" fill="#fff" stroke="#000" stroke-width="3.1"/>
<circle cx="321.1" cy="1100.3" r="11.7" fill="#fff" stroke="#000" stroke-width="3.1"/>
<circle cx="335.4" cy="1091.0" r="11.7" fill="#fff" stroke="#000" stroke-width="3.1"/>
<circle cx="349.8" cy="1103.7" r="11.7" fill="#fff" stroke="#000" stroke-width="3.1"/>
<circle cx="363.8" cy="1103.7" r="11.7" fill="#fff" stroke="#000" stroke-width="3.1"/>
<circle cx="378.2" cy="1098.0" r="11.7" fill="#fff" stroke="#000" stroke-width="3.1"/>
<circle cx="392.2" cy="1100.3" r="11.7" fill="#fff" stroke="#000" stroke-width="3.1"/>
<circle cx="406.5" cy="1115.3" r="11.7" fill="#fff" stroke="#000" stroke-width="3.1"/>
<circle cx="420.6" cy="1102.0" r="11.7" fill="#fff" stroke="#000" stroke-width="3.1"/>
<circle cx="434.9" cy="1105.3" r="11.7" fill="#fff" stroke="#000" stroke-width="3.1"/>
<circle cx="449.9" cy="1095.3" r="11.7" fill="#fff" stroke="#000" stroke-width="3.1"/>
<line x1="101.8" y1="1063.6" x2="450.0" y2="1063.6" stroke="#000" stroke-width="3.5" stroke-dasharray="13.35 12.05"/>
<text x="423.0" y="1028.6" font-size="26" text-anchor="middle" stroke="#000">ns</text>
<line x1="398.9" y1="1043.6" x2="449.0" y2="1043.6" stroke="#000" stroke-width="4.5"/>
<line x1="95.1" y1="903.5" x2="95.1" y2="1145.2" stroke="#000" stroke-width="3"/>
<line x1="95.1" y1="906.7" x2="108.1" y2="906.7" stroke="#000" stroke-width="3"/>
<line x1="95.1" y1="985.2" x2="108.1" y2="985.2" stroke="#000" stroke-width="3"/>
<line x1="95.1" y1="1063.6" x2="108.1" y2="1063.6" stroke="#000" stroke-width="3"/>
<text x="84.0" y="915.7" font-size="26" text-anchor="end" stroke="#000">3</text>
<text x="84.0" y="994.2" font-size="26" text-anchor="end" stroke="#000">2</text>
<text x="84.0" y="1072.6" font-size="26" text-anchor="end" stroke="#000">1</text>
<text x="84.0" y="1151.0" font-size="26" text-anchor="end" stroke="#000">0</text>
<line x1="93.6" y1="1143.7" x2="452.1" y2="1143.7" stroke="#000" stroke-width="3"/>
<line x1="165.2" y1="1143.7" x2="165.2" y2="1130.7" stroke="#000" stroke-width="3"/>
<line x1="236.3" y1="1143.7" x2="236.3" y2="1130.7" stroke="#000" stroke-width="3"/>
<line x1="307.1" y1="1143.7" x2="307.1" y2="1130.7" stroke="#000" stroke-width="3"/>
<line x1="377.8" y1="1143.7" x2="377.8" y2="1130.7" stroke="#000" stroke-width="3"/>
<line x1="449.0" y1="1143.7" x2="449.0" y2="1130.7" stroke="#000" stroke-width="3"/>
<text x="93.5" y="1178.5" font-size="26" text-anchor="middle" stroke="#000">-5</text>
<text x="165.2" y="1178.5" font-size="26" text-anchor="middle" stroke="#000">0</text>
<text x="236.3" y="1178.5" font-size="26" text-anchor="middle" stroke="#000">5</text>
<text x="306.4" y="1178.5" font-size="26" text-anchor="middle" stroke="#000">10</text>
<text x="377.2" y="1178.5" font-size="26" text-anchor="middle" stroke="#000">15</text>
<text x="447.3" y="1178.5" font-size="26" text-anchor="middle" stroke="#000">20</text>
<text x="23.7" y="1023.5" font-size="26.5" text-anchor="middle" stroke="#000" transform="rotate(-90 23.7 1023.5)">Normalized</text>
<text x="55.4" y="1023.5" font-size="26.5" text-anchor="middle" stroke="#000" transform="rotate(-90 55.4 1023.5)">IPSC/EPSC</text>
<text x="276.0" y="1207.0" font-size="26.5" text-anchor="middle" stroke="#000">Time (min)</text>
<text x="635.2" y="895.0" font-size="26.3" text-anchor="start" fill="#3196c8" stroke="#3196c8">PIL opto</text>
<line x1="682.0" y1="903.4" x2="682.0" y2="916.1" stroke="#2aa5df" stroke-width="3"/>
<polygon points="673.0,915.1 691.0,915.1 682.0,950.1" fill="#2aa5df"/>
<line x1="643.5" y1="1040.2" x2="643.5" y2="1068.6" stroke="#000" stroke-width="2.8"/>
<line x1="656.9" y1="1053.6" x2="656.9" y2="1082.0" stroke="#000" stroke-width="2.8"/>
<line x1="671.2" y1="1031.9" x2="671.2" y2="1075.3" stroke="#000" stroke-width="2.8"/>
<line x1="698.6" y1="1040.2" x2="698.6" y2="1070.3" stroke="#000" stroke-width="2.8"/>
<line x1="753.7" y1="1040.2" x2="753.7" y2="1077.0" stroke="#000" stroke-width="2.8"/>
<line x1="807.7" y1="1051.9" x2="807.7" y2="1075.3" stroke="#000" stroke-width="2.8"/>
<line x1="835.4" y1="1041.9" x2="835.4" y2="1077.0" stroke="#000" stroke-width="2.8"/>
<line x1="848.8" y1="1056.9" x2="848.8" y2="1092.0" stroke="#000" stroke-width="2.8"/>
<line x1="862.1" y1="1066.9" x2="862.1" y2="1090.3" stroke="#000" stroke-width="2.8"/>
<line x1="889.9" y1="1070.3" x2="889.9" y2="1100.3" stroke="#000" stroke-width="2.8"/>
<line x1="903.9" y1="1058.6" x2="903.9" y2="1080.3" stroke="#000" stroke-width="2.8"/>
<line x1="932.2" y1="1046.9" x2="932.2" y2="1090.3" stroke="#000" stroke-width="2.8"/>
<circle cx="630.2" cy="1063.6" r="11.7" fill="#fff" stroke="#000" stroke-width="3.1"/>
<circle cx="643.5" cy="1055.3" r="11.7" fill="#fff" stroke="#000" stroke-width="3.1"/>
<circle cx="656.9" cy="1061.9" r="11.7" fill="#fff" stroke="#000" stroke-width="3.1"/>
<circle cx="671.2" cy="1055.3" r="11.7" fill="#fff" stroke="#000" stroke-width="3.1"/>
<circle cx="685.2" cy="1078.6" r="11.7" fill="#fff" stroke="#000" stroke-width="3.1"/>
<circle cx="698.6" cy="1055.3" r="11.7" fill="#fff" stroke="#000" stroke-width="3.1"/>
<circle cx="711.9" cy="1059.6" r="11.7" fill="#fff" stroke="#000" stroke-width="3.1"/>
<circle cx="726.3" cy="1048.6" r="11.7" fill="#fff" stroke="#000" stroke-width="3.1"/>
<circle cx="739.7" cy="1078.6" r="11.7" fill="#fff" stroke="#000" stroke-width="3.1"/>
<circle cx="753.7" cy="1059.3" r="11.7" fill="#fff" stroke="#000" stroke-width="3.1"/>
<circle cx="767.0" cy="1066.9" r="11.7" fill="#fff" stroke="#000" stroke-width="3.1"/>
<circle cx="780.4" cy="1083.0" r="11.7" fill="#fff" stroke="#000" stroke-width="3.1"/>
<circle cx="794.4" cy="1070.9" r="11.7" fill="#fff" stroke="#000" stroke-width="3.1"/>
<circle cx="807.7" cy="1064.3" r="11.7" fill="#fff" stroke="#000" stroke-width="3.1"/>
<circle cx="821.1" cy="1073.6" r="11.7" fill="#fff" stroke="#000" stroke-width="3.1"/>
<circle cx="835.4" cy="1060.3" r="11.7" fill="#fff" stroke="#000" stroke-width="3.1"/>
<circle cx="848.8" cy="1068.6" r="11.7" fill="#fff" stroke="#000" stroke-width="3.1"/>
<circle cx="862.1" cy="1078.6" r="11.7" fill="#fff" stroke="#000" stroke-width="3.1"/>
<circle cx="876.5" cy="1075.3" r="11.7" fill="#fff" stroke="#000" stroke-width="3.1"/>
<circle cx="889.9" cy="1082.0" r="11.7" fill="#fff" stroke="#000" stroke-width="3.1"/>
<circle cx="903.9" cy="1066.9" r="11.7" fill="#fff" stroke="#000" stroke-width="3.1"/>
<circle cx="917.2" cy="1073.6" r="11.7" fill="#fff" stroke="#000" stroke-width="3.1"/>
<circle cx="932.2" cy="1066.9" r="11.7" fill="#fff" stroke="#000" stroke-width="3.1"/>
<line x1="622.8" y1="1063.0" x2="946.0" y2="1063.0" stroke="#000" stroke-width="3.5" stroke-dasharray="13.35 12.05"/>
<text x="904.7" y="1015.2" font-size="26" text-anchor="middle" stroke="#000">ns</text>
<line x1="878.8" y1="1025.9" x2="929.9" y2="1025.9" stroke="#000" stroke-width="4.5"/>
<line x1="616.8" y1="901.9" x2="616.8" y2="1143.5" stroke="#000" stroke-width="3"/>
<line x1="616.8" y1="905.0" x2="629.8" y2="905.0" stroke="#000" stroke-width="3"/>
<line x1="616.8" y1="984.2" x2="629.8" y2="984.2" stroke="#000" stroke-width="3"/>
<line x1="616.8" y1="1063.0" x2="629.8" y2="1063.0" stroke="#000" stroke-width="3"/>
<text x="606.0" y="914.0" font-size="26" text-anchor="end" stroke="#000">3</text>
<text x="606.0" y="990.7" font-size="26" text-anchor="end" stroke="#000">2</text>
<text x="606.0" y="1070.1" font-size="26" text-anchor="end" stroke="#000">1</text>
<text x="606.0" y="1149.3" font-size="26" text-anchor="end" stroke="#000">0</text>
<line x1="615.3" y1="1142.0" x2="960.5" y2="1142.0" stroke="#000" stroke-width="3"/>
<line x1="685.2" y1="1142.0" x2="685.2" y2="1129.0" stroke="#000" stroke-width="3"/>
<line x1="753.7" y1="1142.0" x2="753.7" y2="1129.0" stroke="#000" stroke-width="3"/>
<line x1="822.1" y1="1142.0" x2="822.1" y2="1129.0" stroke="#000" stroke-width="3"/>
<line x1="890.5" y1="1142.0" x2="890.5" y2="1129.0" stroke="#000" stroke-width="3"/>
<line x1="958.0" y1="1142.0" x2="958.0" y2="1129.0" stroke="#000" stroke-width="3"/>
<text x="608.5" y="1170.1" font-size="26" text-anchor="middle" stroke="#000">-5</text>
<text x="682.0" y="1170.1" font-size="26" text-anchor="middle" stroke="#000">0</text>
<text x="750.3" y="1170.1" font-size="26" text-anchor="middle" stroke="#000">5</text>
<text x="818.8" y="1170.1" font-size="26" text-anchor="middle" stroke="#000">10</text>
<text x="888.9" y="1170.1" font-size="26" text-anchor="middle" stroke="#000">15</text>
<text x="955.6" y="1170.1" font-size="26" text-anchor="middle" stroke="#000">20</text>
<text x="549.5" y="1023.5" font-size="26.5" text-anchor="middle" stroke="#000" transform="rotate(-90 549.5 1023.5)">Normalized</text>
<text x="581.2" y="1023.5" font-size="26.5" text-anchor="middle" stroke="#000" transform="rotate(-90 581.2 1023.5)">IPSC/EPSC</text>
<text x="792.0" y="1208.0" font-size="26.5" text-anchor="middle" stroke="#000">Time (min)</text>
<text x="1138.2" y="890.7" font-size="26.3" text-anchor="start" fill="#3196c8" stroke="#3196c8">PIL opto</text>
<line x1="1185.6" y1="899.4" x2="1185.6" y2="911.1" stroke="#2aa5df" stroke-width="3"/>
<polygon points="1176.6,910.1 1194.6,910.1 1185.6,945.1" fill="#2aa5df"/>
<line x1="1130.8" y1="1035.2" x2="1130.8" y2="1078.6" stroke="#000" stroke-width="2.8"/>
<line x1="1144.2" y1="1050.3" x2="1144.2" y2="1078.6" stroke="#000" stroke-width="2.8"/>
<line x1="1185.6" y1="1041.9" x2="1185.6" y2="1070.3" stroke="#000" stroke-width="2.8"/>
<line x1="1198.3" y1="1030.2" x2="1198.3" y2="1066.9" stroke="#000" stroke-width="2.8"/>
<line x1="1212.3" y1="1048.6" x2="1212.3" y2="1077.0" stroke="#000" stroke-width="2.8"/>
<line x1="1226.6" y1="1026.9" x2="1226.6" y2="1068.6" stroke="#000" stroke-width="2.8"/>
<line x1="1240.0" y1="1038.6" x2="1240.0" y2="1090.3" stroke="#000" stroke-width="2.8"/>
<line x1="1253.3" y1="1060.3" x2="1253.3" y2="1098.7" stroke="#000" stroke-width="2.8"/>
<line x1="1281.0" y1="1025.2" x2="1281.0" y2="1066.9" stroke="#000" stroke-width="2.8"/>
<line x1="1308.4" y1="1018.5" x2="1308.4" y2="1095.3" stroke="#000" stroke-width="2.8"/>
<line x1="1321.8" y1="1046.9" x2="1321.8" y2="1083.6" stroke="#000" stroke-width="2.8"/>
<line x1="1335.8" y1="1030.2" x2="1335.8" y2="1080.3" stroke="#000" stroke-width="2.8"/>
<line x1="1349.5" y1="1035.2" x2="1349.5" y2="1078.6" stroke="#000" stroke-width="2.8"/>
<line x1="1362.8" y1="1033.6" x2="1362.8" y2="1100.3" stroke="#000" stroke-width="2.8"/>
<line x1="1376.2" y1="1033.6" x2="1376.2" y2="1098.7" stroke="#000" stroke-width="2.8"/>
<line x1="1390.2" y1="1068.6" x2="1390.2" y2="1103.7" stroke="#000" stroke-width="2.8"/>
<line x1="1403.5" y1="1020.2" x2="1403.5" y2="1073.6" stroke="#000" stroke-width="2.8"/>
<line x1="1417.6" y1="1053.6" x2="1417.6" y2="1100.3" stroke="#000" stroke-width="2.8"/>
<line x1="1445.3" y1="1021.9" x2="1445.3" y2="1097.0" stroke="#000" stroke-width="2.8"/>
<line x1="1458.6" y1="1013.5" x2="1458.6" y2="1068.6" stroke="#000" stroke-width="2.8"/>
<circle cx="1130.8" cy="1056.9" r="11.7" fill="#fff" stroke="#000" stroke-width="3.1"/>
<circle cx="1144.2" cy="1063.6" r="11.7" fill="#fff" stroke="#000" stroke-width="3.1"/>
<circle cx="1157.5" cy="1061.9" r="11.7" fill="#fff" stroke="#000" stroke-width="3.1"/>
<circle cx="1171.6" cy="1076.3" r="11.7" fill="#fff" stroke="#000" stroke-width="3.1"/>
<circle cx="1185.6" cy="1055.3" r="11.7" fill="#fff" stroke="#000" stroke-width="3.1"/>
<circle cx="1198.3" cy="1048.6" r="11.7" fill="#fff" stroke="#000" stroke-width="3.1"/>
<circle cx="1212.3" cy="1062.9" r="11.7" fill="#fff" stroke="#000" stroke-width="3.1"/>
<circle cx="1226.6" cy="1048.6" r="11.7" fill="#fff" stroke="#000" stroke-width="3.1"/>
<circle cx="1240.0" cy="1064.3" r="11.7" fill="#fff" stroke="#000" stroke-width="3.1"/>
<circle cx="1253.3" cy="1077.0" r="11.7" fill="#fff" stroke="#000" stroke-width="3.1"/>
<circle cx="1266.7" cy="1070.3" r="11.7" fill="#fff" stroke="#000" stroke-width="3.1"/>
<circle cx="1281.0" cy="1050.3" r="11.7" fill="#fff" stroke="#000" stroke-width="3.1"/>
<circle cx="1294.4" cy="1071.9" r="11.7" fill="#fff" stroke="#000" stroke-width="3.1"/>
<circle cx="1308.4" cy="1056.9" r="11.7" fill="#fff" stroke="#000" stroke-width="3.1"/>
<circle cx="1321.8" cy="1061.9" r="11.7" fill="#fff" stroke="#000" stroke-width="3.1"/>
<circle cx="1335.8" cy="1053.6" r="11.7" fill="#fff" stroke="#000" stroke-width="3.1"/>
<circle cx="1349.5" cy="1056.9" r="11.7" fill="#fff" stroke="#000" stroke-width="3.1"/>
<circle cx="1362.8" cy="1066.3" r="11.7" fill="#fff" stroke="#000" stroke-width="3.1"/>
<circle cx="1376.2" cy="1066.9" r="11.7" fill="#fff" stroke="#000" stroke-width="3.1"/>
<circle cx="1390.2" cy="1082.0" r="11.7" fill="#fff" stroke="#000" stroke-width="3.1"/>
<circle cx="1403.5" cy="1048.6" r="11.7" fill="#fff" stroke="#000" stroke-width="3.1"/>
<circle cx="1417.6" cy="1073.0" r="11.7" fill="#fff" stroke="#000" stroke-width="3.1"/>
<circle cx="1431.2" cy="1060.3" r="11.7" fill="#fff" stroke="#000" stroke-width="3.1"/>
<circle cx="1445.3" cy="1059.6" r="11.7" fill="#fff" stroke="#000" stroke-width="3.1"/>
<circle cx="1458.6" cy="1041.2" r="11.7" fill="#fff" stroke="#000" stroke-width="3.1"/>
<line x1="1123.8" y1="1063.0" x2="1380.0" y2="1063.0" stroke="#000" stroke-width="3.5" stroke-dasharray="13.35 12.05"/>
<text x="1432.7" y="981.8" font-size="26" text-anchor="middle" stroke="#000">ns</text>
<line x1="1407.9" y1="991.2" x2="1458.6" y2="991.2" stroke="#000" stroke-width="4.5"/>
<line x1="1117.2" y1="901.9" x2="1117.2" y2="1142.9" stroke="#000" stroke-width="3"/>
<line x1="1117.2" y1="905.0" x2="1130.2" y2="905.0" stroke="#000" stroke-width="3"/>
<line x1="1117.2" y1="984.2" x2="1130.2" y2="984.2" stroke="#000" stroke-width="3"/>
<line x1="1117.2" y1="1063.0" x2="1130.2" y2="1063.0" stroke="#000" stroke-width="3"/>
<text x="1107.0" y="914.0" font-size="26" text-anchor="end" stroke="#000">3</text>
<text x="1107.0" y="992.8" font-size="26" text-anchor="end" stroke="#000">2</text>
<text x="1107.0" y="1070.9" font-size="26" text-anchor="end" stroke="#000">1</text>
<text x="1107.0" y="1149.3" font-size="26" text-anchor="end" stroke="#000">0</text>
<line x1="1115.7" y1="1141.4" x2="1461.1" y2="1141.4" stroke="#000" stroke-width="3"/>
<line x1="1185.6" y1="1141.4" x2="1185.6" y2="1128.4" stroke="#000" stroke-width="3"/>
<line x1="1254.0" y1="1141.4" x2="1254.0" y2="1128.4" stroke="#000" stroke-width="3"/>
<line x1="1321.8" y1="1141.4" x2="1321.8" y2="1128.4" stroke="#000" stroke-width="3"/>
<line x1="1390.9" y1="1141.4" x2="1390.9" y2="1128.4" stroke="#000" stroke-width="3"/>
<line x1="1458.6" y1="1141.4" x2="1458.6" y2="1128.4" stroke="#000" stroke-width="3"/>
<text x="1111.5" y="1168.4" font-size="26" text-anchor="middle" stroke="#000">-5</text>
<text x="1185.6" y="1168.4" font-size="26" text-anchor="middle" stroke="#000">0</text>
<text x="1254.0" y="1168.4" font-size="26" text-anchor="middle" stroke="#000">5</text>
<text x="1321.0" y="1168.4" font-size="26" text-anchor="middle" stroke="#000">10</text>
<text x="1391.9" y="1168.4" font-size="26" text-anchor="middle" stroke="#000">15</text>
<text x="1458.0" y="1168.4" font-size="26" text-anchor="middle" stroke="#000">20</text>
<text x="1045.9" y="1023.5" font-size="26.5" text-anchor="middle" stroke="#000" transform="rotate(-90 1045.9 1023.5)">Normalized</text>
<text x="1078.3" y="1023.5" font-size="26.5" text-anchor="middle" stroke="#000" transform="rotate(-90 1078.3 1023.5)">IPSC/EPSC</text>
<text x="1296.8" y="1207.0" font-size="26.5" text-anchor="middle" stroke="#000">Time (min)</text>
<text x="11.0" y="1282.0" font-size="48" text-anchor="start" stroke="#000" font-weight="bold">d</text>
<text x="466.0" y="1293.4" font-size="26.7" text-anchor="end" stroke="#000">OTA [1 µM]</text>
<rect x="156.9" y="1341.0" width="37.4" height="332.3" fill="#7cc3de"/>
<text x="131.0" y="1330.8" font-size="26.3" text-anchor="start" fill="#3196c8" stroke="#3196c8">PIL opto</text>
<line x1="94.0" y1="1415.9" x2="451.0" y2="1415.9" stroke="#000" stroke-width="3.5" stroke-dasharray="12.2 14.2"/>
<circle cx="100.1" cy="1393.6" r="6.7" fill="none" stroke="#000" stroke-width="3.6"/>
<circle cx="103.5" cy="1401.9" r="6.7" fill="none" stroke="#000" stroke-width="3.6"/>
<circle cx="106.8" cy="1390.2" r="6.7" fill="none" stroke="#000" stroke-width="3.6"/>
<circle cx="110.1" cy="1385.2" r="6.7" fill="none" stroke="#000" stroke-width="3.6"/>
<circle cx="113.5" cy="1376.9" r="6.7" fill="none" stroke="#000" stroke-width="3.6"/>
<circle cx="105.1" cy="1440.3" r="6.7" fill="none" stroke="#000" stroke-width="3.6"/>
<circle cx="115.2" cy="1438.6" r="6.7" fill="none" stroke="#000" stroke-width="3.6"/>
<circle cx="120.2" cy="1458.6" r="6.7" fill="none" stroke="#000" stroke-width="3.6"/>
<circle cx="121.8" cy="1440.3" r="6.7" fill="none" stroke="#000" stroke-width="3.6"/>
<circle cx="120.2" cy="1403.6" r="6.7" fill="none" stroke="#000" stroke-width="3.6"/>
<circle cx="123.5" cy="1406.9" r="6.7" fill="none" stroke="#000" stroke-width="3.6"/>
<circle cx="126.8" cy="1405.2" r="6.7" fill="none" stroke="#000" stroke-width="3.6"/>
<circle cx="131.8" cy="1401.9" r="6.7" fill="none" stroke="#000" stroke-width="3.6"/>
<circle cx="128.5" cy="1423.6" r="6.7" fill="none" stroke="#000" stroke-width="3.6"/>
<circle cx="133.5" cy="1363.5" r="6.7" fill="none" stroke="#000" stroke-width="3.6"/>
<circle cx="136.8" cy="1376.9" r="6.7" fill="none" stroke="#000" stroke-width="3.6"/>
<circle cx="140.2" cy="1383.5" r="6.7" fill="none" stroke="#000" stroke-width="3.6"/>
<circle cx="140.2" cy="1396.9" r="6.7" fill="none" stroke="#000" stroke-width="3.6"/>
<circle cx="136.8" cy="1430.3" r="6.7" fill="none" stroke="#000" stroke-width="3.6"/>
<circle cx="143.5" cy="1443.6" r="6.7" fill="none" stroke="#000" stroke-width="3.6"/>
<circle cx="145.2" cy="1450.3" r="6.7" fill="none" stroke="#000" stroke-width="3.6"/>
<circle cx="146.9" cy="1425.3" r="6.7" fill="none" stroke="#000" stroke-width="3.6"/>
<circle cx="148.5" cy="1396.9" r="6.7" fill="none" stroke="#000" stroke-width="3.6"/>
<circle cx="151.9" cy="1403.6" r="6.7" fill="none" stroke="#000" stroke-width="3.6"/>
<circle cx="155.2" cy="1401.9" r="6.7" fill="none" stroke="#000" stroke-width="3.6"/>
<circle cx="154.2" cy="1460.3" r="6.7" fill="none" stroke="#000" stroke-width="3.6"/>
<circle cx="158.5" cy="1477.0" r="6.7" fill="none" stroke="#000" stroke-width="3.6"/>
<circle cx="116.8" cy="1438.6" r="6.7" fill="none" stroke="#000" stroke-width="3.6"/>
<circle cx="130.2" cy="1430.3" r="6.7" fill="none" stroke="#000" stroke-width="3.6"/>
<circle cx="196.9" cy="1455.3" r="6.7" fill="none" stroke="#000" stroke-width="3.6"/>
<circle cx="200.3" cy="1488.7" r="6.7" fill="none" stroke="#000" stroke-width="3.6"/>
<circle cx="201.9" cy="1413.6" r="6.7" fill="none" stroke="#000" stroke-width="3.6"/>
<circle cx="205.3" cy="1416.9" r="6.7" fill="none" stroke="#000" stroke-width="3.6"/>
<circle cx="208.6" cy="1411.9" r="6.7" fill="none" stroke="#000" stroke-width="3.6"/>
<circle cx="206.9" cy="1443.6" r="6.7" fill="none" stroke="#000" stroke-width="3.6"/>
<circle cx="208.6" cy="1457.0" r="6.7" fill="none" stroke="#000" stroke-width="3.6"/>
<circle cx="213.6" cy="1452.0" r="6.7" fill="none" stroke="#000" stroke-width="3.6"/>
<circle cx="217.0" cy="1470.3" r="6.7" fill="none" stroke="#000" stroke-width="3.6"/>
<circle cx="220.3" cy="1405.2" r="6.7" fill="none" stroke="#000" stroke-width="3.6"/>
<circle cx="218.6" cy="1443.6" r="6.7" fill="none" stroke="#000" stroke-width="3.6"/>
<circle cx="223.6" cy="1426.9" r="6.7" fill="none" stroke="#000" stroke-width="3.6"/>
<circle cx="225.3" cy="1430.3" r="6.7" fill="none" stroke="#000" stroke-width="3.6"/>
<circle cx="228.6" cy="1470.3" r="6.7" fill="none" stroke="#000" stroke-width="3.6"/>
<circle cx="230.3" cy="1428.6" r="6.7" fill="none" stroke="#000" stroke-width="3.6"/>
<circle cx="233.6" cy="1450.3" r="6.7" fill="none" stroke="#000" stroke-width="3.6"/>
<circle cx="237.0" cy="1458.6" r="6.7" fill="none" stroke="#000" stroke-width="3.6"/>
<circle cx="240.3" cy="1463.6" r="6.7" fill="none" stroke="#000" stroke-width="3.6"/>
<circle cx="240.3" cy="1468.7" r="6.7" fill="none" stroke="#000" stroke-width="3.6"/>
<circle cx="243.7" cy="1408.6" r="6.7" fill="none" stroke="#000" stroke-width="3.6"/>
<circle cx="247.0" cy="1436.9" r="6.7" fill="none" stroke="#000" stroke-width="3.6"/>
<circle cx="250.3" cy="1438.6" r="6.7" fill="none" stroke="#000" stroke-width="3.6"/>
<circle cx="253.7" cy="1443.6" r="6.7" fill="none" stroke="#000" stroke-width="3.6"/>
<circle cx="257.0" cy="1448.6" r="6.7" fill="none" stroke="#000" stroke-width="3.6"/>
<circle cx="258.7" cy="1492.0" r="6.7" fill="none" stroke="#000" stroke-width="3.6"/>
<circle cx="258.7" cy="1512.0" r="6.7" fill="none" stroke="#000" stroke-width="3.6"/>
<circle cx="260.3" cy="1463.6" r="6.7" fill="none" stroke="#000" stroke-width="3.6"/>
<circle cx="265.4" cy="1460.3" r="6.7" fill="none" stroke="#000" stroke-width="3.6"/>
<circle cx="263.7" cy="1453.6" r="6.7" fill="none" stroke="#000" stroke-width="3.6"/>
<circle cx="267.0" cy="1413.6" r="6.7" fill="none" stroke="#000" stroke-width="3.6"/>
<circle cx="270.4" cy="1473.7" r="6.7" fill="none" stroke="#000" stroke-width="3.6"/>
<circle cx="272.0" cy="1487.0" r="6.7" fill="none" stroke="#000" stroke-width="3.6"/>
<circle cx="277.0" cy="1436.9" r="6.7" fill="none" stroke="#000" stroke-width="3.6"/>
<circle cx="277.0" cy="1431.9" r="6.7" fill="none" stroke="#000" stroke-width="3.6"/>
<circle cx="280.4" cy="1487.0" r="6.7" fill="none" stroke="#000" stroke-width="3.6"/>
<circle cx="282.0" cy="1470.3" r="6.7" fill="none" stroke="#000" stroke-width="3.6"/>
<circle cx="285.4" cy="1465.3" r="6.7" fill="none" stroke="#000" stroke-width="3.6"/>
<circle cx="285.4" cy="1492.0" r="6.7" fill="none" stroke="#000" stroke-width="3.6"/>
<circle cx="288.7" cy="1440.3" r="6.7" fill="none" stroke="#000" stroke-width="3.6"/>
<circle cx="290.4" cy="1493.7" r="6.7" fill="none" stroke="#000" stroke-width="3.6"/>
<circle cx="293.7" cy="1436.9" r="6.7" fill="none" stroke="#000" stroke-width="3.6"/>
<circle cx="297.1" cy="1443.6" r="6.7" fill="none" stroke="#000" stroke-width="3.6"/>
<circle cx="298.7" cy="1365.2" r="6.7" fill="none" stroke="#000" stroke-width="3.6"/>
<circle cx="300.4" cy="1447.0" r="6.7" fill="none" stroke="#000" stroke-width="3.6"/>
<circle cx="302.1" cy="1438.6" r="6.7" fill="none" stroke="#000" stroke-width="3.6"/>
<circle cx="303.7" cy="1440.3" r="6.7" fill="none" stroke="#000" stroke-width="3.6"/>
<circle cx="307.1" cy="1463.6" r="6.7" fill="none" stroke="#000" stroke-width="3.6"/>
<circle cx="308.7" cy="1430.3" r="6.7" fill="none" stroke="#000" stroke-width="3.6"/>
<circle cx="310.4" cy="1495.4" r="6.7" fill="none" stroke="#000" stroke-width="3.6"/>
<circle cx="312.1" cy="1520.4" r="6.7" fill="none" stroke="#000" stroke-width="3.6"/>
<circle cx="313.8" cy="1465.3" r="6.7" fill="none" stroke="#000" stroke-width="3.6"/>
<circle cx="317.1" cy="1460.3" r="6.7" fill="none" stroke="#000" stroke-width="3.6"/>
<circle cx="318.8" cy="1457.0" r="6.7" fill="none" stroke="#000" stroke-width="3.6"/>
<circle cx="322.1" cy="1452.0" r="6.7" fill="none" stroke="#000" stroke-width="3.6"/>
<circle cx="322.1" cy="1508.7" r="6.7" fill="none" stroke="#000" stroke-width="3.6"/>
<circle cx="323.8" cy="1490.3" r="6.7" fill="none" stroke="#000" stroke-width="3.6"/>
<circle cx="325.4" cy="1497.0" r="6.7" fill="none" stroke="#000" stroke-width="3.6"/>
<circle cx="328.8" cy="1470.3" r="6.7" fill="none" stroke="#000" stroke-width="3.6"/>
<circle cx="332.1" cy="1487.0" r="6.7" fill="none" stroke="#000" stroke-width="3.6"/>
<circle cx="335.4" cy="1436.9" r="6.7" fill="none" stroke="#000" stroke-width="3.6"/>
<circle cx="337.1" cy="1450.3" r="6.7" fill="none" stroke="#000" stroke-width="3.6"/>
<circle cx="340.5" cy="1512.0" r="6.7" fill="none" stroke="#000" stroke-width="3.6"/>
<circle cx="343.8" cy="1385.2" r="6.7" fill="none" stroke="#000" stroke-width="3.6"/>
<circle cx="345.5" cy="1436.9" r="6.7" fill="none" stroke="#000" stroke-width="3.6"/>
<circle cx="347.1" cy="1472.0" r="6.7" fill="none" stroke="#000" stroke-width="3.6"/>
<circle cx="350.5" cy="1482.0" r="6.7" fill="none" stroke="#000" stroke-width="3.6"/>
<circle cx="353.8" cy="1445.3" r="6.7" fill="none" stroke="#000" stroke-width="3.6"/>
<circle cx="352.1" cy="1515.4" r="6.7" fill="none" stroke="#000" stroke-width="3.6"/>
<circle cx="355.5" cy="1482.0" r="6.7" fill="none" stroke="#000" stroke-width="3.6"/>
<circle cx="358.8" cy="1457.0" r="6.7" fill="none" stroke="#000" stroke-width="3.6"/>
<circle cx="360.5" cy="1508.7" r="6.7" fill="none" stroke="#000" stroke-width="3.6"/>
<circle cx="362.1" cy="1488.7" r="6.7" fill="none" stroke="#000" stroke-width="3.6"/>
<circle cx="363.8" cy="1472.0" r="6.7" fill="none" stroke="#000" stroke-width="3.6"/>
<circle cx="365.5" cy="1515.4" r="6.7" fill="none" stroke="#000" stroke-width="3.6"/>
<circle cx="368.8" cy="1512.0" r="6.7" fill="none" stroke="#000" stroke-width="3.6"/>
<circle cx="370.5" cy="1421.9" r="6.7" fill="none" stroke="#000" stroke-width="3.6"/>
<circle cx="372.2" cy="1460.3" r="6.7" fill="none" stroke="#000" stroke-width="3.6"/>
<circle cx="373.8" cy="1458.6" r="6.7" fill="none" stroke="#000" stroke-width="3.6"/>
<circle cx="375.5" cy="1478.7" r="6.7" fill="none" stroke="#000" stroke-width="3.6"/>
<circle cx="377.2" cy="1523.7" r="6.7" fill="none" stroke="#000" stroke-width="3.6"/>
<circle cx="380.5" cy="1438.6" r="6.7" fill="none" stroke="#000" stroke-width="3.6"/>
<circle cx="382.2" cy="1458.6" r="6.7" fill="none" stroke="#000" stroke-width="3.6"/>
<circle cx="383.8" cy="1405.2" r="6.7" fill="none" stroke="#000" stroke-width="3.6"/>
<circle cx="387.2" cy="1535.4" r="6.7" fill="none" stroke="#000" stroke-width="3.6"/>
<circle cx="388.9" cy="1510.4" r="6.7" fill="none" stroke="#000" stroke-width="3.6"/>
<circle cx="390.5" cy="1483.7" r="6.7" fill="none" stroke="#000" stroke-width="3.6"/>
<circle cx="392.2" cy="1475.3" r="6.7" fill="none" stroke="#000" stroke-width="3.6"/>
<circle cx="393.9" cy="1500.4" r="6.7" fill="none" stroke="#000" stroke-width="3.6"/>
<circle cx="395.5" cy="1436.9" r="6.7" fill="none" stroke="#000" stroke-width="3.6"/>
<circle cx="397.2" cy="1490.3" r="6.7" fill="none" stroke="#000" stroke-width="3.6"/>
<circle cx="398.9" cy="1510.4" r="6.7" fill="none" stroke="#000" stroke-width="3.6"/>
<circle cx="400.5" cy="1517.0" r="6.7" fill="none" stroke="#000" stroke-width="3.6"/>
<circle cx="402.2" cy="1475.3" r="6.7" fill="none" stroke="#000" stroke-width="3.6"/>
<circle cx="403.9" cy="1505.4" r="6.7" fill="none" stroke="#000" stroke-width="3.6"/>
<circle cx="405.5" cy="1390.2" r="6.7" fill="none" stroke="#000" stroke-width="3.6"/>
<circle cx="410.5" cy="1460.3" r="6.7" fill="none" stroke="#000" stroke-width="3.6"/>
<circle cx="412.2" cy="1478.7" r="6.7" fill="none" stroke="#000" stroke-width="3.6"/>
<circle cx="413.9" cy="1396.9" r="6.7" fill="none" stroke="#000" stroke-width="3.6"/>
<circle cx="415.6" cy="1518.7" r="6.7" fill="none" stroke="#000" stroke-width="3.6"/>
<circle cx="417.2" cy="1500.4" r="6.7" fill="none" stroke="#000" stroke-width="3.6"/>
<circle cx="420.6" cy="1497.0" r="6.7" fill="none" stroke="#000" stroke-width="3.6"/>
<circle cx="422.2" cy="1475.3" r="6.7" fill="none" stroke="#000" stroke-width="3.6"/>
<circle cx="425.6" cy="1463.6" r="6.7" fill="none" stroke="#000" stroke-width="3.6"/>
<circle cx="427.2" cy="1528.7" r="6.7" fill="none" stroke="#000" stroke-width="3.6"/>
<circle cx="428.9" cy="1450.3" r="6.7" fill="none" stroke="#000" stroke-width="3.6"/>
<circle cx="430.6" cy="1497.0" r="6.7" fill="none" stroke="#000" stroke-width="3.6"/>
<circle cx="435.6" cy="1488.7" r="6.7" fill="none" stroke="#000" stroke-width="3.6"/>
<circle cx="437.2" cy="1503.7" r="6.7" fill="none" stroke="#000" stroke-width="3.6"/>
<circle cx="438.9" cy="1450.3" r="6.7" fill="none" stroke="#000" stroke-width="3.6"/>
<circle cx="440.6" cy="1498.7" r="6.7" fill="none" stroke="#000" stroke-width="3.6"/>
<circle cx="443.9" cy="1505.4" r="6.7" fill="none" stroke="#000" stroke-width="3.6"/>
<circle cx="445.6" cy="1490.3" r="6.7" fill="none" stroke="#000" stroke-width="3.6"/>
<circle cx="447.3" cy="1488.7" r="6.7" fill="none" stroke="#000" stroke-width="3.6"/>
<line x1="95.1" y1="1415.9" x2="156.9" y2="1415.9" stroke="#e8141b" stroke-width="6.5"/>
<line x1="387.2" y1="1480.3" x2="449.0" y2="1480.3" stroke="#e8141b" stroke-width="7"/>
<text x="416.5" y="1359.0" font-size="45" text-anchor="middle" stroke="#000" font-weight="bold">**</text>
<line x1="391.2" y1="1349.2" x2="442.3" y2="1349.2" stroke="#000" stroke-width="4.5"/>
<line x1="95.1" y1="1342.0" x2="95.1" y2="1581.3" stroke="#000" stroke-width="3"/>
<line x1="95.1" y1="1343.5" x2="108.1" y2="1343.5" stroke="#000" stroke-width="3"/>
<line x1="95.1" y1="1421.9" x2="108.1" y2="1421.9" stroke="#000" stroke-width="3"/>
<line x1="95.1" y1="1501.0" x2="108.1" y2="1501.0" stroke="#000" stroke-width="3"/>
<text x="86.0" y="1352.3" font-size="26" text-anchor="end" stroke="#000">150</text>
<text x="86.0" y="1430.9" font-size="26" text-anchor="end" stroke="#000">100</text>
<text x="86.0" y="1509.3" font-size="26" text-anchor="end" stroke="#000">50</text>
<text x="86.0" y="1587.8" font-size="26" text-anchor="end" stroke="#000">0</text>
<line x1="93.6" y1="1579.8" x2="452.8" y2="1579.8" stroke="#000" stroke-width="3"/>
<line x1="156.9" y1="1579.8" x2="156.9" y2="1566.8" stroke="#000" stroke-width="3"/>
<line x1="194.3" y1="1579.8" x2="194.3" y2="1566.8" stroke="#000" stroke-width="3"/>
<line x1="258.7" y1="1579.8" x2="258.7" y2="1566.8" stroke="#000" stroke-width="3"/>
<line x1="322.1" y1="1579.8" x2="322.1" y2="1566.8" stroke="#000" stroke-width="3"/>
<line x1="387.2" y1="1579.8" x2="387.2" y2="1566.8" stroke="#000" stroke-width="3"/>
<line x1="449.9" y1="1579.8" x2="449.9" y2="1566.8" stroke="#000" stroke-width="3"/>
<text x="36.2" y="1452.8" font-size="26.5" text-anchor="middle" stroke="#000" transform="rotate(-90 36.2 1452.8)">IPSC (pA)</text>
<line x1="173.6" y1="1623.9" x2="185.2" y2="1623.9" stroke="#000" stroke-width="3.5" stroke-dasharray="13 14"/>
<polyline points="100.0,1624.0 130.0,1623.5 158.0,1624.0" fill="none" stroke="#000" stroke-width="9.2" stroke-linecap="round" stroke-linejoin="round"/>
<path d="M94.2,1623.1a5.8,5.8 0 1,0 11.6,0a5.8,5.8 0 1,0 -11.6,0M96.8,1624.8a5.8,5.8 0 1,0 11.6,0a5.8,5.8 0 1,0 -11.6,0M99.4,1624.5a5.8,5.8 0 1,0 11.6,0a5.8,5.8 0 1,0 -11.6,0M102.0,1623.3a5.8,5.8 0 1,0 11.6,0a5.8,5.8 0 1,0 -11.6,0M104.6,1623.8a5.8,5.8 0 1,0 11.6,0a5.8,5.8 0 1,0 -11.6,0M107.2,1623.7a5.8,5.8 0 1,0 11.6,0a5.8,5.8 0 1,0 -11.6,0M109.8,1624.1a5.8,5.8 0 1,0 11.6,0a5.8,5.8 0 1,0 -11.6,0M112.4,1624.4a5.8,5.8 0 1,0 11.6,0a5.8,5.8 0 1,0 -11.6,0M115.0,1622.7a5.8,5.8 0 1,0 11.6,0a5.8,5.8 0 1,0 -11.6,0M117.6,1622.5a5.8,5.8 0 1,0 11.6,0a5.8,5.8 0 1,0 -11.6,0M120.2,1624.4a5.8,5.8 0 1,0 11.6,0a5.8,5.8 0 1,0 -11.6,0M122.8,1623.4a5.8,5.8 0 1,0 11.6,0a5.8,5.8 0 1,0 -11.6,0M125.4,1624.2a5.8,5.8 0 1,0 11.6,0a5.8,5.8 0 1,0 -11.6,0M128.0,1622.4a5.8,5.8 0 1,0 11.6,0a5.8,5.8 0 1,0 -11.6,0M130.6,1623.5a5.8,5.8 0 1,0 11.6,0a5.8,5.8 0 1,0 -11.6,0M133.2,1624.2a5.8,5.8 0 1,0 11.6,0a5.8,5.8 0 1,0 -11.6,0M135.8,1623.1a5.8,5.8 0 1,0 11.6,0a5.8,5.8 0 1,0 -11.6,0M138.4,1624.8a5.8,5.8 0 1,0 11.6,0a5.8,5.8 0 1,0 -11.6,0M141.0,1624.8a5.8,5.8 0 1,0 11.6,0a5.8,5.8 0 1,0 -11.6,0M143.6,1622.7a5.8,5.8 0 1,0 11.6,0a5.8,5.8 0 1,0 -11.6,0M146.2,1622.8a5.8,5.8 0 1,0 11.6,0a5.8,5.8 0 1,0 -11.6,0M148.8,1624.0a5.8,5.8 0 1,0 11.6,0a5.8,5.8 0 1,0 -11.6,0M151.4,1625.0a5.8,5.8 0 1,0 11.6,0a5.8,5.8 0 1,0 -11.6,0" fill="#000"/>
<polyline points="200.0,1623.5 230.0,1623.0 255.0,1624.0 270.0,1627.0 290.0,1629.0 330.0,1629.5 370.0,1629.0 410.0,1628.5 445.0,1628.5" fill="none" stroke="#000" stroke-width="9.2" stroke-linecap="round" stroke-linejoin="round"/>
<path d="M194.2,1624.6a5.8,5.8 0 1,0 11.6,0a5.8,5.8 0 1,0 -11.6,0M196.8,1624.5a5.8,5.8 0 1,0 11.6,0a5.8,5.8 0 1,0 -11.6,0M199.4,1622.3a5.8,5.8 0 1,0 11.6,0a5.8,5.8 0 1,0 -11.6,0M202.0,1622.4a5.8,5.8 0 1,0 11.6,0a5.8,5.8 0 1,0 -11.6,0M204.6,1624.1a5.8,5.8 0 1,0 11.6,0a5.8,5.8 0 1,0 -11.6,0M207.2,1623.8a5.8,5.8 0 1,0 11.6,0a5.8,5.8 0 1,0 -11.6,0M209.8,1623.6a5.8,5.8 0 1,0 11.6,0a5.8,5.8 0 1,0 -11.6,0M212.4,1622.7a5.8,5.8 0 1,0 11.6,0a5.8,5.8 0 1,0 -11.6,0M215.0,1623.4a5.8,5.8 0 1,0 11.6,0a5.8,5.8 0 1,0 -11.6,0M217.6,1623.4a5.8,5.8 0 1,0 11.6,0a5.8,5.8 0 1,0 -11.6,0M220.2,1623.3a5.8,5.8 0 1,0 11.6,0a5.8,5.8 0 1,0 -11.6,0M222.8,1622.2a5.8,5.8 0 1,0 11.6,0a5.8,5.8 0 1,0 -11.6,0M225.4,1622.9a5.8,5.8 0 1,0 11.6,0a5.8,5.8 0 1,0 -11.6,0M228.0,1622.9a5.8,5.8 0 1,0 11.6,0a5.8,5.8 0 1,0 -11.6,0M230.6,1623.8a5.8,5.8 0 1,0 11.6,0a5.8,5.8 0 1,0 -11.6,0M233.2,1624.5a5.8,5.8 0 1,0 11.6,0a5.8,5.8 0 1,0 -11.6,0M235.8,1624.5a5.8,5.8 0 1,0 11.6,0a5.8,5.8 0 1,0 -11.6,0M238.4,1623.7a5.8,5.8 0 1,0 11.6,0a5.8,5.8 0 1,0 -11.6,0M241.0,1623.5a5.8,5.8 0 1,0 11.6,0a5.8,5.8 0 1,0 -11.6,0M243.6,1623.2a5.8,5.8 0 1,0 11.6,0a5.8,5.8 0 1,0 -11.6,0M246.2,1622.8a5.8,5.8 0 1,0 11.6,0a5.8,5.8 0 1,0 -11.6,0M248.8,1622.8a5.8,5.8 0 1,0 11.6,0a5.8,5.8 0 1,0 -11.6,0M251.4,1624.4a5.8,5.8 0 1,0 11.6,0a5.8,5.8 0 1,0 -11.6,0M254.0,1624.5a5.8,5.8 0 1,0 11.6,0a5.8,5.8 0 1,0 -11.6,0M256.6,1625.2a5.8,5.8 0 1,0 11.6,0a5.8,5.8 0 1,0 -11.6,0M259.2,1626.9a5.8,5.8 0 1,0 11.6,0a5.8,5.8 0 1,0 -11.6,0M261.8,1626.6a5.8,5.8 0 1,0 11.6,0a5.8,5.8 0 1,0 -11.6,0M264.4,1627.2a5.8,5.8 0 1,0 11.6,0a5.8,5.8 0 1,0 -11.6,0M267.0,1626.6a5.8,5.8 0 1,0 11.6,0a5.8,5.8 0 1,0 -11.6,0M269.6,1626.4a5.8,5.8 0 1,0 11.6,0a5.8,5.8 0 1,0 -11.6,0M272.2,1627.4a5.8,5.8 0 1,0 11.6,0a5.8,5.8 0 1,0 -11.6,0M274.8,1627.2a5.8,5.8 0 1,0 11.6,0a5.8,5.8 0 1,0 -11.6,0M277.4,1628.3a5.8,5.8 0 1,0 11.6,0a5.8,5.8 0 1,0 -11.6,0M280.0,1629.8a5.8,5.8 0 1,0 11.6,0a5.8,5.8 0 1,0 -11.6,0M282.6,1629.3a5.8,5.8 0 1,0 11.6,0a5.8,5.8 0 1,0 -11.6,0M285.2,1628.2a5.8,5.8 0 1,0 11.6,0a5.8,5.8 0 1,0 -11.6,0M287.8,1630.0a5.8,5.8 0 1,0 11.6,0a5.8,5.8 0 1,0 -11.6,0M290.4,1629.8a5.8,5.8 0 1,0 11.6,0a5.8,5.8 0 1,0 -11.6,0M293.0,1629.7a5.8,5.8 0 1,0 11.6,0a5.8,5.8 0 1,0 -11.6,0M295.6,1630.1a5.8,5.8 0 1,0 11.6,0a5.8,5.8 0 1,0 -11.6,0M298.2,1629.8a5.8,5.8 0 1,0 11.6,0a5.8,5.8 0 1,0 -11.6,0M300.8,1629.9a5.8,5.8 0 1,0 11.6,0a5.8,5.8 0 1,0 -11.6,0M303.4,1628.9a5.8,5.8 0 1,0 11.6,0a5.8,5.8 0 1,0 -11.6,0M306.0,1630.4a5.8,5.8 0 1,0 11.6,0a5.8,5.8 0 1,0 -11.6,0M308.6,1630.4a5.8,5.8 0 1,0 11.6,0a5.8,5.8 0 1,0 -11.6,0M311.2,1628.5a5.8,5.8 0 1,0 11.6,0a5.8,5.8 0 1,0 -11.6,0M313.8,1630.0a5.8,5.8 0 1,0 11.6,0a5.8,5.8 0 1,0 -11.6,0M316.4,1629.9a5.8,5.8 0 1,0 11.6,0a5.8,5.8 0 1,0 -11.6,0M319.0,1629.3a5.8,5.8 0 1,0 11.6,0a5.8,5.8 0 1,0 -11.6,0M321.6,1629.5a5.8,5.8 0 1,0 11.6,0a5.8,5.8 0 1,0 -11.6,0M324.2,1629.5a5.8,5.8 0 1,0 11.6,0a5.8,5.8 0 1,0 -11.6,0M326.8,1630.5a5.8,5.8 0 1,0 11.6,0a5.8,5.8 0 1,0 -11.6,0M329.4,1629.4a5.8,5.8 0 1,0 11.6,0a5.8,5.8 0 1,0 -11.6,0M332.0,1630.2a5.8,5.8 0 1,0 11.6,0a5.8,5.8 0 1,0 -11.6,0M334.6,1629.0a5.8,5.8 0 1,0 11.6,0a5.8,5.8 0 1,0 -11.6,0M337.2,1630.3a5.8,5.8 0 1,0 11.6,0a5.8,5.8 0 1,0 -11.6,0M339.8,1630.3a5.8,5.8 0 1,0 11.6,0a5.8,5.8 0 1,0 -11.6,0M342.4,1629.2a5.8,5.8 0 1,0 11.6,0a5.8,5.8 0 1,0 -11.6,0M345.0,1629.4a5.8,5.8 0 1,0 11.6,0a5.8,5.8 0 1,0 -11.6,0M347.6,1630.2a5.8,5.8 0 1,0 11.6,0a5.8,5.8 0 1,0 -11.6,0M350.2,1629.7a5.8,5.8 0 1,0 11.6,0a5.8,5.8 0 1,0 -11.6,0M352.8,1629.1a5.8,5.8 0 1,0 11.6,0a5.8,5.8 0 1,0 -11.6,0M355.4,1628.4a5.8,5.8 0 1,0 11.6,0a5.8,5.8 0 1,0 -11.6,0M358.0,1628.7a5.8,5.8 0 1,0 11.6,0a5.8,5.8 0 1,0 -11.6,0M360.6,1629.5a5.8,5.8 0 1,0 11.6,0a5.8,5.8 0 1,0 -11.6,0M363.2,1628.2a5.8,5.8 0 1,0 11.6,0a5.8,5.8 0 1,0 -11.6,0M365.8,1630.0a5.8,5.8 0 1,0 11.6,0a5.8,5.8 0 1,0 -11.6,0M368.4,1628.4a5.8,5.8 0 1,0 11.6,0a5.8,5.8 0 1,0 -11.6,0M371.0,1629.9a5.8,5.8 0 1,0 11.6,0a5.8,5.8 0 1,0 -11.6,0M373.6,1628.4a5.8,5.8 0 1,0 11.6,0a5.8,5.8 0 1,0 -11.6,0M376.2,1629.9a5.8,5.8 0 1,0 11.6,0a5.8,5.8 0 1,0 -11.6,0M378.8,1629.3a5.8,5.8 0 1,0 11.6,0a5.8,5.8 0 1,0 -11.6,0M381.4,1628.8a5.8,5.8 0 1,0 11.6,0a5.8,5.8 0 1,0 -11.6,0M384.0,1628.8a5.8,5.8 0 1,0 11.6,0a5.8,5.8 0 1,0 -11.6,0M386.6,1629.1a5.8,5.8 0 1,0 11.6,0a5.8,5.8 0 1,0 -11.6,0M389.2,1628.9a5.8,5.8 0 1,0 11.6,0a5.8,5.8 0 1,0 -11.6,0M391.8,1628.2a5.8,5.8 0 1,0 11.6,0a5.8,5.8 0 1,0 -11.6,0M394.4,1627.9a5.8,5.8 0 1,0 11.6,0a5.8,5.8 0 1,0 -11.6,0M397.0,1628.6a5.8,5.8 0 1,0 11.6,0a5.8,5.8 0 1,0 -11.6,0M399.6,1629.6a5.8,5.8 0 1,0 11.6,0a5.8,5.8 0 1,0 -11.6,0M402.2,1628.8a5.8,5.8 0 1,0 11.6,0a5.8,5.8 0 1,0 -11.6,0M404.8,1627.5a5.8,5.8 0 1,0 11.6,0a5.8,5.8 0 1,0 -11.6,0M407.4,1629.3a5.8,5.8 0 1,0 11.6,0a5.8,5.8 0 1,0 -11.6,0M410.0,1629.0a5.8,5.8 0 1,0 11.6,0a5.8,5.8 0 1,0 -11.6,0M412.6,1629.5a5.8,5.8 0 1,0 11.6,0a5.8,5.8 0 1,0 -11.6,0M415.2,1627.8a5.8,5.8 0 1,0 11.6,0a5.8,5.8 0 1,0 -11.6,0M417.8,1629.1a5.8,5.8 0 1,0 11.6,0a5.8,5.8 0 1,0 -11.6,0M420.4,1627.4a5.8,5.8 0 1,0 11.6,0a5.8,5.8 0 1,0 -11.6,0M423.0,1628.9a5.8,5.8 0 1,0 11.6,0a5.8,5.8 0 1,0 -11.6,0M425.6,1628.0a5.8,5.8 0 1,0 11.6,0a5.8,5.8 0 1,0 -11.6,0M428.2,1627.8a5.8,5.8 0 1,0 11.6,0a5.8,5.8 0 1,0 -11.6,0M430.8,1629.4a5.8,5.8 0 1,0 11.6,0a5.8,5.8 0 1,0 -11.6,0M433.4,1627.6a5.8,5.8 0 1,0 11.6,0a5.8,5.8 0 1,0 -11.6,0M436.0,1628.6a5.8,5.8 0 1,0 11.6,0a5.8,5.8 0 1,0 -11.6,0M438.6,1629.3a5.8,5.8 0 1,0 11.6,0a5.8,5.8 0 1,0 -11.6,0" fill="#000"/>
<line x1="95.1" y1="1599.0" x2="95.1" y2="1674.8" stroke="#000" stroke-width="3"/>
<line x1="95.1" y1="1601.0" x2="108.1" y2="1601.0" stroke="#000" stroke-width="3"/>
<line x1="95.1" y1="1625.0" x2="108.1" y2="1625.0" stroke="#000" stroke-width="3"/>
<line x1="95.1" y1="1648.9" x2="108.1" y2="1648.9" stroke="#000" stroke-width="3"/>
<text x="86.0" y="1637.8" font-size="26" text-anchor="end" stroke="#000">20</text>
<text x="86.0" y="1682.9" font-size="26" text-anchor="end" stroke="#000">0</text>
<line x1="93.6" y1="1673.3" x2="452.8" y2="1673.3" stroke="#000" stroke-width="3"/>
<line x1="156.9" y1="1673.3" x2="156.9" y2="1660.3" stroke="#000" stroke-width="3"/>
<line x1="194.3" y1="1673.3" x2="194.3" y2="1660.3" stroke="#000" stroke-width="3"/>
<line x1="258.7" y1="1673.3" x2="258.7" y2="1660.3" stroke="#000" stroke-width="3"/>
<line x1="322.1" y1="1673.3" x2="322.1" y2="1660.3" stroke="#000" stroke-width="3"/>
<line x1="387.2" y1="1673.3" x2="387.2" y2="1660.3" stroke="#000" stroke-width="3"/>
<line x1="449.9" y1="1673.3" x2="449.9" y2="1660.3" stroke="#000" stroke-width="3"/>
<text x="101.8" y="1698.1" font-size="26" text-anchor="middle" stroke="#000">-5</text>
<text x="195.3" y="1698.1" font-size="26" text-anchor="middle" stroke="#000">0</text>
<text x="257.7" y="1698.1" font-size="26" text-anchor="middle" stroke="#000">5</text>
<text x="323.1" y="1698.1" font-size="26" text-anchor="middle" stroke="#000">10</text>
<text x="388.9" y="1698.1" font-size="26" text-anchor="middle" stroke="#000">15</text>
<text x="450.6" y="1698.1" font-size="26" text-anchor="middle" stroke="#000">20</text>
<text x="36.2" y="1637.0" font-size="26.5" text-anchor="middle" stroke="#000" transform="rotate(-90 36.2 1637.0)">Ra (MΩ)</text>
<text x="272.9" y="1730.7" font-size="26.5" text-anchor="middle" stroke="#000">Time (min)</text>
<text x="506.0" y="1282.0" font-size="48" text-anchor="start" stroke="#000" font-weight="bold">e</text>
<text x="763.7" y="1262.7" font-size="26.2" text-anchor="start" stroke="#000">i-Dynamin</text>
<text x="763.7" y="1294.0" font-size="26.2" text-anchor="start" stroke="#000">inhibitor [1.5 mM]</text>
<rect x="658.5" y="1341.1" width="37.8" height="332.2" fill="#7cc3de"/>
<text x="633.0" y="1331.8" font-size="26.3" text-anchor="start" fill="#3196c8" stroke="#3196c8">PIL opto</text>
<line x1="596.0" y1="1486.3" x2="952.0" y2="1486.3" stroke="#000" stroke-width="3.5" stroke-dasharray="12.2 14.2"/>
<circle cx="598.5" cy="1447.0" r="6.7" fill="none" stroke="#000" stroke-width="3.6"/>
<circle cx="600.1" cy="1450.3" r="6.7" fill="none" stroke="#000" stroke-width="3.6"/>
<circle cx="596.8" cy="1510.4" r="6.7" fill="none" stroke="#000" stroke-width="3.6"/>
<circle cx="603.5" cy="1508.7" r="6.7" fill="none" stroke="#000" stroke-width="3.6"/>
<circle cx="605.1" cy="1457.0" r="6.7" fill="none" stroke="#000" stroke-width="3.6"/>
<circle cx="610.1" cy="1460.3" r="6.7" fill="none" stroke="#000" stroke-width="3.6"/>
<circle cx="613.5" cy="1452.0" r="6.7" fill="none" stroke="#000" stroke-width="3.6"/>
<circle cx="616.8" cy="1431.9" r="6.7" fill="none" stroke="#000" stroke-width="3.6"/>
<circle cx="611.8" cy="1483.7" r="6.7" fill="none" stroke="#000" stroke-width="3.6"/>
<circle cx="606.8" cy="1532.1" r="6.7" fill="none" stroke="#000" stroke-width="3.6"/>
<circle cx="616.8" cy="1533.7" r="6.7" fill="none" stroke="#000" stroke-width="3.6"/>
<circle cx="620.2" cy="1488.7" r="6.7" fill="none" stroke="#000" stroke-width="3.6"/>
<circle cx="621.8" cy="1470.3" r="6.7" fill="none" stroke="#000" stroke-width="3.6"/>
<circle cx="625.2" cy="1543.8" r="6.7" fill="none" stroke="#000" stroke-width="3.6"/>
<circle cx="626.8" cy="1460.3" r="6.7" fill="none" stroke="#000" stroke-width="3.6"/>
<circle cx="628.5" cy="1475.3" r="6.7" fill="none" stroke="#000" stroke-width="3.6"/>
<circle cx="628.5" cy="1510.4" r="6.7" fill="none" stroke="#000" stroke-width="3.6"/>
<circle cx="631.8" cy="1473.7" r="6.7" fill="none" stroke="#000" stroke-width="3.6"/>
<circle cx="633.5" cy="1483.7" r="6.7" fill="none" stroke="#000" stroke-width="3.6"/>
<circle cx="635.2" cy="1490.3" r="6.7" fill="none" stroke="#000" stroke-width="3.6"/>
<circle cx="636.8" cy="1487.0" r="6.7" fill="none" stroke="#000" stroke-width="3.6"/>
<circle cx="640.2" cy="1467.0" r="6.7" fill="none" stroke="#000" stroke-width="3.6"/>
<circle cx="641.9" cy="1548.8" r="6.7" fill="none" stroke="#000" stroke-width="3.6"/>
<circle cx="643.5" cy="1460.3" r="6.7" fill="none" stroke="#000" stroke-width="3.6"/>
<circle cx="645.2" cy="1520.4" r="6.7" fill="none" stroke="#000" stroke-width="3.6"/>
<circle cx="646.9" cy="1433.6" r="6.7" fill="none" stroke="#000" stroke-width="3.6"/>
<circle cx="648.5" cy="1477.0" r="6.7" fill="none" stroke="#000" stroke-width="3.6"/>
<circle cx="650.2" cy="1498.7" r="6.7" fill="none" stroke="#000" stroke-width="3.6"/>
<circle cx="651.9" cy="1472.0" r="6.7" fill="none" stroke="#000" stroke-width="3.6"/>
<circle cx="653.5" cy="1543.8" r="6.7" fill="none" stroke="#000" stroke-width="3.6"/>
<circle cx="655.2" cy="1458.6" r="6.7" fill="none" stroke="#000" stroke-width="3.6"/>
<circle cx="656.9" cy="1480.3" r="6.7" fill="none" stroke="#000" stroke-width="3.6"/>
<circle cx="660.2" cy="1482.0" r="6.7" fill="none" stroke="#000" stroke-width="3.6"/>
<circle cx="698.6" cy="1495.4" r="6.7" fill="none" stroke="#000" stroke-width="3.6"/>
<circle cx="700.3" cy="1497.0" r="6.7" fill="none" stroke="#000" stroke-width="3.6"/>
<circle cx="701.9" cy="1480.3" r="6.7" fill="none" stroke="#000" stroke-width="3.6"/>
<circle cx="703.6" cy="1478.7" r="6.7" fill="none" stroke="#000" stroke-width="3.6"/>
<circle cx="706.9" cy="1408.6" r="6.7" fill="none" stroke="#000" stroke-width="3.6"/>
<circle cx="708.6" cy="1477.0" r="6.7" fill="none" stroke="#000" stroke-width="3.6"/>
<circle cx="710.3" cy="1470.3" r="6.7" fill="none" stroke="#000" stroke-width="3.6"/>
<circle cx="713.6" cy="1431.9" r="6.7" fill="none" stroke="#000" stroke-width="3.6"/>
<circle cx="717.0" cy="1483.7" r="6.7" fill="none" stroke="#000" stroke-width="3.6"/>
<circle cx="718.6" cy="1415.2" r="6.7" fill="none" stroke="#000" stroke-width="3.6"/>
<circle cx="715.3" cy="1508.7" r="6.7" fill="none" stroke="#000" stroke-width="3.6"/>
<circle cx="720.3" cy="1552.1" r="6.7" fill="none" stroke="#000" stroke-width="3.6"/>
<circle cx="722.0" cy="1520.4" r="6.7" fill="none" stroke="#000" stroke-width="3.6"/>
<circle cx="723.6" cy="1507.0" r="6.7" fill="none" stroke="#000" stroke-width="3.6"/>
<circle cx="727.0" cy="1505.4" r="6.7" fill="none" stroke="#000" stroke-width="3.6"/>
<circle cx="728.6" cy="1455.3" r="6.7" fill="none" stroke="#000" stroke-width="3.6"/>
<circle cx="732.0" cy="1520.4" r="6.7" fill="none" stroke="#000" stroke-width="3.6"/>
<circle cx="733.6" cy="1523.7" r="6.7" fill="none" stroke="#000" stroke-width="3.6"/>
<circle cx="735.3" cy="1545.4" r="6.7" fill="none" stroke="#000" stroke-width="3.6"/>
<circle cx="737.0" cy="1467.0" r="6.7" fill="none" stroke="#000" stroke-width="3.6"/>
<circle cx="738.7" cy="1493.7" r="6.7" fill="none" stroke="#000" stroke-width="3.6"/>
<circle cx="742.0" cy="1487.0" r="6.7" fill="none" stroke="#000" stroke-width="3.6"/>
<circle cx="743.7" cy="1550.4" r="6.7" fill="none" stroke="#000" stroke-width="3.6"/>
<circle cx="745.3" cy="1505.4" r="6.7" fill="none" stroke="#000" stroke-width="3.6"/>
<circle cx="747.0" cy="1497.0" r="6.7" fill="none" stroke="#000" stroke-width="3.6"/>
<circle cx="748.7" cy="1490.3" r="6.7" fill="none" stroke="#000" stroke-width="3.6"/>
<circle cx="750.3" cy="1467.0" r="6.7" fill="none" stroke="#000" stroke-width="3.6"/>
<circle cx="753.7" cy="1552.1" r="6.7" fill="none" stroke="#000" stroke-width="3.6"/>
<circle cx="755.3" cy="1520.4" r="6.7" fill="none" stroke="#000" stroke-width="3.6"/>
<circle cx="757.0" cy="1468.7" r="6.7" fill="none" stroke="#000" stroke-width="3.6"/>
<circle cx="758.7" cy="1532.1" r="6.7" fill="none" stroke="#000" stroke-width="3.6"/>
<circle cx="760.3" cy="1492.0" r="6.7" fill="none" stroke="#000" stroke-width="3.6"/>
<circle cx="762.0" cy="1505.4" r="6.7" fill="none" stroke="#000" stroke-width="3.6"/>
<circle cx="763.7" cy="1510.4" r="6.7" fill="none" stroke="#000" stroke-width="3.6"/>
<circle cx="765.4" cy="1435.3" r="6.7" fill="none" stroke="#000" stroke-width="3.6"/>
<circle cx="767.0" cy="1508.7" r="6.7" fill="none" stroke="#000" stroke-width="3.6"/>
<circle cx="768.7" cy="1507.0" r="6.7" fill="none" stroke="#000" stroke-width="3.6"/>
<circle cx="770.4" cy="1525.4" r="6.7" fill="none" stroke="#000" stroke-width="3.6"/>
<circle cx="773.7" cy="1423.6" r="6.7" fill="none" stroke="#000" stroke-width="3.6"/>
<circle cx="777.0" cy="1472.0" r="6.7" fill="none" stroke="#000" stroke-width="3.6"/>
<circle cx="778.7" cy="1525.4" r="6.7" fill="none" stroke="#000" stroke-width="3.6"/>
<circle cx="780.4" cy="1470.3" r="6.7" fill="none" stroke="#000" stroke-width="3.6"/>
<circle cx="782.0" cy="1411.9" r="6.7" fill="none" stroke="#000" stroke-width="3.6"/>
<circle cx="783.7" cy="1477.0" r="6.7" fill="none" stroke="#000" stroke-width="3.6"/>
<circle cx="785.4" cy="1485.3" r="6.7" fill="none" stroke="#000" stroke-width="3.6"/>
<circle cx="787.0" cy="1497.0" r="6.7" fill="none" stroke="#000" stroke-width="3.6"/>
<circle cx="788.7" cy="1438.6" r="6.7" fill="none" stroke="#000" stroke-width="3.6"/>
<circle cx="790.4" cy="1495.4" r="6.7" fill="none" stroke="#000" stroke-width="3.6"/>
<circle cx="792.1" cy="1416.9" r="6.7" fill="none" stroke="#000" stroke-width="3.6"/>
<circle cx="793.7" cy="1493.7" r="6.7" fill="none" stroke="#000" stroke-width="3.6"/>
<circle cx="795.4" cy="1478.7" r="6.7" fill="none" stroke="#000" stroke-width="3.6"/>
<circle cx="797.1" cy="1487.0" r="6.7" fill="none" stroke="#000" stroke-width="3.6"/>
<circle cx="800.4" cy="1525.4" r="6.7" fill="none" stroke="#000" stroke-width="3.6"/>
<circle cx="802.1" cy="1527.1" r="6.7" fill="none" stroke="#000" stroke-width="3.6"/>
<circle cx="803.7" cy="1543.8" r="6.7" fill="none" stroke="#000" stroke-width="3.6"/>
<circle cx="805.4" cy="1490.3" r="6.7" fill="none" stroke="#000" stroke-width="3.6"/>
<circle cx="807.1" cy="1505.4" r="6.7" fill="none" stroke="#000" stroke-width="3.6"/>
<circle cx="810.4" cy="1396.9" r="6.7" fill="none" stroke="#000" stroke-width="3.6"/>
<circle cx="812.1" cy="1472.0" r="6.7" fill="none" stroke="#000" stroke-width="3.6"/>
<circle cx="813.8" cy="1550.4" r="6.7" fill="none" stroke="#000" stroke-width="3.6"/>
<circle cx="815.4" cy="1458.6" r="6.7" fill="none" stroke="#000" stroke-width="3.6"/>
<circle cx="817.1" cy="1548.8" r="6.7" fill="none" stroke="#000" stroke-width="3.6"/>
<circle cx="820.4" cy="1420.3" r="6.7" fill="none" stroke="#000" stroke-width="3.6"/>
<circle cx="822.1" cy="1517.0" r="6.7" fill="none" stroke="#000" stroke-width="3.6"/>
<circle cx="823.8" cy="1558.8" r="6.7" fill="none" stroke="#000" stroke-width="3.6"/>
<circle cx="825.4" cy="1455.3" r="6.7" fill="none" stroke="#000" stroke-width="3.6"/>
<circle cx="827.1" cy="1527.1" r="6.7" fill="none" stroke="#000" stroke-width="3.6"/>
<circle cx="828.8" cy="1463.6" r="6.7" fill="none" stroke="#000" stroke-width="3.6"/>
<circle cx="830.4" cy="1528.7" r="6.7" fill="none" stroke="#000" stroke-width="3.6"/>
<circle cx="833.8" cy="1567.1" r="6.7" fill="none" stroke="#000" stroke-width="3.6"/>
<circle cx="837.1" cy="1502.0" r="6.7" fill="none" stroke="#000" stroke-width="3.6"/>
<circle cx="838.8" cy="1487.0" r="6.7" fill="none" stroke="#000" stroke-width="3.6"/>
<circle cx="840.5" cy="1513.7" r="6.7" fill="none" stroke="#000" stroke-width="3.6"/>
<circle cx="842.1" cy="1560.4" r="6.7" fill="none" stroke="#000" stroke-width="3.6"/>
<circle cx="843.8" cy="1515.4" r="6.7" fill="none" stroke="#000" stroke-width="3.6"/>
<circle cx="845.5" cy="1517.0" r="6.7" fill="none" stroke="#000" stroke-width="3.6"/>
<circle cx="847.1" cy="1452.0" r="6.7" fill="none" stroke="#000" stroke-width="3.6"/>
<circle cx="850.5" cy="1517.0" r="6.7" fill="none" stroke="#000" stroke-width="3.6"/>
<circle cx="852.1" cy="1565.4" r="6.7" fill="none" stroke="#000" stroke-width="3.6"/>
<circle cx="853.8" cy="1545.4" r="6.7" fill="none" stroke="#000" stroke-width="3.6"/>
<circle cx="857.1" cy="1443.6" r="6.7" fill="none" stroke="#000" stroke-width="3.6"/>
<circle cx="860.5" cy="1508.7" r="6.7" fill="none" stroke="#000" stroke-width="3.6"/>
<circle cx="862.1" cy="1485.3" r="6.7" fill="none" stroke="#000" stroke-width="3.6"/>
<circle cx="863.8" cy="1475.3" r="6.7" fill="none" stroke="#000" stroke-width="3.6"/>
<circle cx="865.5" cy="1503.7" r="6.7" fill="none" stroke="#000" stroke-width="3.6"/>
<circle cx="867.2" cy="1517.0" r="6.7" fill="none" stroke="#000" stroke-width="3.6"/>
<circle cx="868.8" cy="1448.6" r="6.7" fill="none" stroke="#000" stroke-width="3.6"/>
<circle cx="870.5" cy="1523.7" r="6.7" fill="none" stroke="#000" stroke-width="3.6"/>
<circle cx="872.2" cy="1562.1" r="6.7" fill="none" stroke="#000" stroke-width="3.6"/>
<circle cx="873.8" cy="1527.1" r="6.7" fill="none" stroke="#000" stroke-width="3.6"/>
<circle cx="875.5" cy="1390.2" r="6.7" fill="none" stroke="#000" stroke-width="3.6"/>
<circle cx="877.2" cy="1507.0" r="6.7" fill="none" stroke="#000" stroke-width="3.6"/>
<circle cx="880.5" cy="1488.7" r="6.7" fill="none" stroke="#000" stroke-width="3.6"/>
<circle cx="880.5" cy="1552.1" r="6.7" fill="none" stroke="#000" stroke-width="3.6"/>
<circle cx="885.5" cy="1361.8" r="6.7" fill="none" stroke="#000" stroke-width="3.6"/>
<circle cx="887.2" cy="1565.4" r="6.7" fill="none" stroke="#000" stroke-width="3.6"/>
<circle cx="890.5" cy="1552.1" r="6.7" fill="none" stroke="#000" stroke-width="3.6"/>
<circle cx="892.2" cy="1563.8" r="6.7" fill="none" stroke="#000" stroke-width="3.6"/>
<circle cx="893.9" cy="1532.1" r="6.7" fill="none" stroke="#000" stroke-width="3.6"/>
<circle cx="895.5" cy="1396.9" r="6.7" fill="none" stroke="#000" stroke-width="3.6"/>
<circle cx="897.2" cy="1547.1" r="6.7" fill="none" stroke="#000" stroke-width="3.6"/>
<circle cx="898.9" cy="1452.0" r="6.7" fill="none" stroke="#000" stroke-width="3.6"/>
<circle cx="900.5" cy="1517.0" r="6.7" fill="none" stroke="#000" stroke-width="3.6"/>
<circle cx="902.2" cy="1483.7" r="6.7" fill="none" stroke="#000" stroke-width="3.6"/>
<circle cx="903.9" cy="1497.0" r="6.7" fill="none" stroke="#000" stroke-width="3.6"/>
<circle cx="905.5" cy="1525.4" r="6.7" fill="none" stroke="#000" stroke-width="3.6"/>
<circle cx="907.2" cy="1533.7" r="6.7" fill="none" stroke="#000" stroke-width="3.6"/>
<circle cx="910.5" cy="1447.0" r="6.7" fill="none" stroke="#000" stroke-width="3.6"/>
<circle cx="912.2" cy="1455.3" r="6.7" fill="none" stroke="#000" stroke-width="3.6"/>
<circle cx="913.9" cy="1487.0" r="6.7" fill="none" stroke="#000" stroke-width="3.6"/>
<circle cx="915.6" cy="1460.3" r="6.7" fill="none" stroke="#000" stroke-width="3.6"/>
<circle cx="917.2" cy="1473.7" r="6.7" fill="none" stroke="#000" stroke-width="3.6"/>
<circle cx="918.9" cy="1503.7" r="6.7" fill="none" stroke="#000" stroke-width="3.6"/>
<circle cx="920.6" cy="1533.7" r="6.7" fill="none" stroke="#000" stroke-width="3.6"/>
<circle cx="922.2" cy="1495.4" r="6.7" fill="none" stroke="#000" stroke-width="3.6"/>
<circle cx="925.6" cy="1508.7" r="6.7" fill="none" stroke="#000" stroke-width="3.6"/>
<circle cx="927.2" cy="1532.1" r="6.7" fill="none" stroke="#000" stroke-width="3.6"/>
<circle cx="930.6" cy="1500.4" r="6.7" fill="none" stroke="#000" stroke-width="3.6"/>
<circle cx="932.2" cy="1548.8" r="6.7" fill="none" stroke="#000" stroke-width="3.6"/>
<circle cx="935.6" cy="1450.3" r="6.7" fill="none" stroke="#000" stroke-width="3.6"/>
<circle cx="937.2" cy="1535.4" r="6.7" fill="none" stroke="#000" stroke-width="3.6"/>
<circle cx="940.6" cy="1463.6" r="6.7" fill="none" stroke="#000" stroke-width="3.6"/>
<circle cx="942.3" cy="1542.1" r="6.7" fill="none" stroke="#000" stroke-width="3.6"/>
<circle cx="943.9" cy="1435.3" r="6.7" fill="none" stroke="#000" stroke-width="3.6"/>
<circle cx="947.3" cy="1533.7" r="6.7" fill="none" stroke="#000" stroke-width="3.6"/>
<circle cx="948.9" cy="1470.3" r="6.7" fill="none" stroke="#000" stroke-width="3.6"/>
<line x1="596.8" y1="1486.3" x2="658.5" y2="1486.3" stroke="#e8141b" stroke-width="6.5"/>
<line x1="887.8" y1="1493.7" x2="950.6" y2="1493.7" stroke="#e8141b" stroke-width="7"/>
<text x="920.5" y="1324.1" font-size="26" text-anchor="middle" stroke="#000">ns</text>
<line x1="893.9" y1="1332.8" x2="943.9" y2="1332.8" stroke="#000" stroke-width="4.5"/>
<polygon points="779.2,1340.3 784.1,1347.1 795.9,1340.3 792.0,1332.9" fill="#8e8e92"/>
<circle cx="770.4" cy="1353.5" r="15.3" fill="#8e8e92" stroke="#000" stroke-width="1.4"/>
<polyline points="780.2,1341.2 802.7,1317.7" fill="none" stroke="#000" stroke-width="1.4" stroke-linecap="butt" stroke-linejoin="round"/>
<polyline points="783.6,1346.7 813.4,1328.8" fill="none" stroke="#000" stroke-width="1.4" stroke-linecap="butt" stroke-linejoin="round"/>
<ellipse cx="808.3" cy="1322.9" rx="5.5" ry="6.9" transform="rotate(-35 808.3 1322.9)" fill="none" stroke="#000" stroke-width="1.4"/>
<polyline points="793.8,1335.7 818.5,1314.8 830.0,1314.8" fill="none" stroke="#000" stroke-width="1.4" stroke-linecap="butt" stroke-linejoin="miter"/>
<polygon points="830.5,1303.3 830.5,1332.6 853.8,1317.7" fill="#fff" stroke="#000" stroke-width="1.4"/>
<polyline points="853.8,1317.7 861.4,1317.7" fill="none" stroke="#000" stroke-width="1.4" stroke-linecap="butt" stroke-linejoin="round"/>
<polyline points="830.0,1321.2 824.5,1321.2 824.5,1338.6" fill="none" stroke="#000" stroke-width="1.4" stroke-linecap="butt" stroke-linejoin="miter"/>
<polyline points="817.6,1338.9 830.9,1338.9" fill="none" stroke="#000" stroke-width="1.4" stroke-linecap="butt" stroke-linejoin="round"/>
<polyline points="820.7,1342.8 828.3,1342.8" fill="none" stroke="#000" stroke-width="1.4" stroke-linecap="butt" stroke-linejoin="round"/>
<polyline points="821.9,1346.7 826.6,1346.7" fill="none" stroke="#000" stroke-width="1.4" stroke-linecap="butt" stroke-linejoin="round"/>
<line x1="596.8" y1="1342.0" x2="596.8" y2="1581.3" stroke="#000" stroke-width="3"/>
<line x1="596.8" y1="1343.5" x2="609.8" y2="1343.5" stroke="#000" stroke-width="3"/>
<line x1="596.8" y1="1422.9" x2="609.8" y2="1422.9" stroke="#000" stroke-width="3"/>
<line x1="596.8" y1="1501.0" x2="609.8" y2="1501.0" stroke="#000" stroke-width="3"/>
<text x="588.0" y="1352.3" font-size="26" text-anchor="end" stroke="#000">300</text>
<text x="588.0" y="1431.3" font-size="26" text-anchor="end" stroke="#000">200</text>
<text x="588.0" y="1509.8" font-size="26" text-anchor="end" stroke="#000">100</text>
<text x="588.0" y="1587.8" font-size="26" text-anchor="end" stroke="#000">0</text>
<line x1="595.3" y1="1579.8" x2="953.8" y2="1579.8" stroke="#000" stroke-width="3"/>
<line x1="658.5" y1="1579.8" x2="658.5" y2="1566.8" stroke="#000" stroke-width="3"/>
<line x1="696.3" y1="1579.8" x2="696.3" y2="1566.8" stroke="#000" stroke-width="3"/>
<line x1="759.7" y1="1579.8" x2="759.7" y2="1566.8" stroke="#000" stroke-width="3"/>
<line x1="823.8" y1="1579.8" x2="823.8" y2="1566.8" stroke="#000" stroke-width="3"/>
<line x1="887.8" y1="1579.8" x2="887.8" y2="1566.8" stroke="#000" stroke-width="3"/>
<line x1="951.3" y1="1579.8" x2="951.3" y2="1566.8" stroke="#000" stroke-width="3"/>
<text x="532.9" y="1459.5" font-size="26.5" text-anchor="middle" stroke="#000" transform="rotate(-90 532.9 1459.5)">IPSC (pA)</text>
<line x1="673.6" y1="1636.5" x2="687.0" y2="1636.5" stroke="#000" stroke-width="3.5" stroke-dasharray="13 14"/>
<polyline points="600.0,1637.0 630.0,1636.5 656.0,1636.5" fill="none" stroke="#000" stroke-width="9.2" stroke-linecap="round" stroke-linejoin="round"/>
<path d="M594.2,1636.4a5.8,5.8 0 1,0 11.6,0a5.8,5.8 0 1,0 -11.6,0M596.8,1637.1a5.8,5.8 0 1,0 11.6,0a5.8,5.8 0 1,0 -11.6,0M599.4,1636.6a5.8,5.8 0 1,0 11.6,0a5.8,5.8 0 1,0 -11.6,0M602.0,1637.1a5.8,5.8 0 1,0 11.6,0a5.8,5.8 0 1,0 -11.6,0M604.6,1637.1a5.8,5.8 0 1,0 11.6,0a5.8,5.8 0 1,0 -11.6,0M607.2,1635.7a5.8,5.8 0 1,0 11.6,0a5.8,5.8 0 1,0 -11.6,0M609.8,1635.6a5.8,5.8 0 1,0 11.6,0a5.8,5.8 0 1,0 -11.6,0M612.4,1637.5a5.8,5.8 0 1,0 11.6,0a5.8,5.8 0 1,0 -11.6,0M615.0,1636.1a5.8,5.8 0 1,0 11.6,0a5.8,5.8 0 1,0 -11.6,0M617.6,1636.0a5.8,5.8 0 1,0 11.6,0a5.8,5.8 0 1,0 -11.6,0M620.2,1637.8a5.8,5.8 0 1,0 11.6,0a5.8,5.8 0 1,0 -11.6,0M622.8,1636.5a5.8,5.8 0 1,0 11.6,0a5.8,5.8 0 1,0 -11.6,0M625.4,1637.3a5.8,5.8 0 1,0 11.6,0a5.8,5.8 0 1,0 -11.6,0M628.0,1636.4a5.8,5.8 0 1,0 11.6,0a5.8,5.8 0 1,0 -11.6,0M630.6,1636.8a5.8,5.8 0 1,0 11.6,0a5.8,5.8 0 1,0 -11.6,0M633.2,1635.7a5.8,5.8 0 1,0 11.6,0a5.8,5.8 0 1,0 -11.6,0M635.8,1636.8a5.8,5.8 0 1,0 11.6,0a5.8,5.8 0 1,0 -11.6,0M638.4,1637.4a5.8,5.8 0 1,0 11.6,0a5.8,5.8 0 1,0 -11.6,0M641.0,1636.6a5.8,5.8 0 1,0 11.6,0a5.8,5.8 0 1,0 -11.6,0M643.6,1637.1a5.8,5.8 0 1,0 11.6,0a5.8,5.8 0 1,0 -11.6,0M646.2,1636.9a5.8,5.8 0 1,0 11.6,0a5.8,5.8 0 1,0 -11.6,0M648.8,1635.5a5.8,5.8 0 1,0 11.6,0a5.8,5.8 0 1,0 -11.6,0" fill="#000"/>
<polyline points="701.0,1636.0 730.0,1636.5 745.0,1638.5 760.0,1640.0 800.0,1640.5 850.0,1640.5 900.0,1640.0 946.0,1640.0" fill="none" stroke="#000" stroke-width="9.2" stroke-linecap="round" stroke-linejoin="round"/>
<path d="M695.2,1635.4a5.8,5.8 0 1,0 11.6,0a5.8,5.8 0 1,0 -11.6,0M697.8,1635.1a5.8,5.8 0 1,0 11.6,0a5.8,5.8 0 1,0 -11.6,0M700.4,1635.8a5.8,5.8 0 1,0 11.6,0a5.8,5.8 0 1,0 -11.6,0M703.0,1635.3a5.8,5.8 0 1,0 11.6,0a5.8,5.8 0 1,0 -11.6,0M705.6,1635.1a5.8,5.8 0 1,0 11.6,0a5.8,5.8 0 1,0 -11.6,0M708.2,1636.0a5.8,5.8 0 1,0 11.6,0a5.8,5.8 0 1,0 -11.6,0M710.8,1637.3a5.8,5.8 0 1,0 11.6,0a5.8,5.8 0 1,0 -11.6,0M713.4,1637.0a5.8,5.8 0 1,0 11.6,0a5.8,5.8 0 1,0 -11.6,0M716.0,1637.0a5.8,5.8 0 1,0 11.6,0a5.8,5.8 0 1,0 -11.6,0M718.6,1635.7a5.8,5.8 0 1,0 11.6,0a5.8,5.8 0 1,0 -11.6,0M721.2,1636.5a5.8,5.8 0 1,0 11.6,0a5.8,5.8 0 1,0 -11.6,0M723.8,1636.0a5.8,5.8 0 1,0 11.6,0a5.8,5.8 0 1,0 -11.6,0M726.4,1636.0a5.8,5.8 0 1,0 11.6,0a5.8,5.8 0 1,0 -11.6,0M729.0,1636.2a5.8,5.8 0 1,0 11.6,0a5.8,5.8 0 1,0 -11.6,0M731.6,1636.8a5.8,5.8 0 1,0 11.6,0a5.8,5.8 0 1,0 -11.6,0M734.2,1638.9a5.8,5.8 0 1,0 11.6,0a5.8,5.8 0 1,0 -11.6,0M736.8,1639.0a5.8,5.8 0 1,0 11.6,0a5.8,5.8 0 1,0 -11.6,0M739.4,1639.3a5.8,5.8 0 1,0 11.6,0a5.8,5.8 0 1,0 -11.6,0M742.0,1639.5a5.8,5.8 0 1,0 11.6,0a5.8,5.8 0 1,0 -11.6,0M744.6,1638.3a5.8,5.8 0 1,0 11.6,0a5.8,5.8 0 1,0 -11.6,0M747.2,1638.8a5.8,5.8 0 1,0 11.6,0a5.8,5.8 0 1,0 -11.6,0M749.8,1639.9a5.8,5.8 0 1,0 11.6,0a5.8,5.8 0 1,0 -11.6,0M752.4,1640.4a5.8,5.8 0 1,0 11.6,0a5.8,5.8 0 1,0 -11.6,0M755.0,1640.9a5.8,5.8 0 1,0 11.6,0a5.8,5.8 0 1,0 -11.6,0M757.6,1641.0a5.8,5.8 0 1,0 11.6,0a5.8,5.8 0 1,0 -11.6,0M760.2,1639.1a5.8,5.8 0 1,0 11.6,0a5.8,5.8 0 1,0 -11.6,0M762.8,1640.4a5.8,5.8 0 1,0 11.6,0a5.8,5.8 0 1,0 -11.6,0M765.4,1640.6a5.8,5.8 0 1,0 11.6,0a5.8,5.8 0 1,0 -11.6,0M768.0,1640.2a5.8,5.8 0 1,0 11.6,0a5.8,5.8 0 1,0 -11.6,0M770.6,1639.4a5.8,5.8 0 1,0 11.6,0a5.8,5.8 0 1,0 -11.6,0M773.2,1640.2a5.8,5.8 0 1,0 11.6,0a5.8,5.8 0 1,0 -11.6,0M775.8,1639.3a5.8,5.8 0 1,0 11.6,0a5.8,5.8 0 1,0 -11.6,0M778.4,1641.3a5.8,5.8 0 1,0 11.6,0a5.8,5.8 0 1,0 -11.6,0M781.0,1641.2a5.8,5.8 0 1,0 11.6,0a5.8,5.8 0 1,0 -11.6,0M783.6,1640.5a5.8,5.8 0 1,0 11.6,0a5.8,5.8 0 1,0 -11.6,0M786.2,1639.9a5.8,5.8 0 1,0 11.6,0a5.8,5.8 0 1,0 -11.6,0M788.8,1641.4a5.8,5.8 0 1,0 11.6,0a5.8,5.8 0 1,0 -11.6,0M791.4,1640.6a5.8,5.8 0 1,0 11.6,0a5.8,5.8 0 1,0 -11.6,0M794.0,1641.4a5.8,5.8 0 1,0 11.6,0a5.8,5.8 0 1,0 -11.6,0M796.6,1641.3a5.8,5.8 0 1,0 11.6,0a5.8,5.8 0 1,0 -11.6,0M799.2,1640.5a5.8,5.8 0 1,0 11.6,0a5.8,5.8 0 1,0 -11.6,0M801.8,1640.3a5.8,5.8 0 1,0 11.6,0a5.8,5.8 0 1,0 -11.6,0M804.4,1640.7a5.8,5.8 0 1,0 11.6,0a5.8,5.8 0 1,0 -11.6,0M807.0,1640.3a5.8,5.8 0 1,0 11.6,0a5.8,5.8 0 1,0 -11.6,0M809.6,1639.7a5.8,5.8 0 1,0 11.6,0a5.8,5.8 0 1,0 -11.6,0M812.2,1640.0a5.8,5.8 0 1,0 11.6,0a5.8,5.8 0 1,0 -11.6,0M814.8,1641.3a5.8,5.8 0 1,0 11.6,0a5.8,5.8 0 1,0 -11.6,0M817.4,1639.4a5.8,5.8 0 1,0 11.6,0a5.8,5.8 0 1,0 -11.6,0M820.0,1639.4a5.8,5.8 0 1,0 11.6,0a5.8,5.8 0 1,0 -11.6,0M822.6,1640.8a5.8,5.8 0 1,0 11.6,0a5.8,5.8 0 1,0 -11.6,0M825.2,1640.0a5.8,5.8 0 1,0 11.6,0a5.8,5.8 0 1,0 -11.6,0M827.8,1640.6a5.8,5.8 0 1,0 11.6,0a5.8,5.8 0 1,0 -11.6,0M830.4,1640.4a5.8,5.8 0 1,0 11.6,0a5.8,5.8 0 1,0 -11.6,0M833.0,1640.1a5.8,5.8 0 1,0 11.6,0a5.8,5.8 0 1,0 -11.6,0M835.6,1641.7a5.8,5.8 0 1,0 11.6,0a5.8,5.8 0 1,0 -11.6,0M838.2,1639.8a5.8,5.8 0 1,0 11.6,0a5.8,5.8 0 1,0 -11.6,0M840.8,1640.3a5.8,5.8 0 1,0 11.6,0a5.8,5.8 0 1,0 -11.6,0M843.4,1639.8a5.8,5.8 0 1,0 11.6,0a5.8,5.8 0 1,0 -11.6,0M846.0,1640.8a5.8,5.8 0 1,0 11.6,0a5.8,5.8 0 1,0 -11.6,0M848.6,1639.9a5.8,5.8 0 1,0 11.6,0a5.8,5.8 0 1,0 -11.6,0M851.2,1640.1a5.8,5.8 0 1,0 11.6,0a5.8,5.8 0 1,0 -11.6,0M853.8,1641.0a5.8,5.8 0 1,0 11.6,0a5.8,5.8 0 1,0 -11.6,0M856.4,1639.9a5.8,5.8 0 1,0 11.6,0a5.8,5.8 0 1,0 -11.6,0M859.0,1640.5a5.8,5.8 0 1,0 11.6,0a5.8,5.8 0 1,0 -11.6,0M861.6,1641.3a5.8,5.8 0 1,0 11.6,0a5.8,5.8 0 1,0 -11.6,0M864.2,1639.3a5.8,5.8 0 1,0 11.6,0a5.8,5.8 0 1,0 -11.6,0M866.8,1639.2a5.8,5.8 0 1,0 11.6,0a5.8,5.8 0 1,0 -11.6,0M869.4,1639.6a5.8,5.8 0 1,0 11.6,0a5.8,5.8 0 1,0 -11.6,0M872.0,1640.9a5.8,5.8 0 1,0 11.6,0a5.8,5.8 0 1,0 -11.6,0M874.6,1640.5a5.8,5.8 0 1,0 11.6,0a5.8,5.8 0 1,0 -11.6,0M877.2,1639.5a5.8,5.8 0 1,0 11.6,0a5.8,5.8 0 1,0 -11.6,0M879.8,1639.7a5.8,5.8 0 1,0 11.6,0a5.8,5.8 0 1,0 -11.6,0M882.4,1639.3a5.8,5.8 0 1,0 11.6,0a5.8,5.8 0 1,0 -11.6,0M885.0,1640.0a5.8,5.8 0 1,0 11.6,0a5.8,5.8 0 1,0 -11.6,0M887.6,1639.0a5.8,5.8 0 1,0 11.6,0a5.8,5.8 0 1,0 -11.6,0M890.2,1640.5a5.8,5.8 0 1,0 11.6,0a5.8,5.8 0 1,0 -11.6,0M892.8,1641.0a5.8,5.8 0 1,0 11.6,0a5.8,5.8 0 1,0 -11.6,0M895.4,1641.1a5.8,5.8 0 1,0 11.6,0a5.8,5.8 0 1,0 -11.6,0M898.0,1640.6a5.8,5.8 0 1,0 11.6,0a5.8,5.8 0 1,0 -11.6,0M900.6,1641.1a5.8,5.8 0 1,0 11.6,0a5.8,5.8 0 1,0 -11.6,0M903.2,1638.8a5.8,5.8 0 1,0 11.6,0a5.8,5.8 0 1,0 -11.6,0M905.8,1639.5a5.8,5.8 0 1,0 11.6,0a5.8,5.8 0 1,0 -11.6,0M908.4,1641.1a5.8,5.8 0 1,0 11.6,0a5.8,5.8 0 1,0 -11.6,0M911.0,1640.7a5.8,5.8 0 1,0 11.6,0a5.8,5.8 0 1,0 -11.6,0M913.6,1639.8a5.8,5.8 0 1,0 11.6,0a5.8,5.8 0 1,0 -11.6,0M916.2,1641.1a5.8,5.8 0 1,0 11.6,0a5.8,5.8 0 1,0 -11.6,0M918.8,1640.3a5.8,5.8 0 1,0 11.6,0a5.8,5.8 0 1,0 -11.6,0M921.4,1640.8a5.8,5.8 0 1,0 11.6,0a5.8,5.8 0 1,0 -11.6,0M924.0,1639.5a5.8,5.8 0 1,0 11.6,0a5.8,5.8 0 1,0 -11.6,0M926.6,1639.3a5.8,5.8 0 1,0 11.6,0a5.8,5.8 0 1,0 -11.6,0M929.2,1639.9a5.8,5.8 0 1,0 11.6,0a5.8,5.8 0 1,0 -11.6,0M931.8,1639.1a5.8,5.8 0 1,0 11.6,0a5.8,5.8 0 1,0 -11.6,0M934.4,1639.7a5.8,5.8 0 1,0 11.6,0a5.8,5.8 0 1,0 -11.6,0M937.0,1641.1a5.8,5.8 0 1,0 11.6,0a5.8,5.8 0 1,0 -11.6,0M939.6,1639.6a5.8,5.8 0 1,0 11.6,0a5.8,5.8 0 1,0 -11.6,0" fill="#000"/>
<line x1="596.8" y1="1599.0" x2="596.8" y2="1674.8" stroke="#000" stroke-width="3"/>
<line x1="596.8" y1="1601.2" x2="609.8" y2="1601.2" stroke="#000" stroke-width="3"/>
<line x1="596.8" y1="1637.2" x2="609.8" y2="1637.2" stroke="#000" stroke-width="3"/>
<text x="588.0" y="1615.3" font-size="26" text-anchor="end" stroke="#000">40</text>
<text x="588.0" y="1646.3" font-size="26" text-anchor="end" stroke="#000">20</text>
<text x="588.0" y="1679.3" font-size="26" text-anchor="end" stroke="#000">0</text>
<line x1="595.3" y1="1673.3" x2="953.8" y2="1673.3" stroke="#000" stroke-width="3"/>
<line x1="658.5" y1="1673.3" x2="658.5" y2="1660.3" stroke="#000" stroke-width="3"/>
<line x1="696.3" y1="1673.3" x2="696.3" y2="1660.3" stroke="#000" stroke-width="3"/>
<line x1="759.7" y1="1673.3" x2="759.7" y2="1660.3" stroke="#000" stroke-width="3"/>
<line x1="823.8" y1="1673.3" x2="823.8" y2="1660.3" stroke="#000" stroke-width="3"/>
<line x1="887.8" y1="1673.3" x2="887.8" y2="1660.3" stroke="#000" stroke-width="3"/>
<line x1="951.3" y1="1673.3" x2="951.3" y2="1660.3" stroke="#000" stroke-width="3"/>
<text x="603.5" y="1698.1" font-size="26" text-anchor="middle" stroke="#000">-5</text>
<text x="696.9" y="1698.1" font-size="26" text-anchor="middle" stroke="#000">0</text>
<text x="757.7" y="1698.1" font-size="26" text-anchor="middle" stroke="#000">5</text>
<text x="823.8" y="1698.1" font-size="26" text-anchor="middle" stroke="#000">10</text>
<text x="888.9" y="1698.1" font-size="26" text-anchor="middle" stroke="#000">15</text>
<text x="950.6" y="1698.1" font-size="26" text-anchor="middle" stroke="#000">20</text>
<text x="532.9" y="1632.0" font-size="26.5" text-anchor="middle" stroke="#000" transform="rotate(-90 532.9 1632.0)">Ra (MΩ)</text>
<text x="774.5" y="1730.7" font-size="26.5" text-anchor="middle" stroke="#000">Time (min)</text>
<text x="1024.0" y="1282.0" font-size="48" text-anchor="start" stroke="#000" font-weight="bold">f</text>
<text x="1200.0" y="1262.7" font-size="26.2" text-anchor="start" stroke="#000">i-Dynamin</text>
<text x="1200.0" y="1294.0" font-size="26.2" text-anchor="start" stroke="#000">inhibitor control [50 µM]</text>
<rect x="1180.9" y="1341.8" width="37.4" height="331.5" fill="#7cc3de"/>
<text x="1156.0" y="1331.8" font-size="26.3" text-anchor="start" fill="#3196c8" stroke="#3196c8">PIL opto</text>
<line x1="1116.5" y1="1475.3" x2="1473.0" y2="1475.3" stroke="#000" stroke-width="3.5" stroke-dasharray="12.2 14.2"/>
<circle cx="1121.5" cy="1353.5" r="6.7" fill="none" stroke="#000" stroke-width="3.6"/>
<circle cx="1122.2" cy="1354.5" r="6.7" fill="none" stroke="#000" stroke-width="3.6"/>
<circle cx="1116.5" cy="1460.3" r="6.7" fill="none" stroke="#000" stroke-width="3.6"/>
<circle cx="1123.2" cy="1421.9" r="6.7" fill="none" stroke="#000" stroke-width="3.6"/>
<circle cx="1131.5" cy="1413.6" r="6.7" fill="none" stroke="#000" stroke-width="3.6"/>
<circle cx="1133.2" cy="1393.6" r="6.7" fill="none" stroke="#000" stroke-width="3.6"/>
<circle cx="1143.2" cy="1430.3" r="6.7" fill="none" stroke="#000" stroke-width="3.6"/>
<circle cx="1126.5" cy="1480.3" r="6.7" fill="none" stroke="#000" stroke-width="3.6"/>
<circle cx="1129.8" cy="1497.0" r="6.7" fill="none" stroke="#000" stroke-width="3.6"/>
<circle cx="1126.5" cy="1508.7" r="6.7" fill="none" stroke="#000" stroke-width="3.6"/>
<circle cx="1134.8" cy="1535.4" r="6.7" fill="none" stroke="#000" stroke-width="3.6"/>
<circle cx="1139.9" cy="1537.1" r="6.7" fill="none" stroke="#000" stroke-width="3.6"/>
<circle cx="1146.5" cy="1538.7" r="6.7" fill="none" stroke="#000" stroke-width="3.6"/>
<circle cx="1144.9" cy="1463.6" r="6.7" fill="none" stroke="#000" stroke-width="3.6"/>
<circle cx="1149.9" cy="1462.0" r="6.7" fill="none" stroke="#000" stroke-width="3.6"/>
<circle cx="1151.5" cy="1475.3" r="6.7" fill="none" stroke="#000" stroke-width="3.6"/>
<circle cx="1148.2" cy="1482.0" r="6.7" fill="none" stroke="#000" stroke-width="3.6"/>
<circle cx="1141.5" cy="1488.7" r="6.7" fill="none" stroke="#000" stroke-width="3.6"/>
<circle cx="1154.9" cy="1470.3" r="6.7" fill="none" stroke="#000" stroke-width="3.6"/>
<circle cx="1156.5" cy="1393.6" r="6.7" fill="none" stroke="#000" stroke-width="3.6"/>
<circle cx="1159.9" cy="1510.4" r="6.7" fill="none" stroke="#000" stroke-width="3.6"/>
<circle cx="1161.6" cy="1522.1" r="6.7" fill="none" stroke="#000" stroke-width="3.6"/>
<circle cx="1164.9" cy="1503.7" r="6.7" fill="none" stroke="#000" stroke-width="3.6"/>
<circle cx="1166.6" cy="1455.3" r="6.7" fill="none" stroke="#000" stroke-width="3.6"/>
<circle cx="1164.9" cy="1525.4" r="6.7" fill="none" stroke="#000" stroke-width="3.6"/>
<circle cx="1169.9" cy="1398.6" r="6.7" fill="none" stroke="#000" stroke-width="3.6"/>
<circle cx="1171.6" cy="1527.1" r="6.7" fill="none" stroke="#000" stroke-width="3.6"/>
<circle cx="1173.2" cy="1478.7" r="6.7" fill="none" stroke="#000" stroke-width="3.6"/>
<circle cx="1178.2" cy="1495.4" r="6.7" fill="none" stroke="#000" stroke-width="3.6"/>
<circle cx="1179.9" cy="1438.6" r="6.7" fill="none" stroke="#000" stroke-width="3.6"/>
<circle cx="1161.6" cy="1545.4" r="6.7" fill="none" stroke="#000" stroke-width="3.6"/>
<circle cx="1176.6" cy="1548.8" r="6.7" fill="none" stroke="#000" stroke-width="3.6"/>
<circle cx="1136.5" cy="1543.8" r="6.7" fill="none" stroke="#000" stroke-width="3.6"/>
<circle cx="1220.0" cy="1475.3" r="6.7" fill="none" stroke="#000" stroke-width="3.6"/>
<circle cx="1218.3" cy="1418.6" r="6.7" fill="none" stroke="#000" stroke-width="3.6"/>
<circle cx="1225.0" cy="1443.6" r="6.7" fill="none" stroke="#000" stroke-width="3.6"/>
<circle cx="1228.3" cy="1487.0" r="6.7" fill="none" stroke="#000" stroke-width="3.6"/>
<circle cx="1230.0" cy="1550.4" r="6.7" fill="none" stroke="#000" stroke-width="3.6"/>
<circle cx="1230.0" cy="1500.4" r="6.7" fill="none" stroke="#000" stroke-width="3.6"/>
<circle cx="1235.0" cy="1492.0" r="6.7" fill="none" stroke="#000" stroke-width="3.6"/>
<circle cx="1236.7" cy="1493.7" r="6.7" fill="none" stroke="#000" stroke-width="3.6"/>
<circle cx="1238.3" cy="1386.9" r="6.7" fill="none" stroke="#000" stroke-width="3.6"/>
<circle cx="1238.3" cy="1423.6" r="6.7" fill="none" stroke="#000" stroke-width="3.6"/>
<circle cx="1243.3" cy="1421.9" r="6.7" fill="none" stroke="#000" stroke-width="3.6"/>
<circle cx="1244.3" cy="1350.2" r="6.7" fill="none" stroke="#000" stroke-width="3.6"/>
<circle cx="1246.7" cy="1453.6" r="6.7" fill="none" stroke="#000" stroke-width="3.6"/>
<circle cx="1251.7" cy="1467.0" r="6.7" fill="none" stroke="#000" stroke-width="3.6"/>
<circle cx="1251.7" cy="1520.4" r="6.7" fill="none" stroke="#000" stroke-width="3.6"/>
<circle cx="1253.3" cy="1487.0" r="6.7" fill="none" stroke="#000" stroke-width="3.6"/>
<circle cx="1256.7" cy="1492.0" r="6.7" fill="none" stroke="#000" stroke-width="3.6"/>
<circle cx="1258.3" cy="1390.2" r="6.7" fill="none" stroke="#000" stroke-width="3.6"/>
<circle cx="1261.7" cy="1493.7" r="6.7" fill="none" stroke="#000" stroke-width="3.6"/>
<circle cx="1263.4" cy="1547.1" r="6.7" fill="none" stroke="#000" stroke-width="3.6"/>
<circle cx="1265.0" cy="1462.0" r="6.7" fill="none" stroke="#000" stroke-width="3.6"/>
<circle cx="1266.7" cy="1380.2" r="6.7" fill="none" stroke="#000" stroke-width="3.6"/>
<circle cx="1268.4" cy="1457.0" r="6.7" fill="none" stroke="#000" stroke-width="3.6"/>
<circle cx="1270.0" cy="1373.5" r="6.7" fill="none" stroke="#000" stroke-width="3.6"/>
<circle cx="1271.7" cy="1465.3" r="6.7" fill="none" stroke="#000" stroke-width="3.6"/>
<circle cx="1273.4" cy="1457.0" r="6.7" fill="none" stroke="#000" stroke-width="3.6"/>
<circle cx="1275.0" cy="1502.0" r="6.7" fill="none" stroke="#000" stroke-width="3.6"/>
<circle cx="1276.7" cy="1458.6" r="6.7" fill="none" stroke="#000" stroke-width="3.6"/>
<circle cx="1280.0" cy="1482.0" r="6.7" fill="none" stroke="#000" stroke-width="3.6"/>
<circle cx="1280.0" cy="1460.3" r="6.7" fill="none" stroke="#000" stroke-width="3.6"/>
<circle cx="1281.7" cy="1550.4" r="6.7" fill="none" stroke="#000" stroke-width="3.6"/>
<circle cx="1283.4" cy="1553.8" r="6.7" fill="none" stroke="#000" stroke-width="3.6"/>
<circle cx="1285.0" cy="1503.7" r="6.7" fill="none" stroke="#000" stroke-width="3.6"/>
<circle cx="1288.4" cy="1448.6" r="6.7" fill="none" stroke="#000" stroke-width="3.6"/>
<circle cx="1288.4" cy="1457.0" r="6.7" fill="none" stroke="#000" stroke-width="3.6"/>
<circle cx="1291.7" cy="1520.4" r="6.7" fill="none" stroke="#000" stroke-width="3.6"/>
<circle cx="1293.4" cy="1497.0" r="6.7" fill="none" stroke="#000" stroke-width="3.6"/>
<circle cx="1296.7" cy="1465.3" r="6.7" fill="none" stroke="#000" stroke-width="3.6"/>
<circle cx="1298.4" cy="1483.7" r="6.7" fill="none" stroke="#000" stroke-width="3.6"/>
<circle cx="1300.1" cy="1500.4" r="6.7" fill="none" stroke="#000" stroke-width="3.6"/>
<circle cx="1301.7" cy="1548.8" r="6.7" fill="none" stroke="#000" stroke-width="3.6"/>
<circle cx="1303.4" cy="1552.1" r="6.7" fill="none" stroke="#000" stroke-width="3.6"/>
<circle cx="1305.1" cy="1557.1" r="6.7" fill="none" stroke="#000" stroke-width="3.6"/>
<circle cx="1306.7" cy="1503.7" r="6.7" fill="none" stroke="#000" stroke-width="3.6"/>
<circle cx="1308.4" cy="1408.6" r="6.7" fill="none" stroke="#000" stroke-width="3.6"/>
<circle cx="1310.1" cy="1502.0" r="6.7" fill="none" stroke="#000" stroke-width="3.6"/>
<circle cx="1311.8" cy="1553.8" r="6.7" fill="none" stroke="#000" stroke-width="3.6"/>
<circle cx="1315.1" cy="1548.8" r="6.7" fill="none" stroke="#000" stroke-width="3.6"/>
<circle cx="1316.8" cy="1558.8" r="6.7" fill="none" stroke="#000" stroke-width="3.6"/>
<circle cx="1320.1" cy="1550.4" r="6.7" fill="none" stroke="#000" stroke-width="3.6"/>
<circle cx="1323.4" cy="1552.1" r="6.7" fill="none" stroke="#000" stroke-width="3.6"/>
<circle cx="1326.8" cy="1477.0" r="6.7" fill="none" stroke="#000" stroke-width="3.6"/>
<circle cx="1328.4" cy="1558.8" r="6.7" fill="none" stroke="#000" stroke-width="3.6"/>
<circle cx="1330.1" cy="1560.4" r="6.7" fill="none" stroke="#000" stroke-width="3.6"/>
<circle cx="1333.4" cy="1543.8" r="6.7" fill="none" stroke="#000" stroke-width="3.6"/>
<circle cx="1335.1" cy="1563.8" r="6.7" fill="none" stroke="#000" stroke-width="3.6"/>
<circle cx="1338.5" cy="1550.4" r="6.7" fill="none" stroke="#000" stroke-width="3.6"/>
<circle cx="1340.1" cy="1468.7" r="6.7" fill="none" stroke="#000" stroke-width="3.6"/>
<circle cx="1341.8" cy="1515.4" r="6.7" fill="none" stroke="#000" stroke-width="3.6"/>
<circle cx="1343.5" cy="1555.4" r="6.7" fill="none" stroke="#000" stroke-width="3.6"/>
<circle cx="1345.1" cy="1565.4" r="6.7" fill="none" stroke="#000" stroke-width="3.6"/>
<circle cx="1348.5" cy="1552.1" r="6.7" fill="none" stroke="#000" stroke-width="3.6"/>
<circle cx="1350.1" cy="1560.4" r="6.7" fill="none" stroke="#000" stroke-width="3.6"/>
<circle cx="1353.5" cy="1563.8" r="6.7" fill="none" stroke="#000" stroke-width="3.6"/>
<circle cx="1355.1" cy="1522.1" r="6.7" fill="none" stroke="#000" stroke-width="3.6"/>
<circle cx="1356.8" cy="1528.7" r="6.7" fill="none" stroke="#000" stroke-width="3.6"/>
<circle cx="1358.5" cy="1480.3" r="6.7" fill="none" stroke="#000" stroke-width="3.6"/>
<circle cx="1360.1" cy="1558.8" r="6.7" fill="none" stroke="#000" stroke-width="3.6"/>
<circle cx="1361.8" cy="1553.8" r="6.7" fill="none" stroke="#000" stroke-width="3.6"/>
<circle cx="1363.5" cy="1562.1" r="6.7" fill="none" stroke="#000" stroke-width="3.6"/>
<circle cx="1365.2" cy="1552.1" r="6.7" fill="none" stroke="#000" stroke-width="3.6"/>
<circle cx="1366.8" cy="1552.1" r="6.7" fill="none" stroke="#000" stroke-width="3.6"/>
<circle cx="1368.5" cy="1532.1" r="6.7" fill="none" stroke="#000" stroke-width="3.6"/>
<circle cx="1371.8" cy="1555.4" r="6.7" fill="none" stroke="#000" stroke-width="3.6"/>
<circle cx="1373.5" cy="1550.4" r="6.7" fill="none" stroke="#000" stroke-width="3.6"/>
<circle cx="1375.2" cy="1480.3" r="6.7" fill="none" stroke="#000" stroke-width="3.6"/>
<circle cx="1376.8" cy="1457.0" r="6.7" fill="none" stroke="#000" stroke-width="3.6"/>
<circle cx="1378.5" cy="1525.4" r="6.7" fill="none" stroke="#000" stroke-width="3.6"/>
<circle cx="1380.2" cy="1508.7" r="6.7" fill="none" stroke="#000" stroke-width="3.6"/>
<circle cx="1381.8" cy="1550.4" r="6.7" fill="none" stroke="#000" stroke-width="3.6"/>
<circle cx="1385.2" cy="1552.1" r="6.7" fill="none" stroke="#000" stroke-width="3.6"/>
<circle cx="1386.9" cy="1492.0" r="6.7" fill="none" stroke="#000" stroke-width="3.6"/>
<circle cx="1388.5" cy="1565.4" r="6.7" fill="none" stroke="#000" stroke-width="3.6"/>
<circle cx="1390.2" cy="1553.8" r="6.7" fill="none" stroke="#000" stroke-width="3.6"/>
<circle cx="1391.9" cy="1547.1" r="6.7" fill="none" stroke="#000" stroke-width="3.6"/>
<circle cx="1393.5" cy="1558.8" r="6.7" fill="none" stroke="#000" stroke-width="3.6"/>
<circle cx="1396.9" cy="1475.3" r="6.7" fill="none" stroke="#000" stroke-width="3.6"/>
<circle cx="1398.5" cy="1555.4" r="6.7" fill="none" stroke="#000" stroke-width="3.6"/>
<circle cx="1401.9" cy="1550.4" r="6.7" fill="none" stroke="#000" stroke-width="3.6"/>
<circle cx="1403.5" cy="1558.8" r="6.7" fill="none" stroke="#000" stroke-width="3.6"/>
<circle cx="1405.2" cy="1545.4" r="6.7" fill="none" stroke="#000" stroke-width="3.6"/>
<circle cx="1408.5" cy="1562.1" r="6.7" fill="none" stroke="#000" stroke-width="3.6"/>
<circle cx="1411.9" cy="1555.4" r="6.7" fill="none" stroke="#000" stroke-width="3.6"/>
<circle cx="1415.2" cy="1550.4" r="6.7" fill="none" stroke="#000" stroke-width="3.6"/>
<circle cx="1418.6" cy="1563.8" r="6.7" fill="none" stroke="#000" stroke-width="3.6"/>
<circle cx="1421.9" cy="1552.1" r="6.7" fill="none" stroke="#000" stroke-width="3.6"/>
<circle cx="1425.2" cy="1558.8" r="6.7" fill="none" stroke="#000" stroke-width="3.6"/>
<circle cx="1426.9" cy="1535.4" r="6.7" fill="none" stroke="#000" stroke-width="3.6"/>
<circle cx="1428.6" cy="1550.4" r="6.7" fill="none" stroke="#000" stroke-width="3.6"/>
<circle cx="1431.9" cy="1470.3" r="6.7" fill="none" stroke="#000" stroke-width="3.6"/>
<circle cx="1433.6" cy="1487.0" r="6.7" fill="none" stroke="#000" stroke-width="3.6"/>
<circle cx="1435.2" cy="1555.4" r="6.7" fill="none" stroke="#000" stroke-width="3.6"/>
<circle cx="1438.6" cy="1488.7" r="6.7" fill="none" stroke="#000" stroke-width="3.6"/>
<circle cx="1440.3" cy="1560.4" r="6.7" fill="none" stroke="#000" stroke-width="3.6"/>
<circle cx="1441.9" cy="1523.7" r="6.7" fill="none" stroke="#000" stroke-width="3.6"/>
<circle cx="1445.3" cy="1550.4" r="6.7" fill="none" stroke="#000" stroke-width="3.6"/>
<circle cx="1446.9" cy="1558.8" r="6.7" fill="none" stroke="#000" stroke-width="3.6"/>
<circle cx="1448.6" cy="1492.0" r="6.7" fill="none" stroke="#000" stroke-width="3.6"/>
<circle cx="1450.3" cy="1525.4" r="6.7" fill="none" stroke="#000" stroke-width="3.6"/>
<circle cx="1451.9" cy="1553.8" r="6.7" fill="none" stroke="#000" stroke-width="3.6"/>
<circle cx="1455.3" cy="1550.4" r="6.7" fill="none" stroke="#000" stroke-width="3.6"/>
<circle cx="1458.6" cy="1560.4" r="6.7" fill="none" stroke="#000" stroke-width="3.6"/>
<circle cx="1463.6" cy="1555.4" r="6.7" fill="none" stroke="#000" stroke-width="3.6"/>
<circle cx="1467.0" cy="1523.7" r="6.7" fill="none" stroke="#000" stroke-width="3.6"/>
<circle cx="1468.6" cy="1552.1" r="6.7" fill="none" stroke="#000" stroke-width="3.6"/>
<circle cx="1472.0" cy="1558.8" r="6.7" fill="none" stroke="#000" stroke-width="3.6"/>
<circle cx="1475.3" cy="1548.8" r="6.7" fill="none" stroke="#000" stroke-width="3.6"/>
<line x1="1117.5" y1="1475.3" x2="1180.9" y2="1475.3" stroke="#e8141b" stroke-width="6.5"/>
<line x1="1408.5" y1="1540.4" x2="1472.0" y2="1540.4" stroke="#e8141b" stroke-width="7"/>
<text x="1442.0" y="1440.8" font-size="45" text-anchor="middle" stroke="#000" font-weight="bold">**</text>
<line x1="1416.9" y1="1432.0" x2="1468.0" y2="1432.0" stroke="#000" stroke-width="4.5"/>
<polygon points="1357.5,1345.0 1362.5,1352.0 1374.5,1345.0 1370.5,1337.5" fill="#8e8e92"/>
<circle cx="1348.5" cy="1358.5" r="15.6" fill="#8e8e92" stroke="#000" stroke-width="1.4"/>
<polyline points="1358.5,1345.9 1381.5,1322.0" fill="none" stroke="#000" stroke-width="1.4" stroke-linecap="butt" stroke-linejoin="round"/>
<polyline points="1362.0,1351.6 1392.4,1333.3" fill="none" stroke="#000" stroke-width="1.4" stroke-linecap="butt" stroke-linejoin="round"/>
<ellipse cx="1387.2" cy="1327.2" rx="5.6" ry="7.0" transform="rotate(-35 1387.2 1327.2)" fill="none" stroke="#000" stroke-width="1.4"/>
<polyline points="1372.4,1340.3 1397.6,1319.0 1409.3,1319.0" fill="none" stroke="#000" stroke-width="1.4" stroke-linecap="butt" stroke-linejoin="miter"/>
<polygon points="1409.8,1307.3 1409.8,1337.2 1433.6,1322.0" fill="#fff" stroke="#000" stroke-width="1.4"/>
<polyline points="1433.6,1322.0 1441.4,1322.0" fill="none" stroke="#000" stroke-width="1.4" stroke-linecap="butt" stroke-linejoin="round"/>
<polyline points="1409.3,1325.5 1403.7,1325.5 1403.7,1343.3" fill="none" stroke="#000" stroke-width="1.4" stroke-linecap="butt" stroke-linejoin="miter"/>
<polyline points="1396.7,1343.6 1410.2,1343.6" fill="none" stroke="#000" stroke-width="1.4" stroke-linecap="butt" stroke-linejoin="round"/>
<polyline points="1399.8,1347.6 1407.6,1347.6" fill="none" stroke="#000" stroke-width="1.4" stroke-linecap="butt" stroke-linejoin="round"/>
<polyline points="1401.1,1351.6 1405.8,1351.6" fill="none" stroke="#000" stroke-width="1.4" stroke-linecap="butt" stroke-linejoin="round"/>
<line x1="1117.5" y1="1361.3" x2="1117.5" y2="1581.3" stroke="#000" stroke-width="3"/>
<line x1="1117.5" y1="1362.8" x2="1130.5" y2="1362.8" stroke="#000" stroke-width="3"/>
<line x1="1117.5" y1="1471.3" x2="1130.5" y2="1471.3" stroke="#000" stroke-width="3"/>
<text x="1109.0" y="1372.5" font-size="26" text-anchor="end" stroke="#000">100</text>
<text x="1109.0" y="1479.3" font-size="26" text-anchor="end" stroke="#000">50</text>
<text x="1109.0" y="1587.8" font-size="26" text-anchor="end" stroke="#000">0</text>
<line x1="1116.0" y1="1579.8" x2="1475.1" y2="1579.8" stroke="#000" stroke-width="3"/>
<line x1="1180.9" y1="1579.8" x2="1180.9" y2="1566.8" stroke="#000" stroke-width="3"/>
<line x1="1218.3" y1="1579.8" x2="1218.3" y2="1566.8" stroke="#000" stroke-width="3"/>
<line x1="1281.7" y1="1579.8" x2="1281.7" y2="1566.8" stroke="#000" stroke-width="3"/>
<line x1="1345.1" y1="1579.8" x2="1345.1" y2="1566.8" stroke="#000" stroke-width="3"/>
<line x1="1409.2" y1="1579.8" x2="1409.2" y2="1566.8" stroke="#000" stroke-width="3"/>
<line x1="1472.6" y1="1579.8" x2="1472.6" y2="1566.8" stroke="#000" stroke-width="3"/>
<text x="1053.4" y="1464.5" font-size="26.5" text-anchor="middle" stroke="#000" transform="rotate(-90 1053.4 1464.5)">IPSC (pA)</text>
<line x1="1188.3" y1="1636.5" x2="1198.3" y2="1636.5" stroke="#000" stroke-width="3.5" stroke-dasharray="13 14"/>
<polyline points="1121.0,1637.0 1150.0,1637.5 1180.0,1637.0" fill="none" stroke="#000" stroke-width="9.2" stroke-linecap="round" stroke-linejoin="round"/>
<path d="M1115.2,1637.3a5.8,5.8 0 1,0 11.6,0a5.8,5.8 0 1,0 -11.6,0M1117.8,1637.6a5.8,5.8 0 1,0 11.6,0a5.8,5.8 0 1,0 -11.6,0M1120.4,1637.8a5.8,5.8 0 1,0 11.6,0a5.8,5.8 0 1,0 -11.6,0M1123.0,1638.2a5.8,5.8 0 1,0 11.6,0a5.8,5.8 0 1,0 -11.6,0M1125.6,1637.8a5.8,5.8 0 1,0 11.6,0a5.8,5.8 0 1,0 -11.6,0M1128.2,1638.2a5.8,5.8 0 1,0 11.6,0a5.8,5.8 0 1,0 -11.6,0M1130.8,1636.1a5.8,5.8 0 1,0 11.6,0a5.8,5.8 0 1,0 -11.6,0M1133.4,1637.2a5.8,5.8 0 1,0 11.6,0a5.8,5.8 0 1,0 -11.6,0M1136.0,1638.4a5.8,5.8 0 1,0 11.6,0a5.8,5.8 0 1,0 -11.6,0M1138.6,1637.8a5.8,5.8 0 1,0 11.6,0a5.8,5.8 0 1,0 -11.6,0M1141.2,1638.4a5.8,5.8 0 1,0 11.6,0a5.8,5.8 0 1,0 -11.6,0M1143.8,1636.6a5.8,5.8 0 1,0 11.6,0a5.8,5.8 0 1,0 -11.6,0M1146.4,1637.4a5.8,5.8 0 1,0 11.6,0a5.8,5.8 0 1,0 -11.6,0M1149.0,1636.8a5.8,5.8 0 1,0 11.6,0a5.8,5.8 0 1,0 -11.6,0M1151.6,1637.5a5.8,5.8 0 1,0 11.6,0a5.8,5.8 0 1,0 -11.6,0M1154.2,1637.5a5.8,5.8 0 1,0 11.6,0a5.8,5.8 0 1,0 -11.6,0M1156.8,1636.1a5.8,5.8 0 1,0 11.6,0a5.8,5.8 0 1,0 -11.6,0M1159.4,1636.6a5.8,5.8 0 1,0 11.6,0a5.8,5.8 0 1,0 -11.6,0M1162.0,1636.7a5.8,5.8 0 1,0 11.6,0a5.8,5.8 0 1,0 -11.6,0M1164.6,1638.2a5.8,5.8 0 1,0 11.6,0a5.8,5.8 0 1,0 -11.6,0M1167.2,1637.8a5.8,5.8 0 1,0 11.6,0a5.8,5.8 0 1,0 -11.6,0M1169.8,1636.3a5.8,5.8 0 1,0 11.6,0a5.8,5.8 0 1,0 -11.6,0M1172.4,1637.7a5.8,5.8 0 1,0 11.6,0a5.8,5.8 0 1,0 -11.6,0" fill="#000"/>
<polyline points="1224.0,1635.5 1260.0,1635.0 1300.0,1634.0 1340.0,1633.0 1380.0,1632.0 1420.0,1631.0 1469.0,1630.5" fill="none" stroke="#000" stroke-width="9.2" stroke-linecap="round" stroke-linejoin="round"/>
<path d="M1218.2,1636.2a5.8,5.8 0 1,0 11.6,0a5.8,5.8 0 1,0 -11.6,0M1220.8,1636.2a5.8,5.8 0 1,0 11.6,0a5.8,5.8 0 1,0 -11.6,0M1223.4,1635.4a5.8,5.8 0 1,0 11.6,0a5.8,5.8 0 1,0 -11.6,0M1226.0,1634.8a5.8,5.8 0 1,0 11.6,0a5.8,5.8 0 1,0 -11.6,0M1228.6,1634.2a5.8,5.8 0 1,0 11.6,0a5.8,5.8 0 1,0 -11.6,0M1231.2,1635.7a5.8,5.8 0 1,0 11.6,0a5.8,5.8 0 1,0 -11.6,0M1233.8,1635.2a5.8,5.8 0 1,0 11.6,0a5.8,5.8 0 1,0 -11.6,0M1236.4,1635.9a5.8,5.8 0 1,0 11.6,0a5.8,5.8 0 1,0 -11.6,0M1239.0,1634.9a5.8,5.8 0 1,0 11.6,0a5.8,5.8 0 1,0 -11.6,0M1241.6,1635.8a5.8,5.8 0 1,0 11.6,0a5.8,5.8 0 1,0 -11.6,0M1244.2,1634.6a5.8,5.8 0 1,0 11.6,0a5.8,5.8 0 1,0 -11.6,0M1246.8,1635.8a5.8,5.8 0 1,0 11.6,0a5.8,5.8 0 1,0 -11.6,0M1249.4,1635.6a5.8,5.8 0 1,0 11.6,0a5.8,5.8 0 1,0 -11.6,0M1252.0,1634.8a5.8,5.8 0 1,0 11.6,0a5.8,5.8 0 1,0 -11.6,0M1254.6,1635.1a5.8,5.8 0 1,0 11.6,0a5.8,5.8 0 1,0 -11.6,0M1257.2,1635.4a5.8,5.8 0 1,0 11.6,0a5.8,5.8 0 1,0 -11.6,0M1259.8,1634.1a5.8,5.8 0 1,0 11.6,0a5.8,5.8 0 1,0 -11.6,0M1262.4,1634.9a5.8,5.8 0 1,0 11.6,0a5.8,5.8 0 1,0 -11.6,0M1265.0,1635.5a5.8,5.8 0 1,0 11.6,0a5.8,5.8 0 1,0 -11.6,0M1267.6,1634.1a5.8,5.8 0 1,0 11.6,0a5.8,5.8 0 1,0 -11.6,0M1270.2,1635.3a5.8,5.8 0 1,0 11.6,0a5.8,5.8 0 1,0 -11.6,0M1272.8,1635.0a5.8,5.8 0 1,0 11.6,0a5.8,5.8 0 1,0 -11.6,0M1275.4,1635.3a5.8,5.8 0 1,0 11.6,0a5.8,5.8 0 1,0 -11.6,0M1278.0,1634.0a5.8,5.8 0 1,0 11.6,0a5.8,5.8 0 1,0 -11.6,0M1280.6,1633.4a5.8,5.8 0 1,0 11.6,0a5.8,5.8 0 1,0 -11.6,0M1283.2,1635.0a5.8,5.8 0 1,0 11.6,0a5.8,5.8 0 1,0 -11.6,0M1285.8,1634.9a5.8,5.8 0 1,0 11.6,0a5.8,5.8 0 1,0 -11.6,0M1288.4,1634.0a5.8,5.8 0 1,0 11.6,0a5.8,5.8 0 1,0 -11.6,0M1291.0,1633.1a5.8,5.8 0 1,0 11.6,0a5.8,5.8 0 1,0 -11.6,0M1293.6,1633.3a5.8,5.8 0 1,0 11.6,0a5.8,5.8 0 1,0 -11.6,0M1296.2,1634.3a5.8,5.8 0 1,0 11.6,0a5.8,5.8 0 1,0 -11.6,0M1298.8,1633.4a5.8,5.8 0 1,0 11.6,0a5.8,5.8 0 1,0 -11.6,0M1301.4,1634.9a5.8,5.8 0 1,0 11.6,0a5.8,5.8 0 1,0 -11.6,0M1304.0,1634.0a5.8,5.8 0 1,0 11.6,0a5.8,5.8 0 1,0 -11.6,0M1306.6,1633.0a5.8,5.8 0 1,0 11.6,0a5.8,5.8 0 1,0 -11.6,0M1309.2,1634.0a5.8,5.8 0 1,0 11.6,0a5.8,5.8 0 1,0 -11.6,0M1311.8,1633.2a5.8,5.8 0 1,0 11.6,0a5.8,5.8 0 1,0 -11.6,0M1314.4,1634.5a5.8,5.8 0 1,0 11.6,0a5.8,5.8 0 1,0 -11.6,0M1317.0,1634.4a5.8,5.8 0 1,0 11.6,0a5.8,5.8 0 1,0 -11.6,0M1319.6,1633.4a5.8,5.8 0 1,0 11.6,0a5.8,5.8 0 1,0 -11.6,0M1322.2,1633.6a5.8,5.8 0 1,0 11.6,0a5.8,5.8 0 1,0 -11.6,0M1324.8,1633.7a5.8,5.8 0 1,0 11.6,0a5.8,5.8 0 1,0 -11.6,0M1327.4,1633.9a5.8,5.8 0 1,0 11.6,0a5.8,5.8 0 1,0 -11.6,0M1330.0,1634.2a5.8,5.8 0 1,0 11.6,0a5.8,5.8 0 1,0 -11.6,0M1332.6,1631.9a5.8,5.8 0 1,0 11.6,0a5.8,5.8 0 1,0 -11.6,0M1335.2,1632.6a5.8,5.8 0 1,0 11.6,0a5.8,5.8 0 1,0 -11.6,0M1337.8,1633.2a5.8,5.8 0 1,0 11.6,0a5.8,5.8 0 1,0 -11.6,0M1340.4,1632.4a5.8,5.8 0 1,0 11.6,0a5.8,5.8 0 1,0 -11.6,0M1343.0,1633.0a5.8,5.8 0 1,0 11.6,0a5.8,5.8 0 1,0 -11.6,0M1345.6,1631.7a5.8,5.8 0 1,0 11.6,0a5.8,5.8 0 1,0 -11.6,0M1348.2,1633.6a5.8,5.8 0 1,0 11.6,0a5.8,5.8 0 1,0 -11.6,0M1350.8,1632.6a5.8,5.8 0 1,0 11.6,0a5.8,5.8 0 1,0 -11.6,0M1353.4,1631.6a5.8,5.8 0 1,0 11.6,0a5.8,5.8 0 1,0 -11.6,0M1356.0,1632.8a5.8,5.8 0 1,0 11.6,0a5.8,5.8 0 1,0 -11.6,0M1358.6,1631.9a5.8,5.8 0 1,0 11.6,0a5.8,5.8 0 1,0 -11.6,0M1361.2,1631.6a5.8,5.8 0 1,0 11.6,0a5.8,5.8 0 1,0 -11.6,0M1363.8,1632.2a5.8,5.8 0 1,0 11.6,0a5.8,5.8 0 1,0 -11.6,0M1366.4,1631.3a5.8,5.8 0 1,0 11.6,0a5.8,5.8 0 1,0 -11.6,0M1369.0,1631.4a5.8,5.8 0 1,0 11.6,0a5.8,5.8 0 1,0 -11.6,0M1371.6,1632.9a5.8,5.8 0 1,0 11.6,0a5.8,5.8 0 1,0 -11.6,0M1374.2,1632.5a5.8,5.8 0 1,0 11.6,0a5.8,5.8 0 1,0 -11.6,0M1376.8,1630.8a5.8,5.8 0 1,0 11.6,0a5.8,5.8 0 1,0 -11.6,0M1379.4,1632.5a5.8,5.8 0 1,0 11.6,0a5.8,5.8 0 1,0 -11.6,0M1382.0,1630.6a5.8,5.8 0 1,0 11.6,0a5.8,5.8 0 1,0 -11.6,0M1384.6,1631.3a5.8,5.8 0 1,0 11.6,0a5.8,5.8 0 1,0 -11.6,0M1387.2,1632.6a5.8,5.8 0 1,0 11.6,0a5.8,5.8 0 1,0 -11.6,0M1389.8,1631.9a5.8,5.8 0 1,0 11.6,0a5.8,5.8 0 1,0 -11.6,0M1392.4,1631.1a5.8,5.8 0 1,0 11.6,0a5.8,5.8 0 1,0 -11.6,0M1395.0,1631.2a5.8,5.8 0 1,0 11.6,0a5.8,5.8 0 1,0 -11.6,0M1397.6,1631.1a5.8,5.8 0 1,0 11.6,0a5.8,5.8 0 1,0 -11.6,0M1400.2,1630.5a5.8,5.8 0 1,0 11.6,0a5.8,5.8 0 1,0 -11.6,0M1402.8,1632.5a5.8,5.8 0 1,0 11.6,0a5.8,5.8 0 1,0 -11.6,0M1405.4,1630.1a5.8,5.8 0 1,0 11.6,0a5.8,5.8 0 1,0 -11.6,0M1408.0,1631.0a5.8,5.8 0 1,0 11.6,0a5.8,5.8 0 1,0 -11.6,0M1410.6,1631.7a5.8,5.8 0 1,0 11.6,0a5.8,5.8 0 1,0 -11.6,0M1413.2,1630.8a5.8,5.8 0 1,0 11.6,0a5.8,5.8 0 1,0 -11.6,0M1415.8,1632.1a5.8,5.8 0 1,0 11.6,0a5.8,5.8 0 1,0 -11.6,0M1418.4,1630.3a5.8,5.8 0 1,0 11.6,0a5.8,5.8 0 1,0 -11.6,0M1421.0,1632.1a5.8,5.8 0 1,0 11.6,0a5.8,5.8 0 1,0 -11.6,0M1423.6,1631.8a5.8,5.8 0 1,0 11.6,0a5.8,5.8 0 1,0 -11.6,0M1426.2,1631.3a5.8,5.8 0 1,0 11.6,0a5.8,5.8 0 1,0 -11.6,0M1428.8,1631.8a5.8,5.8 0 1,0 11.6,0a5.8,5.8 0 1,0 -11.6,0M1431.4,1630.7a5.8,5.8 0 1,0 11.6,0a5.8,5.8 0 1,0 -11.6,0M1434.0,1631.6a5.8,5.8 0 1,0 11.6,0a5.8,5.8 0 1,0 -11.6,0M1436.6,1631.5a5.8,5.8 0 1,0 11.6,0a5.8,5.8 0 1,0 -11.6,0M1439.2,1630.8a5.8,5.8 0 1,0 11.6,0a5.8,5.8 0 1,0 -11.6,0M1441.8,1630.6a5.8,5.8 0 1,0 11.6,0a5.8,5.8 0 1,0 -11.6,0M1444.4,1631.2a5.8,5.8 0 1,0 11.6,0a5.8,5.8 0 1,0 -11.6,0M1447.0,1630.4a5.8,5.8 0 1,0 11.6,0a5.8,5.8 0 1,0 -11.6,0M1449.6,1629.6a5.8,5.8 0 1,0 11.6,0a5.8,5.8 0 1,0 -11.6,0M1452.2,1631.2a5.8,5.8 0 1,0 11.6,0a5.8,5.8 0 1,0 -11.6,0M1454.8,1630.0a5.8,5.8 0 1,0 11.6,0a5.8,5.8 0 1,0 -11.6,0M1457.4,1630.5a5.8,5.8 0 1,0 11.6,0a5.8,5.8 0 1,0 -11.6,0M1460.0,1631.2a5.8,5.8 0 1,0 11.6,0a5.8,5.8 0 1,0 -11.6,0M1462.6,1629.7a5.8,5.8 0 1,0 11.6,0a5.8,5.8 0 1,0 -11.6,0" fill="#000"/>
<line x1="1117.5" y1="1599.0" x2="1117.5" y2="1674.8" stroke="#000" stroke-width="3"/>
<line x1="1117.5" y1="1601.2" x2="1130.5" y2="1601.2" stroke="#000" stroke-width="3"/>
<line x1="1117.5" y1="1625.5" x2="1130.5" y2="1625.5" stroke="#000" stroke-width="3"/>
<line x1="1117.5" y1="1649.4" x2="1130.5" y2="1649.4" stroke="#000" stroke-width="3"/>
<text x="1109.0" y="1632.8" font-size="26" text-anchor="end" stroke="#000">20</text>
<text x="1109.0" y="1682.3" font-size="26" text-anchor="end" stroke="#000">0</text>
<line x1="1116.0" y1="1673.3" x2="1475.1" y2="1673.3" stroke="#000" stroke-width="3"/>
<line x1="1180.9" y1="1673.3" x2="1180.9" y2="1660.3" stroke="#000" stroke-width="3"/>
<line x1="1218.3" y1="1673.3" x2="1218.3" y2="1660.3" stroke="#000" stroke-width="3"/>
<line x1="1281.7" y1="1673.3" x2="1281.7" y2="1660.3" stroke="#000" stroke-width="3"/>
<line x1="1345.1" y1="1673.3" x2="1345.1" y2="1660.3" stroke="#000" stroke-width="3"/>
<line x1="1409.2" y1="1673.3" x2="1409.2" y2="1660.3" stroke="#000" stroke-width="3"/>
<line x1="1472.6" y1="1673.3" x2="1472.6" y2="1660.3" stroke="#000" stroke-width="3"/>
<text x="1124.8" y="1698.1" font-size="26" text-anchor="middle" stroke="#000">-5</text>
<text x="1218.3" y="1698.1" font-size="26" text-anchor="middle" stroke="#000">0</text>
<text x="1281.0" y="1698.1" font-size="26" text-anchor="middle" stroke="#000">5</text>
<text x="1345.1" y="1698.1" font-size="26" text-anchor="middle" stroke="#000">10</text>
<text x="1410.2" y="1698.1" font-size="26" text-anchor="middle" stroke="#000">15</text>
<text x="1473.6" y="1698.1" font-size="26" text-anchor="middle" stroke="#000">20</text>
<text x="1053.4" y="1632.0" font-size="26.5" text-anchor="middle" stroke="#000" transform="rotate(-90 1053.4 1632.0)">Ra (MΩ)</text>
<text x="1288.3" y="1730.7" font-size="26.5" text-anchor="middle" stroke="#000">Time (min)</text>
<text x="116.8" y="1774.4" font-size="26.3" text-anchor="start" fill="#3196c8" stroke="#3196c8">PIL opto</text>
<line x1="164.2" y1="1785.0" x2="164.2" y2="1797.8" stroke="#2aa5df" stroke-width="3"/>
<polygon points="155.2,1796.8 173.2,1796.8 164.2,1830.8" fill="#2aa5df"/>
<line x1="312.0" y1="1838.5" x2="312.0" y2="1886.2" stroke="#000" stroke-width="2.0"/>
<polyline points="286.4,1858.2 287.5,1858.2 288.6,1856.8 289.7,1856.8 290.8,1858.0 291.9,1857.9 293.0,1857.8 294.2,1857.2 295.3,1857.7 296.4,1857.7 297.5,1857.6 298.6,1857.0 299.7,1857.4 300.8,1857.3 301.9,1857.9 303.0,1858.3 304.1,1858.2 305.2,1857.6 306.4,1857.4 307.5,1857.1 308.6,1856.8 309.7,1856.7 310.8,1857.4 311.9,1857.2 313.0,1857.3 314.2,1854.5 320.5,1797.7 321.4,1792.2 322.1,1790.7 323.0,1791.3 324.0,1794.2 325.1,1795.8 326.1,1797.9 327.1,1799.4 328.1,1801.1 329.2,1803.4 330.2,1805.0 331.2,1807.3 332.2,1809.8 333.3,1811.0 334.3,1811.8 335.3,1814.5 336.4,1815.8 337.4,1817.2 338.4,1818.8 339.4,1820.0 340.5,1821.3 341.5,1821.9 342.5,1824.1 343.6,1825.2 344.6,1825.1 345.6,1827.1 346.6,1828.1 347.7,1828.8 348.7,1829.9 349.7,1830.8 350.8,1832.4 351.8,1832.6 352.8,1834.0 353.8,1834.1 354.9,1835.7 355.9,1836.5 356.9,1836.6 357.9,1837.5 359.0,1838.8 360.0,1839.1 361.0,1839.4 362.1,1839.6 363.1,1840.4 364.1,1841.6 365.1,1841.3 366.2,1843.1 367.2,1842.6 368.2,1844.1 369.2,1843.7 370.3,1845.2 371.3,1845.2 372.3,1845.4 373.4,1845.8 374.4,1846.5 375.4,1846.8 376.4,1846.7 377.5,1846.9 378.5,1847.8 379.5,1848.8 380.6,1848.7 381.6,1848.1 382.6,1849.7 383.6,1849.8 384.7,1850.4 385.7,1849.6 386.7,1850.7 387.8,1849.9 388.8,1851.1 389.8,1850.8 390.8,1850.9 391.9,1852.2 392.9,1851.2 393.9,1852.1 394.9,1852.8 396.0,1852.1 397.0,1852.2 398.0,1853.5 399.1,1852.9 400.1,1853.6 401.1,1852.7 402.1,1853.4 403.2,1853.2 404.2,1854.2 405.2,1853.4 406.2,1854.9 407.3,1853.6 408.3,1854.8 409.3,1853.8 410.4,1854.3 411.4,1855.4 412.4,1854.4 413.4,1854.6 414.5,1855.5 415.5,1855.1" fill="none" stroke="#000" stroke-width="2.2" stroke-linecap="butt" stroke-linejoin="round"/>
<line x1="312.0" y1="1838.5" x2="312.0" y2="1886.2" stroke="#8a8a8a" stroke-width="2.0"/>
<polyline points="286.4,1857.1 287.5,1857.6 288.6,1857.3 289.7,1857.7 290.8,1857.7 291.9,1856.8 293.0,1856.7 294.2,1858.0 295.3,1857.1 296.4,1857.1 297.5,1858.3 298.6,1857.5 299.7,1858.0 300.8,1857.5 301.9,1857.7 303.0,1856.9 304.1,1857.7 305.2,1858.1 306.4,1857.5 307.5,1857.9 308.6,1857.8 309.7,1856.8 310.8,1857.9 311.9,1857.6 313.0,1857.2 314.2,1854.5 320.5,1818.8 321.4,1813.3 322.1,1811.8 323.0,1812.4 324.0,1813.2 325.1,1816.0 326.1,1816.8 327.1,1818.6 328.1,1820.2 329.2,1821.2 330.2,1822.8 331.2,1823.2 332.2,1825.0 333.3,1825.6 334.3,1827.4 335.3,1828.4 336.4,1828.2 337.4,1829.2 338.4,1830.3 339.4,1832.4 340.5,1832.5 341.5,1833.6 342.5,1833.9 343.6,1835.1 344.6,1835.6 345.6,1836.3 346.6,1837.4 347.7,1838.1 348.7,1839.3 349.7,1839.6 350.8,1840.7 351.8,1841.2 352.8,1842.0 353.8,1842.0 354.9,1841.8 355.9,1843.4 356.9,1844.1 357.9,1844.5 359.0,1844.4 360.0,1845.1 361.0,1844.8 362.1,1846.2 363.1,1846.2 364.1,1846.2 365.1,1846.2 366.2,1847.8 367.2,1848.4 368.2,1847.3 369.2,1848.8 370.3,1848.5 371.3,1848.4 372.3,1849.0 373.4,1850.0 374.4,1850.5 375.4,1849.4 376.4,1850.6 377.5,1850.0 378.5,1851.3 379.5,1850.9 380.6,1852.0 381.6,1852.4 382.6,1851.9 383.6,1852.9 384.7,1852.0 385.7,1851.8 386.7,1852.8 387.8,1852.1 388.8,1852.6 389.8,1853.1 390.8,1853.6 391.9,1853.0 392.9,1853.0 393.9,1854.4 394.9,1853.7 396.0,1854.9 397.0,1854.9 398.0,1854.2 399.1,1854.5 400.1,1854.7 401.1,1855.0 402.1,1855.1 403.2,1855.1 404.2,1855.3 405.2,1855.9 406.2,1855.3 407.3,1855.3 408.3,1855.9 409.3,1855.2 410.4,1855.4 411.4,1856.5 412.4,1855.9 413.4,1856.0 414.5,1855.2 415.5,1855.9" fill="none" stroke="#8a8a8a" stroke-width="2.2" stroke-linecap="butt" stroke-linejoin="round"/>
<polyline points="394.5,1868.5 418.9,1868.5 418.9,1843.5" fill="none" stroke="#000" stroke-width="2.5" stroke-linecap="butt" stroke-linejoin="miter"/>
<text x="433.0" y="1838.4" font-size="26" text-anchor="middle" stroke="#000" transform="rotate(90 433.0 1838.4)">50 pA</text>
<text x="417.2" y="1896.2" font-size="26" text-anchor="middle" stroke="#000">20 ms</text>
<line x1="110.1" y1="1893.5" x2="110.1" y2="1933.6" stroke="#000" stroke-width="2.8"/>
<line x1="122.8" y1="1894.2" x2="122.8" y2="1936.9" stroke="#000" stroke-width="2.8"/>
<line x1="136.8" y1="1894.2" x2="136.8" y2="1936.9" stroke="#000" stroke-width="2.8"/>
<line x1="150.2" y1="1895.2" x2="150.2" y2="1928.6" stroke="#000" stroke-width="2.8"/>
<line x1="164.2" y1="1913.6" x2="164.2" y2="1940.3" stroke="#000" stroke-width="2.8"/>
<line x1="177.6" y1="1933.6" x2="177.6" y2="1946.9" stroke="#000" stroke-width="2.8"/>
<line x1="218.6" y1="1930.3" x2="218.6" y2="1958.6" stroke="#000" stroke-width="2.8"/>
<line x1="246.3" y1="1930.3" x2="246.3" y2="1953.6" stroke="#000" stroke-width="2.8"/>
<line x1="327.8" y1="1948.6" x2="327.8" y2="1970.3" stroke="#000" stroke-width="2.8"/>
<line x1="369.5" y1="1953.6" x2="369.5" y2="1985.3" stroke="#000" stroke-width="2.8"/>
<line x1="383.2" y1="1970.3" x2="383.2" y2="1988.7" stroke="#000" stroke-width="2.8"/>
<circle cx="110.1" cy="1913.6" r="11.7" fill="#fff" stroke="#000" stroke-width="3.1"/>
<circle cx="122.8" cy="1916.2" r="11.7" fill="#fff" stroke="#000" stroke-width="3.1"/>
<circle cx="136.8" cy="1916.2" r="11.7" fill="#fff" stroke="#000" stroke-width="3.1"/>
<circle cx="150.2" cy="1912.9" r="11.7" fill="#fff" stroke="#000" stroke-width="3.1"/>
<circle cx="164.2" cy="1926.9" r="11.7" fill="#fff" stroke="#000" stroke-width="3.1"/>
<circle cx="177.6" cy="1939.6" r="11.7" fill="#fff" stroke="#000" stroke-width="3.1"/>
<circle cx="190.9" cy="1946.9" r="11.7" fill="#fff" stroke="#000" stroke-width="3.1"/>
<circle cx="205.3" cy="1940.3" r="11.7" fill="#fff" stroke="#000" stroke-width="3.1"/>
<circle cx="218.6" cy="1942.9" r="11.7" fill="#fff" stroke="#000" stroke-width="3.1"/>
<circle cx="232.6" cy="1946.9" r="11.7" fill="#fff" stroke="#000" stroke-width="3.1"/>
<circle cx="246.3" cy="1943.6" r="11.7" fill="#fff" stroke="#000" stroke-width="3.1"/>
<circle cx="260.3" cy="1958.6" r="11.7" fill="#fff" stroke="#000" stroke-width="3.1"/>
<circle cx="273.7" cy="1962.0" r="11.7" fill="#fff" stroke="#000" stroke-width="3.1"/>
<circle cx="287.0" cy="1961.3" r="11.7" fill="#fff" stroke="#000" stroke-width="3.1"/>
<circle cx="300.4" cy="1962.0" r="11.7" fill="#fff" stroke="#000" stroke-width="3.1"/>
<circle cx="314.4" cy="1965.3" r="11.7" fill="#fff" stroke="#000" stroke-width="3.1"/>
<circle cx="327.8" cy="1963.0" r="11.7" fill="#fff" stroke="#000" stroke-width="3.1"/>
<circle cx="342.1" cy="1970.3" r="11.7" fill="#fff" stroke="#000" stroke-width="3.1"/>
<circle cx="355.5" cy="1973.6" r="11.7" fill="#fff" stroke="#000" stroke-width="3.1"/>
<circle cx="369.5" cy="1969.6" r="11.7" fill="#fff" stroke="#000" stroke-width="3.1"/>
<circle cx="383.2" cy="1978.7" r="11.7" fill="#fff" stroke="#000" stroke-width="3.1"/>
<circle cx="396.5" cy="1971.3" r="11.7" fill="#fff" stroke="#000" stroke-width="3.1"/>
<circle cx="410.5" cy="1976.3" r="11.7" fill="#fff" stroke="#000" stroke-width="3.1"/>
<circle cx="423.9" cy="1973.6" r="11.7" fill="#fff" stroke="#000" stroke-width="3.1"/>
<circle cx="437.9" cy="1973.0" r="11.7" fill="#fff" stroke="#000" stroke-width="3.1"/>
<line x1="95.2" y1="1917.2" x2="425.7" y2="1917.2" stroke="#000" stroke-width="3.5" stroke-dasharray="13.5 12.9"/>
<text x="410.5" y="1959.0" font-size="45" text-anchor="middle" stroke="#000" font-weight="bold">**</text>
<line x1="387.2" y1="1952.0" x2="437.2" y2="1952.0" stroke="#000" stroke-width="4.5"/>
<text x="161.9" y="2014.7" font-size="26" text-anchor="middle" stroke="#000">(n=8)</text>
<line x1="96.8" y1="1796.9" x2="96.8" y2="2036.9" stroke="#000" stroke-width="3"/>
<line x1="96.8" y1="1798.4" x2="109.8" y2="1798.4" stroke="#000" stroke-width="3"/>
<line x1="96.8" y1="1857.5" x2="109.8" y2="1857.5" stroke="#000" stroke-width="3"/>
<line x1="96.8" y1="1916.9" x2="109.8" y2="1916.9" stroke="#000" stroke-width="3"/>
<line x1="96.8" y1="1976.3" x2="109.8" y2="1976.3" stroke="#000" stroke-width="3"/>
<text x="87.0" y="1812.4" font-size="26" text-anchor="end" stroke="#000">200</text>
<text x="87.0" y="1870.8" font-size="26" text-anchor="end" stroke="#000">150</text>
<text x="87.0" y="1929.2" font-size="26" text-anchor="end" stroke="#000">100</text>
<text x="87.0" y="1989.3" font-size="26" text-anchor="end" stroke="#000">50</text>
<text x="87.0" y="2041.0" font-size="26" text-anchor="end" stroke="#000">0</text>
<line x1="95.3" y1="2035.4" x2="439.4" y2="2035.4" stroke="#000" stroke-width="3"/>
<line x1="164.2" y1="2035.4" x2="164.2" y2="2022.4" stroke="#000" stroke-width="3"/>
<line x1="232.6" y1="2035.4" x2="232.6" y2="2022.4" stroke="#000" stroke-width="3"/>
<line x1="301.1" y1="2035.4" x2="301.1" y2="2022.4" stroke="#000" stroke-width="3"/>
<line x1="369.5" y1="2035.4" x2="369.5" y2="2022.4" stroke="#000" stroke-width="3"/>
<line x1="437.2" y1="2035.4" x2="437.2" y2="2022.4" stroke="#000" stroke-width="3"/>
<text x="90.1" y="2060.2" font-size="26" text-anchor="middle" stroke="#000">-5</text>
<text x="164.2" y="2060.2" font-size="26" text-anchor="middle" stroke="#000">0</text>
<text x="232.6" y="2060.2" font-size="26" text-anchor="middle" stroke="#000">5</text>
<text x="300.4" y="2060.2" font-size="26" text-anchor="middle" stroke="#000">10</text>
<text x="370.5" y="2060.2" font-size="26" text-anchor="middle" stroke="#000">15</text>
<text x="437.2" y="2060.2" font-size="26" text-anchor="middle" stroke="#000">20</text>
<text x="34.5" y="1918.5" font-size="26.5" text-anchor="middle" stroke="#000" transform="rotate(-90 34.5 1918.5)">Normalized IPSC (%)</text>
<text x="275.4" y="2097.1" font-size="26.5" text-anchor="middle" stroke="#000">Time (min)</text>
<text x="615.2" y="1774.4" font-size="26.3" text-anchor="start" fill="#3196c8" stroke="#3196c8">PIL opto</text>
<line x1="661.9" y1="1785.0" x2="661.9" y2="1798.8" stroke="#2aa5df" stroke-width="3"/>
<polygon points="652.9,1797.8 670.9,1797.8 661.9,1832.8" fill="#2aa5df"/>
<line x1="808.7" y1="1816.8" x2="808.7" y2="1862.8" stroke="#000" stroke-width="2.0"/>
<polyline points="782.0,1835.4 783.1,1835.2 784.1,1835.6 785.2,1835.2 786.3,1835.1 787.3,1835.6 788.4,1836.5 789.5,1836.3 790.5,1836.2 791.6,1835.4 792.7,1835.9 793.7,1835.4 794.8,1835.3 795.9,1835.2 796.9,1835.3 798.0,1836.5 799.0,1836.3 800.1,1836.3 801.2,1836.3 802.2,1835.3 803.3,1835.5 804.4,1836.0 805.4,1836.2 806.5,1836.4 807.6,1836.4 808.6,1835.1 809.7,1836.0 810.9,1832.8 815.5,1793.7 816.4,1788.2 817.1,1786.7 818.0,1787.3 819.0,1789.1 820.0,1790.3 821.0,1791.2 822.0,1793.0 823.0,1793.7 824.1,1796.3 825.1,1797.4 826.1,1798.1 827.1,1798.9 828.1,1801.0 829.1,1801.5 830.1,1803.0 831.1,1804.0 832.1,1804.4 833.1,1805.2 834.2,1806.4 835.2,1807.0 836.2,1807.4 837.2,1808.4 838.2,1810.0 839.2,1809.6 840.2,1810.3 841.2,1811.9 842.2,1812.1 843.2,1813.2 844.3,1813.7 845.3,1814.1 846.3,1815.8 847.3,1815.1 848.3,1816.0 849.3,1816.2 850.3,1817.4 851.3,1817.3 852.3,1817.9 853.4,1819.0 854.4,1818.8 855.4,1819.6 856.4,1820.6 857.4,1819.7 858.4,1820.1 859.4,1820.7 860.4,1822.0 861.4,1822.1 862.4,1821.8 863.5,1822.3 864.5,1822.4 865.5,1823.2 866.5,1822.8 867.5,1824.1 868.5,1824.7 869.5,1825.1 870.5,1825.0 871.5,1825.6 872.5,1824.4 873.5,1825.0 874.6,1826.4 875.6,1826.3 876.6,1825.9 877.6,1827.0 878.6,1826.7 879.6,1827.2 880.6,1826.5 881.6,1826.5 882.6,1827.1 883.6,1826.8 884.7,1827.3 885.7,1828.4 886.7,1827.6 887.7,1827.2 888.7,1827.4 889.7,1827.7 890.7,1828.9 891.7,1828.3 892.7,1828.3 893.8,1828.1 894.8,1829.7 895.8,1828.9 896.8,1828.7 897.8,1828.5 898.8,1828.6 899.8,1828.9 900.8,1829.8 901.8,1829.1 902.8,1829.0 903.9,1829.8 904.9,1829.5 905.9,1830.8 906.9,1829.4 907.9,1830.2 908.9,1830.6" fill="none" stroke="#000" stroke-width="2.2" stroke-linecap="butt" stroke-linejoin="round"/>
<line x1="808.7" y1="1816.8" x2="808.7" y2="1862.8" stroke="#8a8a8a" stroke-width="2.0"/>
<polyline points="782.0,1836.0 783.1,1836.2 784.1,1836.3 785.2,1836.6 786.3,1836.2 787.3,1836.6 788.4,1835.0 789.5,1835.7 790.5,1836.6 791.6,1836.1 792.7,1836.5 793.7,1835.1 794.8,1835.7 795.9,1835.3 796.9,1835.9 798.0,1835.9 799.0,1834.9 800.1,1835.3 801.2,1835.4 802.2,1836.5 803.3,1836.3 804.4,1835.2 805.4,1836.3 806.5,1835.1 807.6,1836.0 808.6,1835.1 809.7,1834.9 810.9,1832.8 815.5,1795.0 816.4,1789.5 817.1,1788.0 818.0,1788.6 819.0,1790.7 820.0,1791.0 821.0,1792.4 822.0,1795.1 823.0,1796.2 824.1,1796.4 825.1,1798.8 826.1,1799.2 827.1,1800.6 828.1,1800.8 829.1,1803.2 830.1,1803.7 831.1,1805.2 832.1,1806.0 833.1,1805.9 834.2,1806.9 835.2,1807.4 836.2,1808.2 837.2,1808.8 838.2,1810.0 839.2,1811.3 840.2,1810.9 841.2,1812.9 842.2,1812.9 843.2,1813.5 844.3,1815.1 845.3,1815.1 846.3,1815.4 847.3,1816.2 848.3,1817.2 849.3,1816.5 850.3,1818.7 851.3,1817.5 852.3,1819.3 853.4,1819.9 854.4,1818.9 855.4,1820.7 856.4,1820.3 857.4,1821.1 858.4,1820.5 859.4,1820.9 860.4,1821.5 861.4,1823.3 862.4,1822.3 863.5,1823.6 864.5,1824.2 865.5,1824.6 866.5,1823.8 867.5,1824.1 868.5,1824.7 869.5,1825.4 870.5,1824.4 871.5,1825.9 872.5,1826.2 873.5,1826.5 874.6,1825.3 875.6,1827.1 876.6,1825.8 877.6,1826.5 878.6,1827.1 879.6,1827.9 880.6,1827.0 881.6,1828.3 882.6,1827.7 883.6,1827.5 884.7,1827.7 885.7,1827.6 886.7,1827.5 887.7,1827.8 888.7,1828.9 889.7,1829.6 890.7,1828.2 891.7,1828.2 892.7,1830.0 893.8,1829.3 894.8,1829.2 895.8,1829.0 896.8,1829.7 897.8,1830.2 898.8,1829.7 899.8,1829.7 900.8,1829.1 901.8,1830.8 902.8,1829.3 903.9,1830.2 904.9,1830.9 905.9,1829.7 906.9,1830.9 907.9,1831.3 908.9,1830.8" fill="none" stroke="#8a8a8a" stroke-width="2.0" stroke-linecap="butt" stroke-linejoin="round"/>
<polyline points="891.2,1847.5 915.6,1847.5 915.6,1818.4" fill="none" stroke="#000" stroke-width="2.5" stroke-linecap="butt" stroke-linejoin="miter"/>
<text x="928.0" y="1816.8" font-size="26" text-anchor="middle" stroke="#000" transform="rotate(90 928.0 1816.8)">50 pA</text>
<text x="908.6" y="1870.2" font-size="26" text-anchor="middle" stroke="#000">20 ms</text>
<line x1="606.8" y1="1913.6" x2="606.8" y2="1940.3" stroke="#000" stroke-width="2.8"/>
<line x1="633.5" y1="1895.2" x2="633.5" y2="1920.2" stroke="#000" stroke-width="2.8"/>
<line x1="646.9" y1="1910.2" x2="646.9" y2="1936.9" stroke="#000" stroke-width="2.8"/>
<line x1="661.2" y1="1905.2" x2="661.2" y2="1938.6" stroke="#000" stroke-width="2.8"/>
<line x1="675.2" y1="1885.2" x2="675.2" y2="1913.6" stroke="#000" stroke-width="2.8"/>
<line x1="716.3" y1="1920.2" x2="716.3" y2="1940.3" stroke="#000" stroke-width="2.8"/>
<line x1="730.3" y1="1923.6" x2="730.3" y2="1943.6" stroke="#000" stroke-width="2.8"/>
<line x1="757.0" y1="1910.2" x2="757.0" y2="1938.6" stroke="#000" stroke-width="2.8"/>
<line x1="784.4" y1="1906.9" x2="784.4" y2="1936.9" stroke="#000" stroke-width="2.8"/>
<line x1="798.1" y1="1913.6" x2="798.1" y2="1933.6" stroke="#000" stroke-width="2.8"/>
<line x1="825.4" y1="1908.6" x2="825.4" y2="1928.6" stroke="#000" stroke-width="2.8"/>
<line x1="839.8" y1="1916.9" x2="839.8" y2="1946.9" stroke="#000" stroke-width="2.8"/>
<line x1="867.2" y1="1901.9" x2="867.2" y2="1936.9" stroke="#000" stroke-width="2.8"/>
<line x1="880.5" y1="1910.2" x2="880.5" y2="1941.9" stroke="#000" stroke-width="2.8"/>
<line x1="893.9" y1="1913.6" x2="893.9" y2="1936.9" stroke="#000" stroke-width="2.8"/>
<line x1="907.2" y1="1910.2" x2="907.2" y2="1930.3" stroke="#000" stroke-width="2.8"/>
<line x1="922.2" y1="1921.9" x2="922.2" y2="1945.3" stroke="#000" stroke-width="2.8"/>
<line x1="935.6" y1="1906.9" x2="935.6" y2="1936.9" stroke="#000" stroke-width="2.8"/>
<circle cx="606.8" cy="1925.2" r="11.7" fill="#fff" stroke="#000" stroke-width="3.1"/>
<circle cx="620.2" cy="1916.9" r="11.7" fill="#fff" stroke="#000" stroke-width="3.1"/>
<circle cx="633.5" cy="1908.6" r="11.7" fill="#fff" stroke="#000" stroke-width="3.1"/>
<circle cx="646.9" cy="1922.9" r="11.7" fill="#fff" stroke="#000" stroke-width="3.1"/>
<circle cx="661.2" cy="1916.9" r="11.7" fill="#fff" stroke="#000" stroke-width="3.1"/>
<circle cx="675.2" cy="1900.9" r="11.7" fill="#fff" stroke="#000" stroke-width="3.1"/>
<circle cx="688.6" cy="1913.6" r="11.7" fill="#fff" stroke="#000" stroke-width="3.1"/>
<circle cx="701.9" cy="1921.9" r="11.7" fill="#fff" stroke="#000" stroke-width="3.1"/>
<circle cx="716.3" cy="1920.2" r="11.7" fill="#fff" stroke="#000" stroke-width="3.1"/>
<circle cx="730.3" cy="1930.9" r="11.7" fill="#fff" stroke="#000" stroke-width="3.1"/>
<circle cx="743.7" cy="1920.2" r="11.7" fill="#fff" stroke="#000" stroke-width="3.1"/>
<circle cx="757.0" cy="1922.9" r="11.7" fill="#fff" stroke="#000" stroke-width="3.1"/>
<circle cx="771.0" cy="1911.9" r="11.7" fill="#fff" stroke="#000" stroke-width="3.1"/>
<circle cx="784.4" cy="1920.2" r="11.7" fill="#fff" stroke="#000" stroke-width="3.1"/>
<circle cx="798.1" cy="1922.9" r="11.7" fill="#fff" stroke="#000" stroke-width="3.1"/>
<circle cx="812.1" cy="1928.6" r="11.7" fill="#fff" stroke="#000" stroke-width="3.1"/>
<circle cx="825.4" cy="1918.6" r="11.7" fill="#fff" stroke="#000" stroke-width="3.1"/>
<circle cx="839.8" cy="1928.6" r="11.7" fill="#fff" stroke="#000" stroke-width="3.1"/>
<circle cx="853.1" cy="1921.9" r="11.7" fill="#fff" stroke="#000" stroke-width="3.1"/>
<circle cx="867.2" cy="1919.6" r="11.7" fill="#fff" stroke="#000" stroke-width="3.1"/>
<circle cx="880.5" cy="1921.9" r="11.7" fill="#fff" stroke="#000" stroke-width="3.1"/>
<circle cx="893.9" cy="1924.2" r="11.7" fill="#fff" stroke="#000" stroke-width="3.1"/>
<circle cx="907.2" cy="1920.2" r="11.7" fill="#fff" stroke="#000" stroke-width="3.1"/>
<circle cx="922.2" cy="1932.9" r="11.7" fill="#fff" stroke="#000" stroke-width="3.1"/>
<circle cx="935.6" cy="1921.9" r="11.7" fill="#fff" stroke="#000" stroke-width="3.1"/>
<line x1="600.8" y1="1916.9" x2="935.0" y2="1916.9" stroke="#000" stroke-width="3.5" stroke-dasharray="13.35 12.05"/>
<line x1="884.5" y1="1954.3" x2="935.6" y2="1954.3" stroke="#000" stroke-width="4.5"/>
<text x="909.9" y="1977.6" font-size="26" text-anchor="middle" stroke="#000">ns</text>
<text x="659.4" y="2014.7" font-size="26" text-anchor="middle" stroke="#000">(n=7)</text>
<line x1="594.1" y1="1796.9" x2="594.1" y2="2036.9" stroke="#000" stroke-width="3"/>
<line x1="594.1" y1="1798.4" x2="607.1" y2="1798.4" stroke="#000" stroke-width="3"/>
<line x1="594.1" y1="1857.5" x2="607.1" y2="1857.5" stroke="#000" stroke-width="3"/>
<line x1="594.1" y1="1916.9" x2="607.1" y2="1916.9" stroke="#000" stroke-width="3"/>
<line x1="594.1" y1="1976.3" x2="607.1" y2="1976.3" stroke="#000" stroke-width="3"/>
<text x="588.0" y="1809.0" font-size="26" text-anchor="end" stroke="#000">200</text>
<text x="588.0" y="1865.8" font-size="26" text-anchor="end" stroke="#000">150</text>
<text x="588.0" y="1925.9" font-size="26" text-anchor="end" stroke="#000">100</text>
<text x="588.0" y="1984.3" font-size="26" text-anchor="end" stroke="#000">50</text>
<text x="588.0" y="2041.0" font-size="26" text-anchor="end" stroke="#000">0</text>
<line x1="592.6" y1="2035.4" x2="937.1" y2="2035.4" stroke="#000" stroke-width="3"/>
<line x1="661.9" y1="2035.4" x2="661.9" y2="2022.4" stroke="#000" stroke-width="3"/>
<line x1="730.3" y1="2035.4" x2="730.3" y2="2022.4" stroke="#000" stroke-width="3"/>
<line x1="798.1" y1="2035.4" x2="798.1" y2="2022.4" stroke="#000" stroke-width="3"/>
<line x1="867.2" y1="2035.4" x2="867.2" y2="2022.4" stroke="#000" stroke-width="3"/>
<line x1="934.9" y1="2035.4" x2="934.9" y2="2022.4" stroke="#000" stroke-width="3"/>
<text x="588.5" y="2061.8" font-size="26" text-anchor="middle" stroke="#000">-5</text>
<text x="661.9" y="2061.8" font-size="26" text-anchor="middle" stroke="#000">0</text>
<text x="730.3" y="2061.8" font-size="26" text-anchor="middle" stroke="#000">5</text>
<text x="798.1" y="2061.8" font-size="26" text-anchor="middle" stroke="#000">10</text>
<text x="868.8" y="2061.8" font-size="26" text-anchor="middle" stroke="#000">15</text>
<text x="935.6" y="2061.8" font-size="26" text-anchor="middle" stroke="#000">20</text>
<text x="532.9" y="1917.0" font-size="26.5" text-anchor="middle" stroke="#000" transform="rotate(-90 532.9 1917.0)">Normalized IPSC (%)</text>
<text x="772.8" y="2097.8" font-size="26.5" text-anchor="middle" stroke="#000">Time (min)</text>
<text x="1138.2" y="1774.4" font-size="26.3" text-anchor="start" fill="#3196c8" stroke="#3196c8">PIL opto</text>
<line x1="1188.9" y1="1782.7" x2="1188.9" y2="1796.8" stroke="#2aa5df" stroke-width="3"/>
<polygon points="1179.9,1795.8 1197.9,1795.8 1188.9,1831.8" fill="#2aa5df"/>
<line x1="1340.1" y1="1779.4" x2="1340.1" y2="1846.8" stroke="#8a8a8a" stroke-width="2.0"/>
<polyline points="1311.8,1827.7 1312.3,1827.4 1312.8,1828.3 1313.4,1827.2 1313.9,1828.1 1314.4,1827.8 1314.9,1827.2 1315.5,1828.0 1316.0,1827.2 1316.5,1827.9 1317.0,1827.2 1317.6,1827.3 1318.1,1827.9 1318.6,1828.6 1319.1,1827.3 1319.6,1827.5 1320.2,1828.2 1320.7,1828.8 1321.2,1828.1 1321.7,1827.8 1322.3,1828.9 1322.8,1827.2 1323.3,1828.6 1323.8,1827.6 1324.4,1827.4 1324.9,1827.3 1325.4,1827.7 1325.9,1828.6 1326.4,1827.4 1327.0,1828.1 1327.5,1828.3 1328.0,1827.8 1328.5,1828.1 1329.1,1827.2 1329.6,1827.2 1330.1,1827.5 1330.6,1828.3 1331.2,1827.9 1331.7,1827.7 1332.2,1828.2 1332.7,1827.9 1333.3,1827.6 1333.8,1828.5 1334.3,1828.4 1334.8,1827.5 1335.3,1828.1 1335.9,1828.0 1336.4,1828.7 1336.9,1828.4 1337.4,1827.6 1338.0,1828.9 1338.5,1827.3 1339.0,1827.9 1339.5,1828.5 1340.1,1827.4 1340.6,1828.0 1341.1,1827.2 1342.3,1825.0 1350.6,1756.3 1351.5,1750.8 1352.2,1749.3 1353.1,1749.9 1353.6,1751.6 1354.1,1753.1 1354.6,1754.1 1355.1,1756.0 1355.6,1756.3 1356.1,1758.2 1356.6,1759.3 1357.1,1760.5 1357.5,1761.5 1358.0,1763.4 1358.5,1764.7 1359.0,1765.0 1359.5,1766.5 1360.0,1766.5 1360.5,1768.8 1361.0,1769.7 1361.5,1771.4 1362.0,1772.1 1362.5,1772.2 1363.0,1773.4 1363.5,1774.9 1364.0,1774.7 1364.5,1776.4 1365.0,1776.8 1365.5,1777.7 1365.9,1778.5 1366.4,1780.6 1366.9,1780.4 1367.4,1781.4 1367.9,1782.5 1368.4,1784.2 1368.9,1783.6 1369.4,1785.1 1369.9,1786.1 1370.4,1787.4 1370.9,1788.1 1371.4,1788.9 1371.9,1788.6 1372.4,1789.6 1372.9,1790.2 1373.4,1791.8 1373.8,1792.6 1374.3,1791.9 1374.8,1792.6 1375.3,1793.3 1375.8,1794.0 1376.3,1795.1 1376.8,1795.9 1377.3,1795.9 1377.8,1796.0 1378.3,1797.4 1378.8,1797.9 1379.3,1798.8 1379.8,1800.1 1380.3,1800.1 1380.8,1800.4 1381.3,1801.1 1381.8,1801.7 1382.2,1801.1 1382.7,1803.1 1383.2,1803.4 1383.7,1804.1 1384.2,1804.4 1384.7,1804.2 1385.2,1804.6 1385.7,1804.6 1386.2,1806.0 1386.7,1805.4 1387.2,1805.8 1387.7,1806.5 1388.2,1806.9 1388.7,1807.6 1389.2,1807.5 1389.7,1807.8 1390.2,1808.4 1390.6,1808.7 1391.1,1809.6 1391.6,1809.4 1392.1,1811.3 1392.6,1811.1 1393.1,1810.7 1393.6,1811.2 1394.1,1811.7 1394.6,1812.1 1395.1,1812.0 1395.6,1813.6 1396.1,1814.2 1396.6,1813.6 1397.1,1813.9 1397.6,1813.5 1398.1,1813.8 1398.5,1814.5 1399.0,1814.7 1399.5,1816.0 1400.0,1815.1 1400.5,1815.1 1401.0,1817.0 1401.5,1816.5 1402.0,1816.1 1402.5,1817.1 1403.0,1816.4 1403.5,1817.6 1404.0,1818.6 1404.5,1818.6 1405.0,1818.6 1405.5,1818.0 1406.0,1818.4 1406.5,1818.3 1406.9,1819.6 1407.4,1819.4 1407.9,1820.1 1408.4,1819.5 1408.9,1819.5 1409.4,1820.7 1409.9,1821.2 1410.4,1821.2 1410.9,1821.3 1411.4,1821.5 1411.9,1821.6 1412.4,1820.8 1412.9,1821.5 1413.4,1821.4 1413.9,1821.0 1414.4,1821.2 1414.9,1821.8 1415.3,1821.9 1415.8,1822.9 1416.3,1823.5 1416.8,1822.7 1417.3,1823.8 1417.8,1824.0 1418.3,1824.1 1418.8,1823.2 1419.3,1823.1 1419.8,1823.2 1420.3,1823.3 1420.8,1823.5 1421.3,1824.3 1421.8,1825.0 1422.3,1825.0 1422.8,1824.5 1423.2,1824.9 1423.7,1825.3 1424.2,1824.1 1424.7,1825.3 1425.2,1825.9 1425.7,1825.7 1426.2,1825.8 1426.7,1825.4 1427.2,1825.0 1427.7,1826.2 1428.2,1825.5 1428.7,1826.4 1429.2,1826.8 1429.7,1825.9 1430.2,1826.0 1430.7,1827.1 1431.2,1826.8 1431.6,1825.9 1432.1,1825.9 1432.6,1826.0 1433.1,1827.5 1433.6,1827.4 1434.1,1826.3 1434.6,1827.6 1435.1,1827.9 1435.6,1827.4 1436.1,1827.0 1436.6,1827.4 1437.1,1826.7 1437.6,1826.6 1438.1,1828.4 1438.6,1827.9 1439.1,1827.7 1439.6,1828.6 1440.0,1827.7 1440.5,1828.6 1441.0,1828.6 1441.5,1827.5 1442.0,1827.7 1442.5,1827.8 1443.0,1827.8 1443.5,1828.5 1444.0,1827.9 1444.5,1828.3 1445.0,1827.8 1445.5,1829.3 1446.0,1828.3 1446.5,1828.6 1447.0,1828.9 1447.5,1829.5 1447.9,1828.7 1448.4,1829.6 1448.9,1828.9 1449.4,1829.0 1449.9,1829.1 1450.4,1828.2 1450.9,1829.0 1451.4,1828.6 1451.9,1828.3" fill="none" stroke="#000" stroke-width="2.0" stroke-linecap="butt" stroke-linejoin="round"/>
<polyline points="1311.8,1829.4 1312.1,1829.5 1312.5,1827.9 1312.8,1826.9 1313.1,1825.6 1313.5,1828.8 1313.8,1827.9 1314.1,1829.2 1314.5,1827.4 1314.8,1829.3 1315.1,1826.9 1315.5,1829.4 1315.8,1829.1 1316.1,1827.6 1316.5,1828.2 1316.8,1828.9 1317.1,1826.5 1317.5,1828.3 1317.8,1829.5 1318.1,1826.9 1318.5,1829.5 1318.8,1828.9 1319.1,1829.7 1319.5,1827.2 1319.8,1826.0 1320.1,1829.4 1320.5,1829.5 1320.8,1827.7 1321.1,1826.1 1321.5,1826.5 1321.8,1828.6 1322.1,1827.0 1322.5,1830.2 1322.8,1828.4 1323.1,1826.6 1323.5,1828.7 1323.8,1827.3 1324.1,1830.1 1324.5,1830.0 1324.8,1828.1 1325.1,1828.7 1325.5,1828.9 1325.8,1829.5 1326.1,1830.3 1326.4,1825.7 1326.8,1827.3 1327.1,1828.5 1327.4,1827.1 1327.8,1828.4 1328.1,1826.0 1328.4,1829.8 1328.8,1828.1 1329.1,1826.2 1329.4,1828.8 1329.8,1827.1 1330.1,1826.5 1330.4,1827.9 1330.8,1826.3 1331.1,1826.6 1331.4,1829.8 1331.8,1829.0 1332.1,1825.7 1332.4,1829.3 1332.8,1825.7 1333.1,1827.2 1333.4,1829.9 1333.8,1828.6 1334.1,1827.1 1334.4,1827.4 1334.8,1827.5 1335.1,1826.2 1335.4,1830.4 1335.8,1825.9 1336.1,1827.6 1336.4,1829.2 1336.8,1827.5 1337.1,1830.3 1337.4,1826.8 1337.8,1830.3 1338.1,1829.9 1338.4,1828.8 1338.8,1829.9 1339.1,1827.7 1339.4,1829.6 1339.8,1829.4 1340.1,1828.1 1340.4,1827.9 1340.8,1829.0 1341.1,1827.6 1342.3,1825.0 1347.4,1805.1 1348.3,1799.6 1349.0,1798.1 1349.9,1798.7 1350.2,1796.9 1350.5,1800.2 1350.9,1798.1 1351.2,1799.3 1351.5,1800.9 1351.8,1798.2 1352.1,1797.6 1352.5,1798.3 1352.8,1800.7 1353.1,1799.8 1353.4,1799.4 1353.7,1800.5 1354.0,1803.0 1354.4,1799.9 1354.7,1800.8 1355.0,1803.2 1355.3,1802.1 1355.6,1800.6 1356.0,1801.8 1356.3,1802.0 1356.6,1800.5 1356.9,1801.8 1357.2,1801.6 1357.6,1804.2 1357.9,1802.0 1358.2,1803.8 1358.5,1805.4 1358.8,1805.3 1359.1,1802.9 1359.5,1804.1 1359.8,1802.9 1360.1,1803.4 1360.4,1804.0 1360.7,1805.6 1361.1,1806.4 1361.4,1803.5 1361.7,1802.3 1362.0,1804.5 1362.3,1802.8 1362.7,1802.8 1363.0,1806.5 1363.3,1803.5 1363.6,1806.5 1363.9,1805.0 1364.2,1807.9 1364.6,1807.6 1364.9,1803.9 1365.2,1804.7 1365.5,1808.5 1365.8,1807.0 1366.2,1806.2 1366.5,1808.1 1366.8,1808.3 1367.1,1806.9 1367.4,1807.0 1367.8,1805.3 1368.1,1806.7 1368.4,1805.8 1368.7,1808.2 1369.0,1808.3 1369.3,1806.2 1369.7,1808.6 1370.0,1806.2 1370.3,1806.3 1370.6,1809.1 1370.9,1808.3 1371.3,1810.5 1371.6,1809.4 1371.9,1809.8 1372.2,1807.2 1372.5,1810.7 1372.9,1807.2 1373.2,1809.9 1373.5,1811.4 1373.8,1811.5 1374.1,1811.6 1374.4,1809.6 1374.8,1810.8 1375.1,1811.4 1375.4,1808.4 1375.7,1812.4 1376.0,1812.3 1376.4,1810.2 1376.7,1811.9 1377.0,1810.4 1377.3,1809.7 1377.6,1811.9 1378.0,1808.9 1378.3,1812.6 1378.6,1813.5 1378.9,1810.3 1379.2,1813.5 1379.5,1809.5 1379.9,1813.4 1380.2,1810.7 1380.5,1814.1 1380.8,1811.6 1381.1,1814.1 1381.5,1809.9 1381.8,1810.3 1382.1,1813.9 1382.4,1813.1 1382.7,1812.7 1383.1,1810.4 1383.4,1811.2 1383.7,1812.2 1384.0,1810.8 1384.3,1815.4 1384.6,1814.4 1385.0,1815.4 1385.3,1814.3 1385.6,1812.7 1385.9,1811.5 1386.2,1814.7 1386.6,1811.8 1386.9,1814.0 1387.2,1813.7 1387.5,1813.9 1387.8,1812.0 1388.2,1812.1 1388.5,1814.3 1388.8,1812.1 1389.1,1814.5 1389.4,1812.8 1389.7,1813.5 1390.1,1813.0 1390.4,1815.1 1390.7,1814.3 1391.0,1813.6 1391.3,1813.7 1391.7,1815.4 1392.0,1817.1 1392.3,1814.9 1392.6,1813.7 1392.9,1814.5 1393.2,1814.2 1393.6,1815.9 1393.9,1817.0 1394.2,1816.1 1394.5,1814.3 1394.8,1815.1 1395.2,1815.4 1395.5,1815.8 1395.8,1815.6 1396.1,1818.6 1396.4,1816.5 1396.8,1817.1 1397.1,1817.5 1397.4,1817.2 1397.7,1818.0 1398.0,1816.0 1398.4,1817.5 1398.7,1819.1 1399.0,1815.3 1399.3,1817.6 1399.6,1816.5 1399.9,1815.0 1400.3,1815.0 1400.6,1818.5 1400.9,1815.5 1401.2,1818.4 1401.5,1815.5 1401.9,1816.9 1402.2,1815.3 1402.5,1817.9 1402.8,1819.1 1403.1,1816.5 1403.5,1818.2 1403.8,1820.0 1404.1,1817.0 1404.4,1817.9 1404.7,1819.2 1405.0,1819.9 1405.4,1816.7 1405.7,1819.1 1406.0,1816.6 1406.3,1816.6 1406.6,1820.8 1407.0,1816.4 1407.3,1820.7 1407.6,1819.9 1407.9,1819.6 1408.2,1819.9 1408.6,1819.6 1408.9,1817.9 1409.2,1818.7 1409.5,1817.6 1409.8,1820.9 1410.1,1820.5 1410.5,1820.6 1410.8,1817.9 1411.1,1819.8 1411.4,1818.3 1411.7,1820.9 1412.1,1820.7 1412.4,1822.0 1412.7,1820.7 1413.0,1820.6 1413.3,1821.1 1413.7,1817.9 1414.0,1820.3 1414.3,1817.7 1414.6,1819.4 1414.9,1818.2 1415.2,1822.3 1415.6,1817.9 1415.9,1822.2 1416.2,1822.4 1416.5,1820.0 1416.8,1822.0 1417.2,1818.3 1417.5,1818.8 1417.8,1818.2 1418.1,1818.5 1418.4,1818.2 1418.8,1822.3 1419.1,1818.8 1419.4,1821.2 1419.7,1819.8 1420.0,1819.1 1420.3,1820.6 1420.7,1819.5 1421.0,1823.3 1421.3,1820.5 1421.6,1821.6 1421.9,1821.5 1422.3,1821.8 1422.6,1821.2 1422.9,1820.2 1423.2,1819.6 1423.5,1823.3 1423.9,1820.0 1424.2,1821.3 1424.5,1823.0 1424.8,1822.0 1425.1,1823.8 1425.4,1823.2 1425.8,1821.8 1426.1,1820.0 1426.4,1822.3 1426.7,1821.7 1427.0,1823.7 1427.4,1822.1 1427.7,1822.9 1428.0,1823.5 1428.3,1822.0 1428.6,1823.8 1429.0,1824.1 1429.3,1820.6 1429.6,1824.3 1429.9,1824.1 1430.2,1824.1 1430.5,1821.6 1430.9,1821.2 1431.2,1820.7 1431.5,1821.9 1431.8,1824.3 1432.1,1821.9 1432.5,1820.3 1432.8,1821.7 1433.1,1820.7 1433.4,1823.3 1433.7,1824.1 1434.1,1824.9 1434.4,1820.9 1434.7,1822.3 1435.0,1821.1 1435.3,1824.9 1435.6,1824.6 1436.0,1823.1 1436.3,1825.3 1436.6,1823.2 1436.9,1824.5 1437.2,1823.1 1437.6,1822.6 1437.9,1825.6 1438.2,1825.0 1438.5,1823.8 1438.8,1825.1 1439.2,1824.1 1439.5,1824.9 1439.8,1821.4 1440.1,1821.8 1440.4,1821.7 1440.7,1824.1 1441.1,1824.7 1441.4,1822.0 1441.7,1823.7 1442.0,1821.9 1442.3,1824.7 1442.7,1825.1 1443.0,1821.8 1443.3,1826.2 1443.6,1824.7 1443.9,1822.1 1444.2,1823.2 1444.6,1822.3 1444.9,1825.1 1445.2,1826.1 1445.5,1822.5 1445.8,1822.6 1446.2,1824.8 1446.5,1825.9 1446.8,1825.4 1447.1,1824.0 1447.4,1822.4 1447.8,1824.8 1448.1,1824.1 1448.4,1825.8 1448.7,1824.7 1449.0,1825.5 1449.4,1826.7 1449.7,1825.1 1450.0,1826.5 1450.3,1823.4 1450.6,1822.2 1450.9,1826.4 1451.3,1822.4 1451.6,1827.0 1451.9,1824.5" fill="none" stroke="#8a8a8a" stroke-width="2.0" stroke-linecap="butt" stroke-linejoin="round"/>
<polyline points="1433.6,1843.5 1465.3,1843.5 1465.3,1801.7" fill="none" stroke="#000" stroke-width="2.5" stroke-linecap="butt" stroke-linejoin="miter"/>
<text x="1476.0" y="1812.6" font-size="26" text-anchor="middle" stroke="#000" transform="rotate(90 1476.0 1812.6)">20 pA</text>
<text x="1457.0" y="1866.8" font-size="26" text-anchor="middle" stroke="#000">20 ms</text>
<line x1="1130.8" y1="1833.5" x2="1130.8" y2="1893.5" stroke="#000" stroke-width="2.8"/>
<line x1="1144.9" y1="1845.1" x2="1144.9" y2="1886.9" stroke="#000" stroke-width="2.8"/>
<line x1="1159.9" y1="1876.8" x2="1159.9" y2="1930.3" stroke="#000" stroke-width="2.8"/>
<line x1="1173.2" y1="1853.5" x2="1173.2" y2="1903.6" stroke="#000" stroke-width="2.8"/>
<line x1="1188.3" y1="1843.5" x2="1188.3" y2="1911.9" stroke="#000" stroke-width="2.8"/>
<line x1="1201.6" y1="1871.8" x2="1201.6" y2="1913.6" stroke="#000" stroke-width="2.8"/>
<line x1="1216.6" y1="1858.5" x2="1216.6" y2="1921.9" stroke="#000" stroke-width="2.8"/>
<line x1="1230.6" y1="1860.2" x2="1230.6" y2="1918.6" stroke="#000" stroke-width="2.8"/>
<line x1="1245.0" y1="1846.8" x2="1245.0" y2="1880.2" stroke="#000" stroke-width="2.8"/>
<line x1="1259.0" y1="1856.8" x2="1259.0" y2="1906.9" stroke="#000" stroke-width="2.8"/>
<line x1="1273.4" y1="1890.2" x2="1273.4" y2="1916.9" stroke="#000" stroke-width="2.8"/>
<line x1="1301.7" y1="1903.6" x2="1301.7" y2="1953.6" stroke="#000" stroke-width="2.8"/>
<line x1="1315.8" y1="1905.2" x2="1315.8" y2="1948.6" stroke="#000" stroke-width="2.8"/>
<line x1="1330.1" y1="1890.2" x2="1330.1" y2="1943.6" stroke="#000" stroke-width="2.8"/>
<line x1="1344.5" y1="1910.2" x2="1344.5" y2="1946.9" stroke="#000" stroke-width="2.8"/>
<line x1="1372.5" y1="1896.9" x2="1372.5" y2="1933.6" stroke="#000" stroke-width="2.8"/>
<line x1="1401.9" y1="1871.8" x2="1401.9" y2="1921.9" stroke="#000" stroke-width="2.8"/>
<line x1="1415.9" y1="1908.6" x2="1415.9" y2="1963.6" stroke="#000" stroke-width="2.8"/>
<line x1="1430.2" y1="1890.2" x2="1430.2" y2="1926.9" stroke="#000" stroke-width="2.8"/>
<line x1="1444.6" y1="1886.9" x2="1444.6" y2="1951.9" stroke="#000" stroke-width="2.8"/>
<circle cx="1130.8" cy="1862.8" r="11.7" fill="#fff" stroke="#000" stroke-width="3.1"/>
<circle cx="1144.9" cy="1866.2" r="11.7" fill="#fff" stroke="#000" stroke-width="3.1"/>
<circle cx="1159.9" cy="1901.2" r="11.7" fill="#fff" stroke="#000" stroke-width="3.1"/>
<circle cx="1173.2" cy="1876.8" r="11.7" fill="#fff" stroke="#000" stroke-width="3.1"/>
<circle cx="1188.3" cy="1877.5" r="11.7" fill="#fff" stroke="#000" stroke-width="3.1"/>
<circle cx="1201.6" cy="1891.9" r="11.7" fill="#fff" stroke="#000" stroke-width="3.1"/>
<circle cx="1216.6" cy="1890.9" r="11.7" fill="#fff" stroke="#000" stroke-width="3.1"/>
<circle cx="1230.6" cy="1886.9" r="11.7" fill="#fff" stroke="#000" stroke-width="3.1"/>
<circle cx="1245.0" cy="1863.5" r="11.7" fill="#fff" stroke="#000" stroke-width="3.1"/>
<circle cx="1259.0" cy="1889.5" r="11.7" fill="#fff" stroke="#000" stroke-width="3.1"/>
<circle cx="1273.4" cy="1903.6" r="11.7" fill="#fff" stroke="#000" stroke-width="3.1"/>
<circle cx="1287.7" cy="1923.6" r="11.7" fill="#fff" stroke="#000" stroke-width="3.1"/>
<circle cx="1301.7" cy="1928.6" r="11.7" fill="#fff" stroke="#000" stroke-width="3.1"/>
<circle cx="1315.8" cy="1926.2" r="11.7" fill="#fff" stroke="#000" stroke-width="3.1"/>
<circle cx="1330.1" cy="1915.2" r="11.7" fill="#fff" stroke="#000" stroke-width="3.1"/>
<circle cx="1344.5" cy="1928.6" r="11.7" fill="#fff" stroke="#000" stroke-width="3.1"/>
<circle cx="1358.5" cy="1916.9" r="11.7" fill="#fff" stroke="#000" stroke-width="3.1"/>
<circle cx="1372.5" cy="1916.9" r="11.7" fill="#fff" stroke="#000" stroke-width="3.1"/>
<circle cx="1386.9" cy="1926.9" r="11.7" fill="#fff" stroke="#000" stroke-width="3.1"/>
<circle cx="1401.9" cy="1896.9" r="11.7" fill="#fff" stroke="#000" stroke-width="3.1"/>
<circle cx="1415.9" cy="1931.9" r="11.7" fill="#fff" stroke="#000" stroke-width="3.1"/>
<circle cx="1430.2" cy="1908.6" r="11.7" fill="#fff" stroke="#000" stroke-width="3.1"/>
<circle cx="1444.6" cy="1918.6" r="11.7" fill="#fff" stroke="#000" stroke-width="3.1"/>
<line x1="1117.4" y1="1876.8" x2="1463.5" y2="1876.8" stroke="#000" stroke-width="3.5" stroke-dasharray="16.5 16.4"/>
<line x1="1392.5" y1="1979.7" x2="1445.3" y2="1979.7" stroke="#000" stroke-width="4.5"/>
<text x="1417.7" y="2019.2" font-size="45" text-anchor="middle" stroke="#000" font-weight="bold">**</text>
<text x="1180.0" y="2016.3" font-size="26" text-anchor="middle" stroke="#000">(n=8)</text>
<line x1="1117.2" y1="1796.9" x2="1117.2" y2="2036.9" stroke="#000" stroke-width="3"/>
<line x1="1117.2" y1="1798.4" x2="1130.2" y2="1798.4" stroke="#000" stroke-width="3"/>
<line x1="1117.2" y1="1876.8" x2="1130.2" y2="1876.8" stroke="#000" stroke-width="3"/>
<line x1="1117.2" y1="1956.3" x2="1130.2" y2="1956.3" stroke="#000" stroke-width="3"/>
<text x="1109.0" y="1809.0" font-size="26" text-anchor="end" stroke="#000">150</text>
<text x="1109.0" y="1884.1" font-size="26" text-anchor="end" stroke="#000">100</text>
<text x="1109.0" y="1964.3" font-size="26" text-anchor="end" stroke="#000">50</text>
<text x="1109.0" y="2046.0" font-size="26" text-anchor="end" stroke="#000">0</text>
<line x1="1115.7" y1="2035.4" x2="1474.1" y2="2035.4" stroke="#000" stroke-width="3"/>
<line x1="1188.3" y1="2035.4" x2="1188.3" y2="2022.4" stroke="#000" stroke-width="3"/>
<line x1="1259.0" y1="2035.4" x2="1259.0" y2="2022.4" stroke="#000" stroke-width="3"/>
<line x1="1330.1" y1="2035.4" x2="1330.1" y2="2022.4" stroke="#000" stroke-width="3"/>
<line x1="1401.9" y1="2035.4" x2="1401.9" y2="2022.4" stroke="#000" stroke-width="3"/>
<line x1="1472.0" y1="2035.4" x2="1472.0" y2="2022.4" stroke="#000" stroke-width="3"/>
<text x="1121.5" y="2068.5" font-size="26" text-anchor="middle" stroke="#000">-5</text>
<text x="1189.9" y="2068.5" font-size="26" text-anchor="middle" stroke="#000">0</text>
<text x="1260.0" y="2068.5" font-size="26" text-anchor="middle" stroke="#000">5</text>
<text x="1331.1" y="2068.5" font-size="26" text-anchor="middle" stroke="#000">10</text>
<text x="1403.5" y="2068.5" font-size="26" text-anchor="middle" stroke="#000">15</text>
<text x="1475.3" y="2068.5" font-size="26" text-anchor="middle" stroke="#000">20</text>
<text x="1051.7" y="1916.0" font-size="26.5" text-anchor="middle" stroke="#000" transform="rotate(-90 1051.7 1916.0)">Normalized IPSC (%)</text>
<text x="1288.3" y="2102.1" font-size="26.5" text-anchor="middle" stroke="#000">Time (min)</text>
<text x="116.8" y="2141.4" font-size="26.3" text-anchor="start" fill="#3196c8" stroke="#3196c8">PIL opto</text>
<line x1="165.2" y1="2149.0" x2="165.2" y2="2161.8" stroke="#2aa5df" stroke-width="3"/>
<polygon points="156.2,2160.8 174.2,2160.8 165.2,2194.8" fill="#2aa5df"/>
<line x1="110.1" y1="2217.5" x2="110.1" y2="2305.9" stroke="#000" stroke-width="2.8"/>
<line x1="124.2" y1="2222.5" x2="124.2" y2="2324.3" stroke="#000" stroke-width="2.8"/>
<line x1="136.8" y1="2232.5" x2="136.8" y2="2302.6" stroke="#000" stroke-width="2.8"/>
<line x1="150.9" y1="2212.5" x2="150.9" y2="2312.6" stroke="#000" stroke-width="2.8"/>
<line x1="165.2" y1="2230.8" x2="165.2" y2="2317.6" stroke="#000" stroke-width="2.8"/>
<line x1="178.6" y1="2246.9" x2="178.6" y2="2329.3" stroke="#000" stroke-width="2.8"/>
<line x1="191.9" y1="2297.6" x2="191.9" y2="2329.3" stroke="#000" stroke-width="2.8"/>
<line x1="219.6" y1="2272.6" x2="219.6" y2="2336.0" stroke="#000" stroke-width="2.8"/>
<line x1="247.0" y1="2265.9" x2="247.0" y2="2321.0" stroke="#000" stroke-width="2.8"/>
<line x1="260.3" y1="2304.3" x2="260.3" y2="2339.3" stroke="#000" stroke-width="2.8"/>
<line x1="274.4" y1="2314.3" x2="274.4" y2="2352.7" stroke="#000" stroke-width="2.8"/>
<line x1="287.7" y1="2287.6" x2="287.7" y2="2334.3" stroke="#000" stroke-width="2.8"/>
<line x1="301.4" y1="2280.9" x2="301.4" y2="2346.0" stroke="#000" stroke-width="2.8"/>
<line x1="315.4" y1="2269.2" x2="315.4" y2="2336.0" stroke="#000" stroke-width="2.8"/>
<line x1="328.8" y1="2300.9" x2="328.8" y2="2327.6" stroke="#000" stroke-width="2.8"/>
<line x1="356.5" y1="2321.0" x2="356.5" y2="2349.3" stroke="#000" stroke-width="2.8"/>
<line x1="369.8" y1="2285.9" x2="369.8" y2="2346.0" stroke="#000" stroke-width="2.8"/>
<line x1="383.8" y1="2310.9" x2="383.8" y2="2352.7" stroke="#000" stroke-width="2.8"/>
<line x1="397.2" y1="2304.3" x2="397.2" y2="2344.3" stroke="#000" stroke-width="2.8"/>
<line x1="411.2" y1="2304.3" x2="411.2" y2="2334.3" stroke="#000" stroke-width="2.8"/>
<line x1="424.6" y1="2321.0" x2="424.6" y2="2351.0" stroke="#000" stroke-width="2.8"/>
<line x1="438.9" y1="2324.3" x2="438.9" y2="2349.3" stroke="#000" stroke-width="2.8"/>
<circle cx="110.1" cy="2259.2" r="11.7" fill="#fff" stroke="#000" stroke-width="3.1"/>
<circle cx="124.2" cy="2272.6" r="11.7" fill="#fff" stroke="#000" stroke-width="3.1"/>
<circle cx="136.8" cy="2270.9" r="11.7" fill="#fff" stroke="#000" stroke-width="3.1"/>
<circle cx="150.9" cy="2262.5" r="11.7" fill="#fff" stroke="#000" stroke-width="3.1"/>
<circle cx="165.2" cy="2274.2" r="11.7" fill="#fff" stroke="#000" stroke-width="3.1"/>
<circle cx="178.6" cy="2287.6" r="11.7" fill="#fff" stroke="#000" stroke-width="3.1"/>
<circle cx="191.9" cy="2307.6" r="11.7" fill="#fff" stroke="#000" stroke-width="3.1"/>
<circle cx="205.3" cy="2310.9" r="11.7" fill="#fff" stroke="#000" stroke-width="3.1"/>
<circle cx="219.6" cy="2303.6" r="11.7" fill="#fff" stroke="#000" stroke-width="3.1"/>
<circle cx="233.0" cy="2307.6" r="11.7" fill="#fff" stroke="#000" stroke-width="3.1"/>
<circle cx="247.0" cy="2294.3" r="11.7" fill="#fff" stroke="#000" stroke-width="3.1"/>
<circle cx="260.3" cy="2321.0" r="11.7" fill="#fff" stroke="#000" stroke-width="3.1"/>
<circle cx="274.4" cy="2331.6" r="11.7" fill="#fff" stroke="#000" stroke-width="3.1"/>
<circle cx="287.7" cy="2310.3" r="11.7" fill="#fff" stroke="#000" stroke-width="3.1"/>
<circle cx="301.4" cy="2312.6" r="11.7" fill="#fff" stroke="#000" stroke-width="3.1"/>
<circle cx="315.4" cy="2302.6" r="11.7" fill="#fff" stroke="#000" stroke-width="3.1"/>
<circle cx="328.8" cy="2314.3" r="11.7" fill="#fff" stroke="#000" stroke-width="3.1"/>
<circle cx="342.8" cy="2329.3" r="11.7" fill="#fff" stroke="#000" stroke-width="3.1"/>
<circle cx="356.5" cy="2339.3" r="11.7" fill="#fff" stroke="#000" stroke-width="3.1"/>
<circle cx="369.8" cy="2314.3" r="11.7" fill="#fff" stroke="#000" stroke-width="3.1"/>
<circle cx="383.8" cy="2329.3" r="11.7" fill="#fff" stroke="#000" stroke-width="3.1"/>
<circle cx="397.2" cy="2332.6" r="11.7" fill="#fff" stroke="#000" stroke-width="3.1"/>
<circle cx="411.2" cy="2319.3" r="11.7" fill="#fff" stroke="#000" stroke-width="3.1"/>
<circle cx="424.6" cy="2336.0" r="11.7" fill="#fff" stroke="#000" stroke-width="3.1"/>
<circle cx="438.9" cy="2336.0" r="11.7" fill="#fff" stroke="#000" stroke-width="3.1"/>
<line x1="103.8" y1="2268.6" x2="427.0" y2="2268.6" stroke="#000" stroke-width="3.5" stroke-dasharray="13.35 12.05"/>
<text x="416.4" y="2306.5" font-size="45" text-anchor="middle" stroke="#000" font-weight="bold">**</text>
<line x1="392.2" y1="2300.3" x2="442.3" y2="2300.3" stroke="#000" stroke-width="4.5"/>
<line x1="97.5" y1="2148.6" x2="97.5" y2="2388.5" stroke="#000" stroke-width="3"/>
<line x1="97.5" y1="2150.1" x2="110.5" y2="2150.1" stroke="#000" stroke-width="3"/>
<line x1="97.5" y1="2209.1" x2="110.5" y2="2209.1" stroke="#000" stroke-width="3"/>
<line x1="97.5" y1="2268.6" x2="110.5" y2="2268.6" stroke="#000" stroke-width="3"/>
<line x1="97.5" y1="2327.6" x2="110.5" y2="2327.6" stroke="#000" stroke-width="3"/>
<text x="86.0" y="2160.7" font-size="26" text-anchor="end" stroke="#000">2</text>
<text x="86.0" y="2278.2" font-size="26" text-anchor="end" stroke="#000">1</text>
<text x="86.0" y="2397.7" font-size="26" text-anchor="end" stroke="#000">0</text>
<line x1="96.0" y1="2387.0" x2="440.4" y2="2387.0" stroke="#000" stroke-width="3"/>
<line x1="165.2" y1="2387.0" x2="165.2" y2="2374.0" stroke="#000" stroke-width="3"/>
<line x1="233.6" y1="2387.0" x2="233.6" y2="2374.0" stroke="#000" stroke-width="3"/>
<line x1="302.1" y1="2387.0" x2="302.1" y2="2374.0" stroke="#000" stroke-width="3"/>
<line x1="370.5" y1="2387.0" x2="370.5" y2="2374.0" stroke="#000" stroke-width="3"/>
<line x1="438.3" y1="2387.0" x2="438.3" y2="2374.0" stroke="#000" stroke-width="3"/>
<text x="90.1" y="2414.2" font-size="26" text-anchor="middle" stroke="#000">-5</text>
<text x="165.2" y="2414.2" font-size="26" text-anchor="middle" stroke="#000">0</text>
<text x="233.0" y="2414.2" font-size="26" text-anchor="middle" stroke="#000">5</text>
<text x="300.4" y="2414.2" font-size="26" text-anchor="middle" stroke="#000">10</text>
<text x="370.5" y="2414.2" font-size="26" text-anchor="middle" stroke="#000">15</text>
<text x="438.0" y="2414.2" font-size="26" text-anchor="middle" stroke="#000">20</text>
<text x="31.2" y="2269.5" font-size="26.5" text-anchor="middle" stroke="#000" transform="rotate(-90 31.2 2269.5)">Normalized</text>
<text x="62.9" y="2269.5" font-size="26.5" text-anchor="middle" stroke="#000" transform="rotate(-90 62.9 2269.5)">IPSC/EPSC</text>
<text x="275.4" y="2451.1" font-size="26.5" text-anchor="middle" stroke="#000">Time (min)</text>
<text x="615.2" y="2137.4" font-size="26.3" text-anchor="start" fill="#3196c8" stroke="#3196c8">PIL opto</text>
<line x1="662.6" y1="2145.7" x2="662.6" y2="2158.5" stroke="#2aa5df" stroke-width="3"/>
<polygon points="653.6,2157.5 671.6,2157.5 662.6,2191.5" fill="#2aa5df"/>
<line x1="607.5" y1="2285.9" x2="607.5" y2="2359.3" stroke="#000" stroke-width="2.8"/>
<line x1="635.2" y1="2282.6" x2="635.2" y2="2336.0" stroke="#000" stroke-width="2.8"/>
<line x1="663.6" y1="2277.6" x2="663.6" y2="2337.6" stroke="#000" stroke-width="2.8"/>
<line x1="690.3" y1="2274.2" x2="690.3" y2="2310.9" stroke="#000" stroke-width="2.8"/>
<line x1="703.6" y1="2294.3" x2="703.6" y2="2324.3" stroke="#000" stroke-width="2.8"/>
<line x1="717.6" y1="2295.9" x2="717.6" y2="2341.0" stroke="#000" stroke-width="2.8"/>
<line x1="745.3" y1="2295.9" x2="745.3" y2="2334.3" stroke="#000" stroke-width="2.8"/>
<line x1="758.7" y1="2287.6" x2="758.7" y2="2332.6" stroke="#000" stroke-width="2.8"/>
<line x1="786.0" y1="2299.3" x2="786.0" y2="2336.0" stroke="#000" stroke-width="2.8"/>
<line x1="799.7" y1="2264.2" x2="799.7" y2="2356.0" stroke="#000" stroke-width="2.8"/>
<line x1="813.8" y1="2300.9" x2="813.8" y2="2346.0" stroke="#000" stroke-width="2.8"/>
<line x1="827.1" y1="2284.2" x2="827.1" y2="2324.3" stroke="#000" stroke-width="2.8"/>
<line x1="840.5" y1="2299.3" x2="840.5" y2="2334.3" stroke="#000" stroke-width="2.8"/>
<line x1="854.5" y1="2307.6" x2="854.5" y2="2342.7" stroke="#000" stroke-width="2.8"/>
<line x1="867.8" y1="2272.6" x2="867.8" y2="2342.7" stroke="#000" stroke-width="2.8"/>
<line x1="882.2" y1="2274.2" x2="882.2" y2="2331.0" stroke="#000" stroke-width="2.8"/>
<line x1="895.5" y1="2234.2" x2="895.5" y2="2304.3" stroke="#000" stroke-width="2.8"/>
<line x1="908.9" y1="2272.6" x2="908.9" y2="2310.9" stroke="#000" stroke-width="2.8"/>
<line x1="923.2" y1="2275.9" x2="923.2" y2="2351.0" stroke="#000" stroke-width="2.8"/>
<line x1="936.6" y1="2272.6" x2="936.6" y2="2337.6" stroke="#000" stroke-width="2.8"/>
<circle cx="607.5" cy="2323.6" r="11.7" fill="#fff" stroke="#000" stroke-width="3.1"/>
<circle cx="621.8" cy="2319.3" r="11.7" fill="#fff" stroke="#000" stroke-width="3.1"/>
<circle cx="635.2" cy="2308.3" r="11.7" fill="#fff" stroke="#000" stroke-width="3.1"/>
<circle cx="649.2" cy="2308.3" r="11.7" fill="#fff" stroke="#000" stroke-width="3.1"/>
<circle cx="663.6" cy="2307.6" r="11.7" fill="#fff" stroke="#000" stroke-width="3.1"/>
<circle cx="676.9" cy="2310.9" r="11.7" fill="#fff" stroke="#000" stroke-width="3.1"/>
<circle cx="690.3" cy="2297.6" r="11.7" fill="#fff" stroke="#000" stroke-width="3.1"/>
<circle cx="703.6" cy="2313.6" r="11.7" fill="#fff" stroke="#000" stroke-width="3.1"/>
<circle cx="717.6" cy="2317.6" r="11.7" fill="#fff" stroke="#000" stroke-width="3.1"/>
<circle cx="732.0" cy="2329.3" r="11.7" fill="#fff" stroke="#000" stroke-width="3.1"/>
<circle cx="745.3" cy="2314.3" r="11.7" fill="#fff" stroke="#000" stroke-width="3.1"/>
<circle cx="758.7" cy="2309.3" r="11.7" fill="#fff" stroke="#000" stroke-width="3.1"/>
<circle cx="772.0" cy="2311.6" r="11.7" fill="#fff" stroke="#000" stroke-width="3.1"/>
<circle cx="786.0" cy="2317.6" r="11.7" fill="#fff" stroke="#000" stroke-width="3.1"/>
<circle cx="799.7" cy="2307.6" r="11.7" fill="#fff" stroke="#000" stroke-width="3.1"/>
<circle cx="813.8" cy="2321.0" r="11.7" fill="#fff" stroke="#000" stroke-width="3.1"/>
<circle cx="827.1" cy="2305.9" r="11.7" fill="#fff" stroke="#000" stroke-width="3.1"/>
<circle cx="840.5" cy="2317.6" r="11.7" fill="#fff" stroke="#000" stroke-width="3.1"/>
<circle cx="854.5" cy="2324.3" r="11.7" fill="#fff" stroke="#000" stroke-width="3.1"/>
<circle cx="867.8" cy="2305.9" r="11.7" fill="#fff" stroke="#000" stroke-width="3.1"/>
<circle cx="882.2" cy="2302.6" r="11.7" fill="#fff" stroke="#000" stroke-width="3.1"/>
<circle cx="895.5" cy="2272.6" r="11.7" fill="#fff" stroke="#000" stroke-width="3.1"/>
<circle cx="908.9" cy="2294.3" r="11.7" fill="#fff" stroke="#000" stroke-width="3.1"/>
<circle cx="923.2" cy="2313.6" r="11.7" fill="#fff" stroke="#000" stroke-width="3.1"/>
<circle cx="936.6" cy="2305.9" r="11.7" fill="#fff" stroke="#000" stroke-width="3.1"/>
<line x1="601.8" y1="2308.3" x2="937.0" y2="2308.3" stroke="#000" stroke-width="3.5" stroke-dasharray="13.35 12.05"/>
<text x="910.5" y="2214.1" font-size="26" text-anchor="middle" stroke="#000">ns</text>
<line x1="884.5" y1="2222.5" x2="935.6" y2="2222.5" stroke="#000" stroke-width="4.5"/>
<line x1="595.1" y1="2148.6" x2="595.1" y2="2389.2" stroke="#000" stroke-width="3"/>
<line x1="595.1" y1="2150.1" x2="608.1" y2="2150.1" stroke="#000" stroke-width="3"/>
<line x1="595.1" y1="2229.2" x2="608.1" y2="2229.2" stroke="#000" stroke-width="3"/>
<line x1="595.1" y1="2308.3" x2="608.1" y2="2308.3" stroke="#000" stroke-width="3"/>
<text x="588.0" y="2160.7" font-size="26" text-anchor="end" stroke="#000">3</text>
<text x="588.0" y="2239.8" font-size="26" text-anchor="end" stroke="#000">2</text>
<text x="588.0" y="2318.3" font-size="26" text-anchor="end" stroke="#000">1</text>
<text x="588.0" y="2396.7" font-size="26" text-anchor="end" stroke="#000">0</text>
<line x1="593.6" y1="2387.7" x2="938.7" y2="2387.7" stroke="#000" stroke-width="3"/>
<line x1="663.6" y1="2387.7" x2="663.6" y2="2374.7" stroke="#000" stroke-width="3"/>
<line x1="732.0" y1="2387.7" x2="732.0" y2="2374.7" stroke="#000" stroke-width="3"/>
<line x1="800.4" y1="2387.7" x2="800.4" y2="2374.7" stroke="#000" stroke-width="3"/>
<line x1="868.8" y1="2387.7" x2="868.8" y2="2374.7" stroke="#000" stroke-width="3"/>
<line x1="936.6" y1="2387.7" x2="936.6" y2="2374.7" stroke="#000" stroke-width="3"/>
<text x="588.5" y="2414.2" font-size="26" text-anchor="middle" stroke="#000">-5</text>
<text x="662.9" y="2414.2" font-size="26" text-anchor="middle" stroke="#000">0</text>
<text x="730.3" y="2414.2" font-size="26" text-anchor="middle" stroke="#000">5</text>
<text x="798.7" y="2414.2" font-size="26" text-anchor="middle" stroke="#000">10</text>
<text x="868.8" y="2414.2" font-size="26" text-anchor="middle" stroke="#000">15</text>
<text x="935.6" y="2414.2" font-size="26" text-anchor="middle" stroke="#000">20</text>
<text x="532.9" y="2269.5" font-size="26.5" text-anchor="middle" stroke="#000" transform="rotate(-90 532.9 2269.5)">Normalized</text>
<text x="563.7" y="2269.5" font-size="26.5" text-anchor="middle" stroke="#000" transform="rotate(-90 563.7 2269.5)">IPSC/EPSC</text>
<text x="773.7" y="2451.1" font-size="26.5" text-anchor="middle" stroke="#000">Time (min)</text>
<text x="1141.5" y="2137.4" font-size="26.3" text-anchor="start" fill="#3196c8" stroke="#3196c8">PIL opto</text>
<line x1="1188.9" y1="2145.7" x2="1188.9" y2="2158.5" stroke="#2aa5df" stroke-width="3"/>
<polygon points="1179.9,2157.5 1197.9,2157.5 1188.9,2191.5" fill="#2aa5df"/>
<line x1="1130.8" y1="2290.9" x2="1130.8" y2="2321.0" stroke="#000" stroke-width="2.8"/>
<line x1="1144.9" y1="2279.2" x2="1144.9" y2="2317.6" stroke="#000" stroke-width="2.8"/>
<line x1="1159.9" y1="2300.9" x2="1159.9" y2="2347.7" stroke="#000" stroke-width="2.8"/>
<line x1="1173.2" y1="2294.3" x2="1173.2" y2="2310.9" stroke="#000" stroke-width="2.8"/>
<line x1="1187.3" y1="2292.6" x2="1187.3" y2="2327.6" stroke="#000" stroke-width="2.8"/>
<line x1="1201.6" y1="2295.9" x2="1201.6" y2="2334.3" stroke="#000" stroke-width="2.8"/>
<line x1="1230.0" y1="2267.6" x2="1230.0" y2="2322.6" stroke="#000" stroke-width="2.8"/>
<line x1="1244.3" y1="2262.5" x2="1244.3" y2="2319.3" stroke="#000" stroke-width="2.8"/>
<line x1="1259.0" y1="2269.2" x2="1259.0" y2="2334.3" stroke="#000" stroke-width="2.8"/>
<line x1="1273.4" y1="2260.9" x2="1273.4" y2="2305.9" stroke="#000" stroke-width="2.8"/>
<line x1="1287.7" y1="2300.9" x2="1287.7" y2="2336.0" stroke="#000" stroke-width="2.8"/>
<line x1="1301.7" y1="2309.3" x2="1301.7" y2="2344.3" stroke="#000" stroke-width="2.8"/>
<line x1="1315.8" y1="2250.9" x2="1315.8" y2="2334.3" stroke="#000" stroke-width="2.8"/>
<line x1="1330.1" y1="2297.6" x2="1330.1" y2="2331.0" stroke="#000" stroke-width="2.8"/>
<line x1="1344.5" y1="2295.9" x2="1344.5" y2="2322.6" stroke="#000" stroke-width="2.8"/>
<line x1="1358.5" y1="2285.9" x2="1358.5" y2="2324.3" stroke="#000" stroke-width="2.8"/>
<line x1="1372.5" y1="2307.6" x2="1372.5" y2="2341.0" stroke="#000" stroke-width="2.8"/>
<line x1="1386.9" y1="2304.3" x2="1386.9" y2="2321.0" stroke="#000" stroke-width="2.8"/>
<line x1="1401.9" y1="2290.9" x2="1401.9" y2="2326.0" stroke="#000" stroke-width="2.8"/>
<line x1="1415.9" y1="2314.3" x2="1415.9" y2="2362.7" stroke="#000" stroke-width="2.8"/>
<line x1="1430.2" y1="2304.3" x2="1430.2" y2="2352.7" stroke="#000" stroke-width="2.8"/>
<line x1="1444.6" y1="2324.3" x2="1444.6" y2="2352.7" stroke="#000" stroke-width="2.8"/>
<circle cx="1130.8" cy="2305.9" r="11.7" fill="#fff" stroke="#000" stroke-width="3.1"/>
<circle cx="1144.9" cy="2299.3" r="11.7" fill="#fff" stroke="#000" stroke-width="3.1"/>
<circle cx="1159.9" cy="2320.3" r="11.7" fill="#fff" stroke="#000" stroke-width="3.1"/>
<circle cx="1173.2" cy="2302.6" r="11.7" fill="#fff" stroke="#000" stroke-width="3.1"/>
<circle cx="1187.3" cy="2310.3" r="11.7" fill="#fff" stroke="#000" stroke-width="3.1"/>
<circle cx="1201.6" cy="2315.9" r="11.7" fill="#fff" stroke="#000" stroke-width="3.1"/>
<circle cx="1215.6" cy="2309.3" r="11.7" fill="#fff" stroke="#000" stroke-width="3.1"/>
<circle cx="1230.0" cy="2293.6" r="11.7" fill="#fff" stroke="#000" stroke-width="3.1"/>
<circle cx="1244.3" cy="2290.2" r="11.7" fill="#fff" stroke="#000" stroke-width="3.1"/>
<circle cx="1259.0" cy="2302.6" r="11.7" fill="#fff" stroke="#000" stroke-width="3.1"/>
<circle cx="1273.4" cy="2287.6" r="11.7" fill="#fff" stroke="#000" stroke-width="3.1"/>
<circle cx="1287.7" cy="2317.6" r="11.7" fill="#fff" stroke="#000" stroke-width="3.1"/>
<circle cx="1301.7" cy="2324.3" r="11.7" fill="#fff" stroke="#000" stroke-width="3.1"/>
<circle cx="1315.8" cy="2291.6" r="11.7" fill="#fff" stroke="#000" stroke-width="3.1"/>
<circle cx="1330.1" cy="2314.3" r="11.7" fill="#fff" stroke="#000" stroke-width="3.1"/>
<circle cx="1344.5" cy="2317.6" r="11.7" fill="#fff" stroke="#000" stroke-width="3.1"/>
<circle cx="1358.5" cy="2305.9" r="11.7" fill="#fff" stroke="#000" stroke-width="3.1"/>
<circle cx="1372.5" cy="2324.3" r="11.7" fill="#fff" stroke="#000" stroke-width="3.1"/>
<circle cx="1386.9" cy="2313.6" r="11.7" fill="#fff" stroke="#000" stroke-width="3.1"/>
<circle cx="1401.9" cy="2307.6" r="11.7" fill="#fff" stroke="#000" stroke-width="3.1"/>
<circle cx="1415.9" cy="2339.3" r="11.7" fill="#fff" stroke="#000" stroke-width="3.1"/>
<circle cx="1430.2" cy="2327.6" r="11.7" fill="#fff" stroke="#000" stroke-width="3.1"/>
<circle cx="1444.6" cy="2339.3" r="11.7" fill="#fff" stroke="#000" stroke-width="3.1"/>
<line x1="1123.8" y1="2306.9" x2="1462.0" y2="2306.9" stroke="#000" stroke-width="3.5" stroke-dasharray="13.35 12.05"/>
<text x="1417.4" y="2250.9" font-size="26" text-anchor="middle" stroke="#000">ns</text>
<line x1="1391.9" y1="2258.5" x2="1442.6" y2="2258.5" stroke="#000" stroke-width="4.5"/>
<line x1="1117.2" y1="2147.6" x2="1117.2" y2="2387.5" stroke="#000" stroke-width="3"/>
<line x1="1117.2" y1="2149.1" x2="1130.2" y2="2149.1" stroke="#000" stroke-width="3"/>
<line x1="1117.2" y1="2228.2" x2="1130.2" y2="2228.2" stroke="#000" stroke-width="3"/>
<line x1="1117.2" y1="2306.9" x2="1130.2" y2="2306.9" stroke="#000" stroke-width="3"/>
<text x="1109.0" y="2159.7" font-size="26" text-anchor="end" stroke="#000">3</text>
<text x="1109.0" y="2238.1" font-size="26" text-anchor="end" stroke="#000">2</text>
<text x="1109.0" y="2316.6" font-size="26" text-anchor="end" stroke="#000">1</text>
<text x="1109.0" y="2396.7" font-size="26" text-anchor="end" stroke="#000">0</text>
<line x1="1115.7" y1="2386.0" x2="1474.1" y2="2386.0" stroke="#000" stroke-width="3"/>
<line x1="1188.3" y1="2386.0" x2="1188.3" y2="2373.0" stroke="#000" stroke-width="3"/>
<line x1="1259.0" y1="2386.0" x2="1259.0" y2="2373.0" stroke="#000" stroke-width="3"/>
<line x1="1330.1" y1="2386.0" x2="1330.1" y2="2373.0" stroke="#000" stroke-width="3"/>
<line x1="1401.9" y1="2386.0" x2="1401.9" y2="2373.0" stroke="#000" stroke-width="3"/>
<line x1="1472.0" y1="2386.0" x2="1472.0" y2="2373.0" stroke="#000" stroke-width="3"/>
<text x="1114.8" y="2414.2" font-size="26" text-anchor="middle" stroke="#000">-5</text>
<text x="1188.9" y="2414.2" font-size="26" text-anchor="middle" stroke="#000">0</text>
<text x="1260.0" y="2414.2" font-size="26" text-anchor="middle" stroke="#000">5</text>
<text x="1331.1" y="2414.2" font-size="26" text-anchor="middle" stroke="#000">10</text>
<text x="1403.5" y="2414.2" font-size="26" text-anchor="middle" stroke="#000">15</text>
<text x="1472.0" y="2414.2" font-size="26" text-anchor="middle" stroke="#000">20</text>
<text x="1022.5" y="2263.0" font-size="26.5" text-anchor="middle" stroke="#000" transform="rotate(-90 1022.5 2263.0)">Normalized</text>
<text x="1053.4" y="2263.0" font-size="26.5" text-anchor="middle" stroke="#000" transform="rotate(-90 1053.4 2263.0)">IPSC/EPSC</text>
<text x="1300.0" y="2451.1" font-size="26.5" text-anchor="middle" stroke="#000">Time (min)</text>
</svg></body></html>
